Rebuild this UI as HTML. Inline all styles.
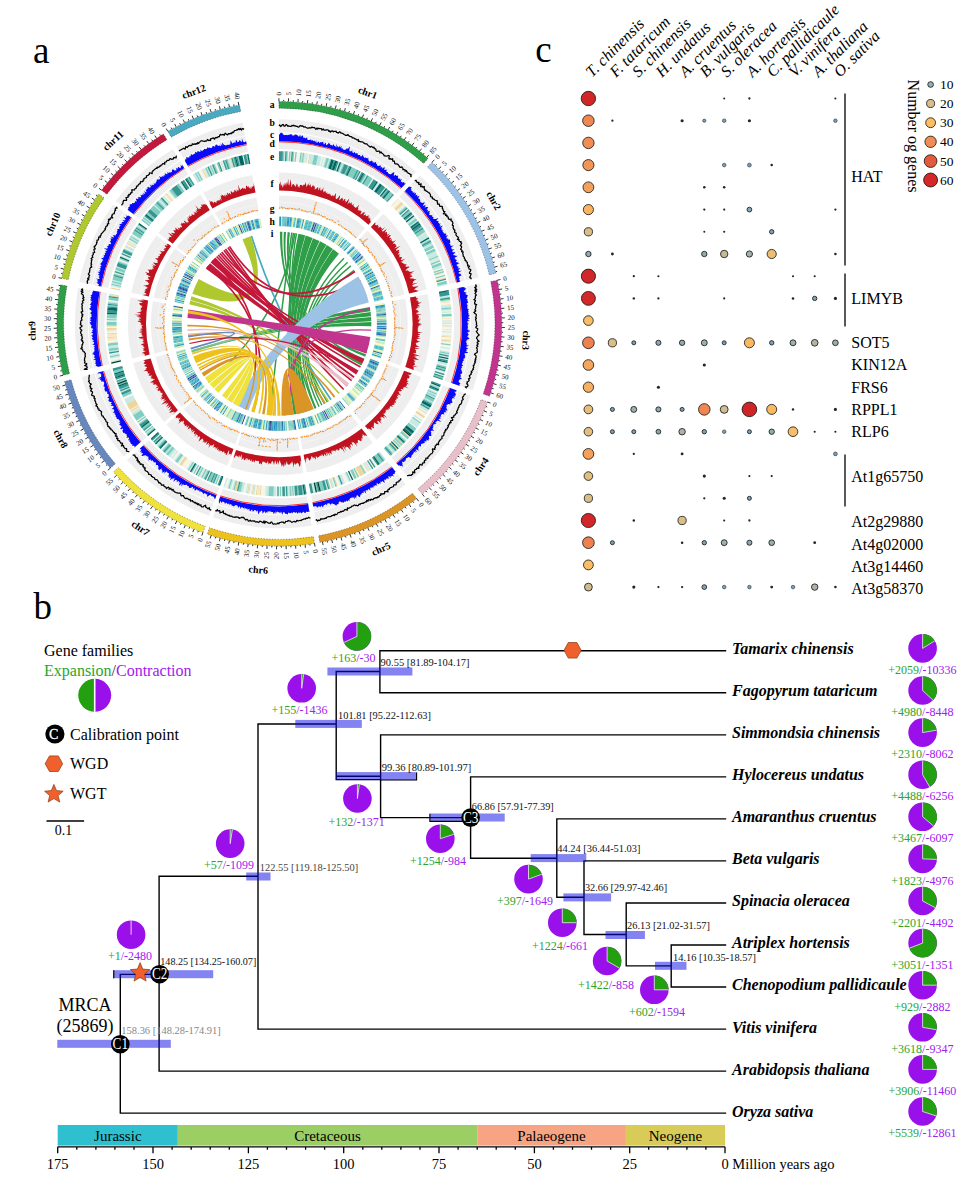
<!DOCTYPE html><html><head><meta charset="utf-8"><title>Figure</title><style>html,body{margin:0;padding:0;background:#fff}svg{display:block}text{font-family:'Liberation Serif',serif}</style></head><body>
<svg width="978" height="1192" viewBox="0 0 978 1192">
<rect width="978" height="1192" fill="#fff"/>
<text x="33" y="62.6" font-size="37">a</text>
<text x="33.5" y="619.2" font-size="37">b</text>
<text x="535.2" y="61.5" font-size="37">c</text>
<g id="circos">
<path d="M278.9,119.3A204.5,204.5 0 0 1 416.1,171.8L407.4,181.4A191.5,191.5 0 0 0 279.0,132.3ZM279.0,133.2A190.6,190.6 0 0 1 406.8,182.1L396.3,193.8A174.8,174.8 0 0 0 279.0,149.0ZM279.0,172.5A151.3,151.3 0 0 1 380.5,211.3L368.5,224.7A133.3,133.3 0 0 0 279.1,190.5ZM279.1,195.4A128.4,128.4 0 0 1 365.2,228.3L355.9,238.7A114.5,114.5 0 0 0 279.1,209.3ZM419.8,175.2A204.5,204.5 0 0 1 478.5,277.4L465.8,280.3A191.5,191.5 0 0 0 410.9,184.6ZM410.3,185.3A190.6,190.6 0 0 1 464.9,280.6L449.6,284.1A174.8,174.8 0 0 0 399.4,196.7ZM383.3,213.8A151.3,151.3 0 0 1 426.7,289.5L409.1,293.5A133.3,133.3 0 0 0 370.9,226.9ZM367.5,230.5A128.4,128.4 0 0 1 404.4,294.6L390.8,297.8A114.5,114.5 0 0 0 358.0,240.6ZM479.8,283.7A204.5,204.5 0 0 1 472.7,390.3L460.4,386.1A191.5,191.5 0 0 0 467.1,286.2ZM466.2,286.4A190.6,190.6 0 0 1 459.5,385.8L444.6,380.7A174.8,174.8 0 0 0 450.7,289.5ZM427.7,294.1A151.3,151.3 0 0 1 422.4,373.0L405.3,367.1A133.3,133.3 0 0 0 410.0,297.6ZM405.2,298.6A128.4,128.4 0 0 1 400.7,365.6L387.6,361.0A114.5,114.5 0 0 0 391.6,301.3ZM470.7,395.7A204.5,204.5 0 0 1 410.8,480.4L402.4,470.4A191.5,191.5 0 0 0 458.6,391.1ZM457.7,390.8A190.6,190.6 0 0 1 401.8,469.8L391.7,457.7A174.8,174.8 0 0 0 442.9,385.3ZM420.9,377.0A151.3,151.3 0 0 1 376.6,439.7L365.0,425.9A133.3,133.3 0 0 0 404.1,370.7ZM399.5,368.9A128.4,128.4 0 0 1 361.8,422.1L352.9,411.5A114.5,114.5 0 0 0 386.5,364.0ZM405.6,484.6A204.5,204.5 0 0 1 316.6,524.8L314.2,512.0A191.5,191.5 0 0 0 397.6,474.3ZM397.0,473.6A190.6,190.6 0 0 1 314.0,511.2L311.2,495.6A174.8,174.8 0 0 0 387.3,461.2ZM372.8,442.7A151.3,151.3 0 0 1 306.9,472.5L303.6,454.8A133.3,133.3 0 0 0 361.6,428.6ZM358.6,424.7A128.4,128.4 0 0 1 302.7,450.0L300.2,436.3A114.5,114.5 0 0 0 350.0,413.8ZM311.6,525.7A204.5,204.5 0 0 1 213.1,517.2L217.3,504.9A191.5,191.5 0 0 0 309.6,512.8ZM309.4,512.0A190.6,190.6 0 0 1 217.6,504.1L222.7,489.1A174.8,174.8 0 0 0 306.9,496.3ZM303.2,473.1A151.3,151.3 0 0 1 230.3,466.9L236.1,449.9A133.3,133.3 0 0 0 300.4,455.4ZM299.6,450.5A128.4,128.4 0 0 1 237.7,445.2L242.2,432.1A114.5,114.5 0 0 0 297.4,436.8ZM209.0,515.8A204.5,204.5 0 0 1 126.9,460.1L136.5,451.4A191.5,191.5 0 0 0 213.5,503.6ZM213.8,502.7A190.6,190.6 0 0 1 137.2,450.8L149.0,440.3A174.8,174.8 0 0 0 219.2,487.9ZM227.3,465.8A151.3,151.3 0 0 1 166.5,424.6L179.9,412.6A133.3,133.3 0 0 0 233.5,448.9ZM235.2,444.3A128.4,128.4 0 0 1 183.6,409.3L193.9,400.1A114.5,114.5 0 0 0 240.0,431.3ZM123.8,456.6A204.5,204.5 0 0 1 81.8,376.9L94.4,373.5A191.5,191.5 0 0 0 133.7,448.1ZM134.4,447.5A190.6,190.6 0 0 1 95.2,373.2L110.5,369.1A174.8,174.8 0 0 0 146.4,437.3ZM164.3,422.0A151.3,151.3 0 0 1 133.2,363.0L150.6,358.4A133.3,133.3 0 0 0 177.9,410.3ZM181.7,407.1A128.4,128.4 0 0 1 155.3,357.1L168.7,353.5A114.5,114.5 0 0 0 192.2,398.1ZM80.4,371.1A204.5,204.5 0 0 1 78.0,287.9L90.8,290.2A191.5,191.5 0 0 0 93.0,368.1ZM93.9,367.9A190.6,190.6 0 0 1 91.7,290.3L107.2,293.1A174.8,174.8 0 0 0 109.3,364.3ZM132.1,358.8A151.3,151.3 0 0 1 130.3,297.2L148.1,300.4A133.3,133.3 0 0 0 149.6,354.6ZM154.4,353.5A128.4,128.4 0 0 1 152.9,301.2L166.6,303.7A114.5,114.5 0 0 0 167.9,350.3ZM79.1,281.9A204.5,204.5 0 0 1 113.2,204.4L123.8,212.0A191.5,191.5 0 0 0 91.8,284.6ZM92.7,284.8A190.6,190.6 0 0 1 124.5,212.5L137.3,221.7A174.8,174.8 0 0 0 108.2,288.0ZM131.2,292.8A151.3,151.3 0 0 1 156.4,235.5L171.0,246.0A133.3,133.3 0 0 0 148.8,296.5ZM153.6,297.5A128.4,128.4 0 0 1 175.0,248.8L186.3,256.9A114.5,114.5 0 0 0 167.2,300.3ZM115.8,201.0A204.5,204.5 0 0 1 172.8,149.2L179.5,160.3A191.5,191.5 0 0 0 126.2,208.8ZM126.9,209.3A190.6,190.6 0 0 1 180.0,161.1L188.2,174.5A174.8,174.8 0 0 0 139.5,218.8ZM158.3,232.9A151.3,151.3 0 0 1 200.5,194.6L209.8,210.0A133.3,133.3 0 0 0 172.7,243.7ZM176.6,246.7A128.4,128.4 0 0 1 212.4,214.2L219.6,226.0A114.5,114.5 0 0 0 187.7,255.0ZM176.7,146.8A204.5,204.5 0 0 1 242.7,122.5L245.1,135.3A191.5,191.5 0 0 0 183.3,158.1ZM183.7,158.9A190.6,190.6 0 0 1 245.2,136.2L248.0,151.8A174.8,174.8 0 0 0 191.6,172.5ZM203.4,192.9A151.3,151.3 0 0 1 252.2,174.9L255.5,192.6A133.3,133.3 0 0 0 212.4,208.4ZM214.9,212.7A128.4,128.4 0 0 1 256.3,197.4L258.8,211.1A114.5,114.5 0 0 0 221.9,224.7Z" fill="#eeeeee"/>
<path d="M279.0,125.8A198,198 0 0 1 411.8,176.6M279.0,137.2A186.6,186.6 0 0 1 404.2,185.1M279.1,181.5A142.3,142.3 0 0 1 374.5,218.0M279.1,202.4A121.4,121.4 0 0 1 360.5,233.5M415.3,179.9A198,198 0 0 1 472.1,278.9M407.5,188.2A186.6,186.6 0 0 1 461.0,281.5M377.1,220.4A142.3,142.3 0 0 1 417.9,291.5M362.7,235.5A121.4,121.4 0 0 1 397.5,296.2M473.5,285.0A198,198 0 0 1 466.5,388.2M462.3,287.2A186.6,186.6 0 0 1 455.7,384.5M418.8,295.9A142.3,142.3 0 0 1 413.8,370.1M398.3,300.0A121.4,121.4 0 0 1 394.1,363.3M464.6,393.4A198,198 0 0 1 406.6,475.4M454.0,389.4A186.6,186.6 0 0 1 399.2,466.7M412.5,373.8A142.3,142.3 0 0 1 370.8,432.8M392.9,366.5A121.4,121.4 0 0 1 357.3,416.7M401.6,479.5A198,198 0 0 1 315.4,518.4M394.6,470.5A186.6,186.6 0 0 1 313.3,507.2M367.2,435.7A142.3,142.3 0 0 1 305.2,463.7M354.3,419.2A121.4,121.4 0 0 1 301.4,443.1M310.6,519.3A198,198 0 0 1 215.2,511.1M308.8,508.0A186.6,186.6 0 0 1 218.9,500.3M301.8,464.3A142.3,142.3 0 0 1 233.2,458.4M298.5,443.6A121.4,121.4 0 0 1 240.0,438.6M211.3,509.7A198,198 0 0 1 131.7,455.7M215.2,499.0A186.6,186.6 0 0 1 140.2,448.1M230.4,457.4A142.3,142.3 0 0 1 173.2,418.6M237.6,437.8A121.4,121.4 0 0 1 188.8,404.7M128.7,452.3A198,198 0 0 1 88.1,375.2M137.4,444.9A186.6,186.6 0 0 1 99.1,372.2M171.1,416.2A142.3,142.3 0 0 1 141.9,360.7M187.0,402.6A121.4,121.4 0 0 1 162.1,355.3M86.7,369.6A198,198 0 0 1 84.4,289.0M97.8,367.0A186.6,186.6 0 0 1 95.6,291.0M140.9,356.7A142.3,142.3 0 0 1 139.2,298.8M161.2,351.9A121.4,121.4 0 0 1 159.8,302.5M85.5,283.3A198,198 0 0 1 118.5,208.2M96.6,285.6A186.6,186.6 0 0 1 127.8,214.9M140.0,294.7A142.3,142.3 0 0 1 163.7,240.7M160.5,298.9A121.4,121.4 0 0 1 180.7,252.9M121.0,204.9A198,198 0 0 1 176.1,154.7M130.1,211.7A186.6,186.6 0 0 1 182.1,164.5M165.5,238.3A142.3,142.3 0 0 1 205.2,202.3M182.2,250.9A121.4,121.4 0 0 1 216.0,220.1M180.0,152.5A198,198 0 0 1 243.9,128.9M185.7,162.3A186.6,186.6 0 0 1 245.9,140.2M207.9,200.6A142.3,142.3 0 0 1 253.9,183.7M218.4,218.7A121.4,121.4 0 0 1 257.6,204.3" fill="none" stroke="#f8f8f8" stroke-width="0.6"/>
<path d="M278.9,101.4A222.4,222.4 0 0 1 428.1,158.5L423.6,163.5A215.6,215.6 0 0 0 278.9,108.2Z" fill="#2f9e48" stroke="#222" stroke-width="0.45" stroke-dasharray="1.2 1.6"/>
<path d="M432.1,162.2A222.4,222.4 0 0 1 495.9,273.3L489.3,274.9A215.6,215.6 0 0 0 427.4,167.1Z" fill="#9cc2e6" stroke="#222" stroke-width="0.45" stroke-dasharray="1.2 1.6"/>
<path d="M497.4,280.2A222.4,222.4 0 0 1 489.6,396.2L483.2,393.9A215.6,215.6 0 0 0 490.7,281.5Z" fill="#c1358f" stroke="#222" stroke-width="0.45" stroke-dasharray="1.2 1.6"/>
<path d="M487.5,402.0A222.4,222.4 0 0 1 422.3,494.1L417.9,488.9A215.6,215.6 0 0 0 481.1,399.6Z" fill="#e9bfca" stroke="#222" stroke-width="0.45" stroke-dasharray="1.2 1.6"/>
<path d="M416.7,498.6A222.4,222.4 0 0 1 319.8,542.4L318.6,535.7A215.6,215.6 0 0 0 412.5,493.3Z" fill="#db9527" stroke="#222" stroke-width="0.45" stroke-dasharray="1.2 1.6"/>
<path d="M314.5,543.4A222.4,222.4 0 0 1 207.3,534.2L209.5,527.7A215.6,215.6 0 0 0 313.4,536.6Z" fill="#edc21c" stroke="#222" stroke-width="0.45" stroke-dasharray="1.2 1.6"/>
<path d="M202.9,532.6A222.4,222.4 0 0 1 113.5,472.0L118.6,467.5A215.6,215.6 0 0 0 205.2,526.2Z" fill="#efe23c" stroke="#222" stroke-width="0.45" stroke-dasharray="1.2 1.6"/>
<path d="M110.2,468.2A222.4,222.4 0 0 1 64.5,381.5L71.1,379.7A215.6,215.6 0 0 0 115.4,463.8Z" fill="#6788bf" stroke="#222" stroke-width="0.45" stroke-dasharray="1.2 1.6"/>
<path d="M63.0,375.3A222.4,222.4 0 0 1 60.3,284.7L67.0,285.9A215.6,215.6 0 0 0 69.6,373.7Z" fill="#2f9e48" stroke="#222" stroke-width="0.45" stroke-dasharray="1.2 1.6"/>
<path d="M61.6,278.3A222.4,222.4 0 0 1 98.7,194.0L104.2,197.9A215.6,215.6 0 0 0 68.3,279.7Z" fill="#afc82f" stroke="#222" stroke-width="0.45" stroke-dasharray="1.2 1.6"/>
<path d="M101.5,190.2A222.4,222.4 0 0 1 163.4,133.9L167.0,139.7A215.6,215.6 0 0 0 106.9,194.3Z" fill="#c3183b" stroke="#222" stroke-width="0.45" stroke-dasharray="1.2 1.6"/>
<path d="M167.8,131.3A222.4,222.4 0 0 1 239.5,104.9L240.8,111.6A215.6,215.6 0 0 0 171.2,137.2Z" fill="#49a9c1" stroke="#222" stroke-width="0.45" stroke-dasharray="1.2 1.6"/>
<text transform="translate(278.9,95.4) rotate(-90.1)" font-size="7" dy="2.3" text-anchor="start" fill="#111">0</text>
<text transform="translate(288.7,95.5) rotate(-87.7)" font-size="7" dy="2.3" text-anchor="start" fill="#111">5</text>
<text transform="translate(298.4,96.2) rotate(-85.2)" font-size="7" dy="2.3" text-anchor="start" fill="#111">10</text>
<text transform="translate(308.1,97.2) rotate(-82.8)" font-size="7" dy="2.3" text-anchor="start" fill="#111">15</text>
<text transform="translate(317.8,98.6) rotate(-80.3)" font-size="7" dy="2.3" text-anchor="start" fill="#111">20</text>
<text transform="translate(327.4,100.5) rotate(-77.8)" font-size="7" dy="2.3" text-anchor="start" fill="#111">25</text>
<text transform="translate(336.9,102.7) rotate(-75.4)" font-size="7" dy="2.3" text-anchor="start" fill="#111">30</text>
<text transform="translate(346.3,105.4) rotate(-73.0)" font-size="7" dy="2.3" text-anchor="start" fill="#111">35</text>
<text transform="translate(355.5,108.5) rotate(-70.5)" font-size="7" dy="2.3" text-anchor="start" fill="#111">40</text>
<text transform="translate(364.7,111.9) rotate(-68.0)" font-size="7" dy="2.3" text-anchor="start" fill="#111">45</text>
<text transform="translate(373.7,115.7) rotate(-65.6)" font-size="7" dy="2.3" text-anchor="start" fill="#111">50</text>
<text transform="translate(382.5,120.0) rotate(-63.2)" font-size="7" dy="2.3" text-anchor="start" fill="#111">55</text>
<text transform="translate(391.1,124.6) rotate(-60.7)" font-size="7" dy="2.3" text-anchor="start" fill="#111">60</text>
<text transform="translate(399.5,129.5) rotate(-58.2)" font-size="7" dy="2.3" text-anchor="start" fill="#111">65</text>
<text transform="translate(407.7,134.8) rotate(-55.8)" font-size="7" dy="2.3" text-anchor="start" fill="#111">70</text>
<text transform="translate(415.6,140.5) rotate(-53.4)" font-size="7" dy="2.3" text-anchor="start" fill="#111">75</text>
<text transform="translate(423.3,146.5) rotate(-50.9)" font-size="7" dy="2.3" text-anchor="start" fill="#111">80</text>
<text transform="translate(430.8,152.8) rotate(-48.4)" font-size="7" dy="2.3" text-anchor="start" fill="#111">85</text>
<text transform="translate(436.2,157.8) rotate(-46.6)" font-size="7" dy="2.3" text-anchor="start" fill="#111">0</text>
<text transform="translate(443.2,164.7) rotate(-44.1)" font-size="7" dy="2.3" text-anchor="start" fill="#111">5</text>
<text transform="translate(449.8,171.8) rotate(-41.7)" font-size="7" dy="2.3" text-anchor="start" fill="#111">10</text>
<text transform="translate(456.2,179.2) rotate(-39.2)" font-size="7" dy="2.3" text-anchor="start" fill="#111">15</text>
<text transform="translate(462.2,186.9) rotate(-36.8)" font-size="7" dy="2.3" text-anchor="start" fill="#111">20</text>
<text transform="translate(467.9,194.9) rotate(-34.3)" font-size="7" dy="2.3" text-anchor="start" fill="#111">25</text>
<text transform="translate(473.2,203.1) rotate(-31.9)" font-size="7" dy="2.3" text-anchor="start" fill="#111">30</text>
<text transform="translate(478.2,211.5) rotate(-29.4)" font-size="7" dy="2.3" text-anchor="start" fill="#111">35</text>
<text transform="translate(482.8,220.1) rotate(-27.0)" font-size="7" dy="2.3" text-anchor="start" fill="#111">40</text>
<text transform="translate(487.1,228.9) rotate(-24.5)" font-size="7" dy="2.3" text-anchor="start" fill="#111">45</text>
<text transform="translate(490.9,237.8) rotate(-22.1)" font-size="7" dy="2.3" text-anchor="start" fill="#111">50</text>
<text transform="translate(494.4,246.9) rotate(-19.6)" font-size="7" dy="2.3" text-anchor="start" fill="#111">55</text>
<text transform="translate(497.5,256.2) rotate(-17.2)" font-size="7" dy="2.3" text-anchor="start" fill="#111">60</text>
<text transform="translate(500.2,265.6) rotate(-14.7)" font-size="7" dy="2.3" text-anchor="start" fill="#111">65</text>
<text transform="translate(503.3,279.0) rotate(-11.3)" font-size="7" dy="2.3" text-anchor="start" fill="#111">0</text>
<text transform="translate(505.0,288.6) rotate(-8.8)" font-size="7" dy="2.3" text-anchor="start" fill="#111">5</text>
<text transform="translate(506.3,298.3) rotate(-6.4)" font-size="7" dy="2.3" text-anchor="start" fill="#111">10</text>
<text transform="translate(507.2,308.0) rotate(-3.9)" font-size="7" dy="2.3" text-anchor="start" fill="#111">15</text>
<text transform="translate(507.6,317.8) rotate(-1.5)" font-size="7" dy="2.3" text-anchor="start" fill="#111">20</text>
<text transform="translate(507.7,327.5) rotate(1.0)" font-size="7" dy="2.3" text-anchor="start" fill="#111">25</text>
<text transform="translate(507.3,337.3) rotate(3.4)" font-size="7" dy="2.3" text-anchor="start" fill="#111">30</text>
<text transform="translate(506.5,347.0) rotate(5.9)" font-size="7" dy="2.3" text-anchor="start" fill="#111">35</text>
<text transform="translate(505.3,356.7) rotate(8.3)" font-size="7" dy="2.3" text-anchor="start" fill="#111">40</text>
<text transform="translate(503.7,366.4) rotate(10.8)" font-size="7" dy="2.3" text-anchor="start" fill="#111">45</text>
<text transform="translate(501.7,375.9) rotate(13.2)" font-size="7" dy="2.3" text-anchor="start" fill="#111">50</text>
<text transform="translate(499.2,385.4) rotate(15.7)" font-size="7" dy="2.3" text-anchor="start" fill="#111">55</text>
<text transform="translate(496.4,394.7) rotate(18.1)" font-size="7" dy="2.3" text-anchor="start" fill="#111">60</text>
<text transform="translate(493.1,404.1) rotate(20.6)" font-size="7" dy="2.3" text-anchor="start" fill="#111">0</text>
<text transform="translate(489.5,413.2) rotate(23.0)" font-size="7" dy="2.3" text-anchor="start" fill="#111">5</text>
<text transform="translate(485.5,422.1) rotate(25.5)" font-size="7" dy="2.3" text-anchor="start" fill="#111">10</text>
<text transform="translate(481.1,430.8) rotate(28.0)" font-size="7" dy="2.3" text-anchor="start" fill="#111">15</text>
<text transform="translate(476.3,439.3) rotate(30.4)" font-size="7" dy="2.3" text-anchor="start" fill="#111">20</text>
<text transform="translate(471.2,447.6) rotate(32.9)" font-size="7" dy="2.3" text-anchor="start" fill="#111">25</text>
<text transform="translate(465.7,455.7) rotate(35.3)" font-size="7" dy="2.3" text-anchor="start" fill="#111">30</text>
<text transform="translate(459.9,463.6) rotate(37.8)" font-size="7" dy="2.3" text-anchor="start" fill="#111">35</text>
<text transform="translate(453.8,471.2) rotate(40.2)" font-size="7" dy="2.3" text-anchor="start" fill="#111">40</text>
<text transform="translate(447.3,478.5) rotate(42.7)" font-size="7" dy="2.3" text-anchor="start" fill="#111">45</text>
<text transform="translate(440.5,485.5) rotate(45.1)" font-size="7" dy="2.3" text-anchor="start" fill="#111">50</text>
<text transform="translate(433.5,492.3) rotate(47.5)" font-size="7" dy="2.3" text-anchor="start" fill="#111">55</text>
<text transform="translate(426.1,498.7) rotate(50.0)" font-size="7" dy="2.3" text-anchor="start" fill="#111">60</text>
<text transform="translate(420.4,503.4) rotate(51.8)" font-size="7" dy="2.3" text-anchor="start" fill="#111">0</text>
<text transform="translate(412.6,509.2) rotate(54.3)" font-size="7" dy="2.3" text-anchor="start" fill="#111">5</text>
<text transform="translate(404.5,514.8) rotate(56.7)" font-size="7" dy="2.3" text-anchor="start" fill="#111">10</text>
<text transform="translate(396.3,519.9) rotate(59.2)" font-size="7" dy="2.3" text-anchor="start" fill="#111">15</text>
<text transform="translate(387.8,524.8) rotate(61.6)" font-size="7" dy="2.3" text-anchor="start" fill="#111">20</text>
<text transform="translate(379.1,529.2) rotate(64.1)" font-size="7" dy="2.3" text-anchor="start" fill="#111">25</text>
<text transform="translate(370.2,533.3) rotate(66.5)" font-size="7" dy="2.3" text-anchor="start" fill="#111">30</text>
<text transform="translate(361.2,537.0) rotate(69.0)" font-size="7" dy="2.3" text-anchor="start" fill="#111">35</text>
<text transform="translate(352.0,540.3) rotate(71.4)" font-size="7" dy="2.3" text-anchor="start" fill="#111">40</text>
<text transform="translate(342.6,543.2) rotate(73.9)" font-size="7" dy="2.3" text-anchor="start" fill="#111">45</text>
<text transform="translate(333.2,545.7) rotate(76.3)" font-size="7" dy="2.3" text-anchor="start" fill="#111">50</text>
<text transform="translate(323.7,547.8) rotate(78.8)" font-size="7" dy="2.3" text-anchor="start" fill="#111">55</text>
<text transform="translate(315.4,549.3) rotate(80.9)" font-size="7" dy="2.3" text-anchor="start" fill="#111">0</text>
<text transform="translate(305.7,550.6) rotate(83.3)" font-size="7" dy="2.3" text-anchor="start" fill="#111">5</text>
<text transform="translate(296.0,551.5) rotate(85.8)" font-size="7" dy="2.3" text-anchor="start" fill="#111">10</text>
<text transform="translate(286.3,552.0) rotate(88.2)" font-size="7" dy="2.3" text-anchor="start" fill="#111">15</text>
<text transform="translate(276.5,552.1) rotate(270.7)" font-size="7" dy="2.3" text-anchor="end" fill="#111">20</text>
<text transform="translate(266.7,551.8) rotate(273.1)" font-size="7" dy="2.3" text-anchor="end" fill="#111">25</text>
<text transform="translate(257.0,551.1) rotate(275.6)" font-size="7" dy="2.3" text-anchor="end" fill="#111">30</text>
<text transform="translate(247.3,549.9) rotate(278.0)" font-size="7" dy="2.3" text-anchor="end" fill="#111">35</text>
<text transform="translate(237.7,548.3) rotate(280.5)" font-size="7" dy="2.3" text-anchor="end" fill="#111">40</text>
<text transform="translate(228.1,546.3) rotate(282.9)" font-size="7" dy="2.3" text-anchor="end" fill="#111">45</text>
<text transform="translate(218.6,543.9) rotate(285.4)" font-size="7" dy="2.3" text-anchor="end" fill="#111">50</text>
<text transform="translate(209.3,541.2) rotate(287.8)" font-size="7" dy="2.3" text-anchor="end" fill="#111">55</text>
<text transform="translate(200.8,538.2) rotate(290.1)" font-size="7" dy="2.3" text-anchor="end" fill="#111">0</text>
<text transform="translate(191.7,534.7) rotate(292.5)" font-size="7" dy="2.3" text-anchor="end" fill="#111">5</text>
<text transform="translate(182.8,530.8) rotate(295.0)" font-size="7" dy="2.3" text-anchor="end" fill="#111">10</text>
<text transform="translate(174.0,526.4) rotate(297.4)" font-size="7" dy="2.3" text-anchor="end" fill="#111">15</text>
<text transform="translate(165.4,521.7) rotate(299.9)" font-size="7" dy="2.3" text-anchor="end" fill="#111">20</text>
<text transform="translate(157.1,516.7) rotate(302.3)" font-size="7" dy="2.3" text-anchor="end" fill="#111">25</text>
<text transform="translate(148.9,511.3) rotate(304.8)" font-size="7" dy="2.3" text-anchor="end" fill="#111">30</text>
<text transform="translate(141.1,505.6) rotate(307.2)" font-size="7" dy="2.3" text-anchor="end" fill="#111">35</text>
<text transform="translate(133.4,499.5) rotate(309.7)" font-size="7" dy="2.3" text-anchor="end" fill="#111">40</text>
<text transform="translate(126.0,493.1) rotate(312.1)" font-size="7" dy="2.3" text-anchor="end" fill="#111">45</text>
<text transform="translate(118.9,486.4) rotate(314.6)" font-size="7" dy="2.3" text-anchor="end" fill="#111">50</text>
<text transform="translate(112.1,479.4) rotate(317.0)" font-size="7" dy="2.3" text-anchor="end" fill="#111">55</text>
<text transform="translate(105.6,472.1) rotate(319.5)" font-size="7" dy="2.3" text-anchor="end" fill="#111">0</text>
<text transform="translate(99.4,464.5) rotate(321.9)" font-size="7" dy="2.3" text-anchor="end" fill="#111">5</text>
<text transform="translate(93.6,456.7) rotate(324.4)" font-size="7" dy="2.3" text-anchor="end" fill="#111">10</text>
<text transform="translate(88.1,448.6) rotate(326.8)" font-size="7" dy="2.3" text-anchor="end" fill="#111">15</text>
<text transform="translate(82.9,440.4) rotate(329.3)" font-size="7" dy="2.3" text-anchor="end" fill="#111">20</text>
<text transform="translate(78.1,431.9) rotate(331.7)" font-size="7" dy="2.3" text-anchor="end" fill="#111">25</text>
<text transform="translate(73.7,423.2) rotate(334.2)" font-size="7" dy="2.3" text-anchor="end" fill="#111">30</text>
<text transform="translate(69.6,414.3) rotate(336.6)" font-size="7" dy="2.3" text-anchor="end" fill="#111">35</text>
<text transform="translate(65.9,405.2) rotate(339.1)" font-size="7" dy="2.3" text-anchor="end" fill="#111">40</text>
<text transform="translate(62.6,396.0) rotate(341.5)" font-size="7" dy="2.3" text-anchor="end" fill="#111">45</text>
<text transform="translate(59.7,386.7) rotate(344.0)" font-size="7" dy="2.3" text-anchor="end" fill="#111">50</text>
<text transform="translate(57.1,376.7) rotate(346.6)" font-size="7" dy="2.3" text-anchor="end" fill="#111">0</text>
<text transform="translate(55.1,367.1) rotate(349.1)" font-size="7" dy="2.3" text-anchor="end" fill="#111">5</text>
<text transform="translate(53.4,357.5) rotate(351.5)" font-size="7" dy="2.3" text-anchor="end" fill="#111">10</text>
<text transform="translate(52.2,347.8) rotate(353.9)" font-size="7" dy="2.3" text-anchor="end" fill="#111">15</text>
<text transform="translate(51.4,338.1) rotate(356.4)" font-size="7" dy="2.3" text-anchor="end" fill="#111">20</text>
<text transform="translate(50.9,328.3) rotate(358.8)" font-size="7" dy="2.3" text-anchor="end" fill="#111">25</text>
<text transform="translate(51.0,318.6) rotate(361.3)" font-size="7" dy="2.3" text-anchor="end" fill="#111">30</text>
<text transform="translate(51.4,308.8) rotate(363.7)" font-size="7" dy="2.3" text-anchor="end" fill="#111">35</text>
<text transform="translate(52.2,299.1) rotate(366.2)" font-size="7" dy="2.3" text-anchor="end" fill="#111">40</text>
<text transform="translate(53.5,289.4) rotate(368.6)" font-size="7" dy="2.3" text-anchor="end" fill="#111">45</text>
<text transform="translate(55.7,277.0) rotate(371.8)" font-size="7" dy="2.3" text-anchor="end" fill="#111">0</text>
<text transform="translate(57.9,267.5) rotate(374.2)" font-size="7" dy="2.3" text-anchor="end" fill="#111">5</text>
<text transform="translate(60.5,258.1) rotate(376.7)" font-size="7" dy="2.3" text-anchor="end" fill="#111">10</text>
<text transform="translate(63.5,248.8) rotate(379.1)" font-size="7" dy="2.3" text-anchor="end" fill="#111">15</text>
<text transform="translate(66.9,239.7) rotate(381.6)" font-size="7" dy="2.3" text-anchor="end" fill="#111">20</text>
<text transform="translate(70.7,230.7) rotate(384.0)" font-size="7" dy="2.3" text-anchor="end" fill="#111">25</text>
<text transform="translate(74.9,221.8) rotate(386.5)" font-size="7" dy="2.3" text-anchor="end" fill="#111">30</text>
<text transform="translate(79.4,213.2) rotate(388.9)" font-size="7" dy="2.3" text-anchor="end" fill="#111">35</text>
<text transform="translate(84.3,204.8) rotate(391.4)" font-size="7" dy="2.3" text-anchor="end" fill="#111">40</text>
<text transform="translate(89.6,196.5) rotate(393.8)" font-size="7" dy="2.3" text-anchor="end" fill="#111">45</text>
<text transform="translate(96.7,186.6) rotate(396.9)" font-size="7" dy="2.3" text-anchor="end" fill="#111">0</text>
<text transform="translate(102.7,178.9) rotate(399.3)" font-size="7" dy="2.3" text-anchor="end" fill="#111">5</text>
<text transform="translate(109.0,171.5) rotate(401.8)" font-size="7" dy="2.3" text-anchor="end" fill="#111">10</text>
<text transform="translate(115.7,164.4) rotate(404.2)" font-size="7" dy="2.3" text-anchor="end" fill="#111">15</text>
<text transform="translate(122.7,157.5) rotate(406.7)" font-size="7" dy="2.3" text-anchor="end" fill="#111">20</text>
<text transform="translate(129.9,151.0) rotate(409.1)" font-size="7" dy="2.3" text-anchor="end" fill="#111">25</text>
<text transform="translate(137.4,144.8) rotate(411.6)" font-size="7" dy="2.3" text-anchor="end" fill="#111">30</text>
<text transform="translate(145.2,138.9) rotate(414.0)" font-size="7" dy="2.3" text-anchor="end" fill="#111">35</text>
<text transform="translate(153.2,133.3) rotate(416.5)" font-size="7" dy="2.3" text-anchor="end" fill="#111">40</text>
<text transform="translate(164.8,126.1) rotate(419.9)" font-size="7" dy="2.3" text-anchor="end" fill="#111">0</text>
<text transform="translate(173.3,121.4) rotate(422.3)" font-size="7" dy="2.3" text-anchor="end" fill="#111">5</text>
<text transform="translate(182.1,117.1) rotate(424.8)" font-size="7" dy="2.3" text-anchor="end" fill="#111">10</text>
<text transform="translate(191.0,113.1) rotate(427.2)" font-size="7" dy="2.3" text-anchor="end" fill="#111">15</text>
<text transform="translate(200.1,109.5) rotate(429.7)" font-size="7" dy="2.3" text-anchor="end" fill="#111">20</text>
<text transform="translate(209.3,106.3) rotate(432.1)" font-size="7" dy="2.3" text-anchor="end" fill="#111">25</text>
<text transform="translate(218.6,103.6) rotate(434.6)" font-size="7" dy="2.3" text-anchor="end" fill="#111">30</text>
<text transform="translate(228.1,101.2) rotate(437.0)" font-size="7" dy="2.3" text-anchor="end" fill="#111">35</text>
<text transform="translate(237.7,99.2) rotate(439.5)" font-size="7" dy="2.3" text-anchor="end" fill="#111">40</text>
<path d="M278.9,101.4L278.9,98.2M283.7,101.4L283.7,99.8M288.4,101.5L288.6,98.3M293.2,101.8L293.3,100.2M297.9,102.1L298.2,98.9M302.6,102.6L302.8,101.0M307.4,103.1L307.8,100.0M312.1,103.8L312.3,102.2M316.8,104.5L317.3,101.4M321.5,105.4L321.8,103.8M326.1,106.3L326.8,103.2M330.7,107.4L331.1,105.8M335.4,108.5L336.2,105.4M339.9,109.8L340.4,108.2M344.5,111.1L345.4,108.1M349.0,112.6L349.5,111.0M353.5,114.1L354.6,111.1M358.0,115.7L358.6,114.2M362.4,117.5L363.6,114.5M366.8,119.3L367.5,117.8M371.2,121.2L372.5,118.3M375.5,123.2L376.2,121.8M379.7,125.3L381.2,122.5M384.0,127.5L384.7,126.1M388.1,129.8L389.7,127.0M392.3,132.2L393.1,130.8M396.3,134.6L398.0,131.9M400.3,137.2L401.2,135.8M404.3,139.8L406.1,137.2M408.2,142.5L409.1,141.2M412.1,145.3L414.0,142.8M415.8,148.2L416.8,146.9M419.6,151.2L421.6,148.7M423.2,154.2L424.3,153.0M426.8,157.3L428.9,154.9M432.1,162.2L434.3,159.8M435.5,165.5L436.7,164.3M438.9,168.8L441.2,166.6M442.2,172.3L443.3,171.2M445.4,175.8L447.7,173.7M448.5,179.4L449.7,178.3M451.5,183.0L454.0,181.0M454.5,186.8L455.8,185.8M457.4,190.5L459.9,188.6M460.2,194.4L461.5,193.4M462.9,198.3L465.6,196.5M465.6,202.2L466.9,201.3M468.1,206.2L470.8,204.5M470.6,210.3L472.0,209.5M473.0,214.4L475.7,212.8M475.3,218.6L476.7,217.8M477.5,222.8L480.3,221.3M479.6,227.0L481.0,226.3M481.6,231.3L484.5,230.0M483.5,235.7L485.0,235.1M485.4,240.1L488.3,238.9M487.1,244.5L488.6,243.9M488.7,249.0L491.8,247.9M490.3,253.5L491.8,253.0M491.8,258.0L494.8,257.0M493.1,262.5L494.6,262.1M494.4,267.1L497.5,266.3M495.5,271.7L497.1,271.4M497.4,280.2L500.5,279.5M498.3,284.8L499.8,284.6M499.1,289.5L502.2,289.0M499.7,294.2L501.3,294.0M500.3,299.0L503.5,298.6M500.8,303.7L502.4,303.5M501.2,308.4L504.4,308.2M501.4,313.2L503.0,313.1M501.6,317.9L504.8,317.8M501.7,322.7L503.3,322.7M501.7,327.4L504.9,327.5M501.5,332.2L503.1,332.3M501.3,336.9L504.5,337.1M501.0,341.7L502.6,341.8M500.5,346.4L503.7,346.7M500.0,351.1L501.6,351.3M499.4,355.9L502.5,356.3M498.6,360.6L500.2,360.8M497.8,365.2L500.9,365.8M496.9,369.9L498.4,370.2M495.8,374.5L498.9,375.3M494.7,379.2L496.2,379.6M493.5,383.7L496.5,384.6M492.1,388.3L493.7,388.8M490.7,392.8L493.7,393.8M487.5,402.0L490.5,403.1M485.8,406.4L487.2,407.0M483.9,410.8L486.9,412.1M482.0,415.2L483.5,415.8M480.0,419.5L482.9,420.9M477.9,423.8L479.4,424.5M475.8,428.0L478.6,429.5M473.5,432.2L474.9,432.9M471.1,436.3L473.9,437.9M468.7,440.4L470.0,441.2M466.1,444.4L468.8,446.1M463.5,448.4L464.8,449.3M460.8,452.3L463.4,454.1M458.0,456.1L459.3,457.1M455.1,459.9L457.7,461.9M452.2,463.6L453.4,464.6M449.2,467.3L451.6,469.4M446.1,470.9L447.3,472.0M442.9,474.4L445.2,476.6M439.6,477.9L440.8,479.0M436.3,481.3L438.5,483.6M432.9,484.6L434.0,485.8M429.4,487.9L431.6,490.2M425.9,491.0L426.9,492.2M422.3,494.1L424.3,496.6M416.7,498.6L418.7,501.2M412.9,501.5L413.9,502.8M409.1,504.4L410.9,507.0M405.2,507.1L406.1,508.4M401.2,509.7L403.0,512.4M397.2,512.3L398.1,513.7M393.2,514.8L394.8,517.5M389.1,517.2L389.9,518.6M384.9,519.5L386.4,522.3M380.7,521.7L381.4,523.1M376.4,523.8L377.8,526.7M372.1,525.8L372.8,527.3M367.8,527.8L369.1,530.7M363.4,529.6L364.0,531.1M359.0,531.4L360.1,534.4M354.5,533.0L355.1,534.5M350.1,534.6L351.1,537.6M345.5,536.1L346.0,537.6M341.0,537.4L341.9,540.5M336.4,538.7L336.8,540.2M331.8,539.9L332.5,543.0M327.2,540.9L327.5,542.5M322.5,541.9L323.1,545.1M314.5,543.4L315.0,546.5M309.8,544.1L310.0,545.6M305.1,544.7L305.4,547.8M300.3,545.2L300.5,546.7M295.6,545.6L295.8,548.7M290.8,545.9L290.9,547.4M286.1,546.0L286.2,549.2M281.3,546.1L281.4,547.7M276.6,546.1L276.5,549.3M271.8,546.0L271.8,547.6M267.1,545.8L266.9,549.0M262.3,545.5L262.2,547.1M257.6,545.1L257.3,548.3M252.9,544.6L252.7,546.2M248.2,544.0L247.7,547.1M243.5,543.2L243.2,544.8M238.8,542.4L238.2,545.6M234.1,541.5L233.8,543.1M229.5,540.5L228.7,543.6M224.8,539.4L224.4,540.9M220.2,538.2L219.4,541.2M215.7,536.9L215.2,538.4M211.1,535.4L210.1,538.5M202.9,532.6L201.8,535.6M198.4,530.9L197.8,532.4M194.0,529.1L192.8,532.1M189.6,527.3L189.0,528.7M185.3,525.3L184.0,528.2M181.0,523.3L180.3,524.7M176.8,521.1L175.3,524.0M172.6,518.9L171.8,520.3M168.4,516.5L166.8,519.3M164.3,514.1L163.5,515.5M160.3,511.6L158.6,514.3M156.3,509.0L155.4,510.4M152.4,506.4L150.5,509.0M148.5,503.6L147.6,504.9M144.7,500.8L142.7,503.3M140.9,497.9L139.9,499.1M137.2,494.9L135.2,497.3M133.6,491.8L132.6,493.0M130.1,488.6L127.9,491.0M126.6,485.4L125.5,486.6M123.1,482.1L120.9,484.4M119.8,478.7L118.6,479.8M116.5,475.3L114.2,477.5M110.2,468.2L107.8,470.3M107.1,464.5L105.9,465.6M104.2,460.8L101.6,462.8M101.3,457.1L100.0,458.0M98.5,453.2L95.9,455.1M95.7,449.3L94.4,450.2M93.1,445.4L90.4,447.1M90.5,441.4L89.2,442.2M88.1,437.3L85.3,438.9M85.7,433.2L84.3,434.0M83.4,429.0L80.6,430.5M81.2,424.8L79.8,425.5M79.1,420.5L76.2,421.9M77.0,416.2L75.6,416.9M75.1,411.9L72.2,413.2M73.3,407.5L71.8,408.1M71.5,403.1L68.5,404.2M69.9,398.6L68.4,399.2M68.3,394.1L65.3,395.1M66.9,389.6L65.3,390.1M65.5,385.1L62.4,385.9M63.0,375.3L59.8,376.0M61.9,370.7L60.3,371.0M60.9,366.0L57.8,366.6M60.1,361.3L58.5,361.6M59.3,356.6L56.2,357.1M58.7,351.9L57.1,352.1M58.1,347.2L55.0,347.5M57.7,342.5L56.1,342.6M57.3,337.7L54.1,337.9M57.1,333.0L55.5,333.0M56.9,328.2L53.7,328.3M56.9,323.5L55.3,323.5M57.0,318.7L53.8,318.6M57.1,314.0L55.5,313.9M57.4,309.2L54.2,309.0M57.7,304.5L56.1,304.3M58.2,299.7L55.0,299.4M58.8,295.0L57.2,294.8M59.4,290.3L56.3,289.8M60.2,285.6L58.6,285.3M61.6,278.3L58.5,277.6M62.6,273.6L61.1,273.3M63.7,269.0L60.6,268.2M65.0,264.4L63.4,264.0M66.3,259.8L63.2,258.9M67.7,255.3L66.2,254.8M69.2,250.8L66.2,249.7M70.8,246.3L69.3,245.8M72.5,241.9L69.5,240.7M74.3,237.5L72.8,236.9M76.2,233.1L73.3,231.8M78.2,228.8L76.7,228.1M80.3,224.5L77.4,223.1M82.4,220.3L81.0,219.5M84.7,216.1L81.9,214.5M87.0,212.0L85.7,211.2M89.5,207.9L86.7,206.2M92.0,203.8L90.6,203.0M94.6,199.9L91.9,198.1M97.3,195.9L96.0,195.0M101.5,190.2L98.9,188.3M104.3,186.4L103.1,185.5M107.3,182.7L104.8,180.7M110.4,179.1L109.2,178.1M113.5,175.5L111.1,173.4M116.7,172.0L115.5,170.9M120.0,168.6L117.7,166.3M123.3,165.2L122.2,164.1M126.8,161.9L124.6,159.6M130.3,158.7L129.2,157.5M133.8,155.5L131.7,153.1M137.5,152.4L136.4,151.2M141.2,149.5L139.2,146.9M144.9,146.5L143.9,145.3M148.7,143.7L146.9,141.1M152.6,141.0L151.7,139.6M156.5,138.3L154.8,135.6M160.5,135.7L159.7,134.4M167.8,131.3L166.2,128.6M171.9,129.0L171.1,127.6M176.1,126.7L174.6,123.9M180.3,124.6L179.6,123.2M184.6,122.5L183.2,119.6M188.9,120.5L188.3,119.1M193.3,118.7L192.1,115.7M197.7,116.9L197.1,115.4M202.1,115.2L201.0,112.2M206.6,113.6L206.1,112.0M211.1,112.1L210.1,109.0M215.7,110.6L215.2,109.1M220.2,109.3L219.4,106.3M224.8,108.1L224.4,106.6M229.5,107.0L228.7,103.9M234.1,106.0L233.8,104.4M238.8,105.1L238.2,101.9" stroke="#000" stroke-width="0.8" fill="none"/>
<text transform="translate(367.7,92.9) rotate(20.9)" font-size="10" font-weight="bold" text-anchor="middle" dy="3.2">chr1</text>
<text transform="translate(493.7,200.7) rotate(60.2)" font-size="10" font-weight="bold" text-anchor="middle" dy="3.2">chr2</text>
<text transform="translate(525.9,340.3) rotate(93.8)" font-size="10" font-weight="bold" text-anchor="middle" dy="3.2">chr3</text>
<text transform="translate(481.0,466.6) rotate(-54.7)" font-size="10" font-weight="bold" text-anchor="middle" dy="3.2">chr4</text>
<text transform="translate(381.1,549.0) rotate(-24.3)" font-size="10" font-weight="bold" text-anchor="middle" dy="3.2">chr5</text>
<text transform="translate(258.2,570.0) rotate(4.9)" font-size="10" font-weight="bold" text-anchor="middle" dy="3.2">chr6</text>
<text transform="translate(140.5,528.3) rotate(34.1)" font-size="10" font-weight="bold" text-anchor="middle" dy="3.2">chr7</text>
<text transform="translate(60.6,438.9) rotate(62.2)" font-size="10" font-weight="bold" text-anchor="middle" dy="3.2">chr8</text>
<text transform="translate(32.2,330.9) rotate(268.4)" font-size="10" font-weight="bold" text-anchor="middle" dy="3.2">chr9</text>
<text transform="translate(53.0,224.2) rotate(293.8)" font-size="10" font-weight="bold" text-anchor="middle" dy="3.2">chr10</text>
<text transform="translate(113.1,140.8) rotate(317.8)" font-size="10" font-weight="bold" text-anchor="middle" dy="3.2">chr11</text>
<text transform="translate(193.9,91.8) rotate(339.8)" font-size="10" font-weight="bold" text-anchor="middle" dy="3.2">chr12</text>
<path d="M279.0,125.9L279.8,125.0L280.7,126.5L281.6,125.8L282.4,124.7L283.3,124.5L284.1,126.1L285.0,126.2L285.9,124.7L286.8,124.7L287.6,126.1L288.5,125.8L289.3,126.1L290.2,126.4L291.1,126.4L292.0,125.4L292.8,125.9L293.7,125.2L294.6,126.0L295.4,125.9L296.3,126.4L297.1,126.3L297.9,127.0L298.8,127.1L299.8,125.8L300.7,125.6L301.5,126.1L302.4,125.9L303.2,126.4L304.0,127.2L305.0,126.7L305.8,127.3L306.6,127.8L307.4,128.2L308.3,128.1L309.2,127.8L310.1,127.7L310.9,128.1L312.0,127.0L312.7,127.7L313.6,127.6L314.5,127.5L315.2,128.6L315.9,129.4L317.1,128.0L317.8,129.1L318.8,128.2L319.6,128.6L320.6,128.5L321.4,128.6L322.0,130.2L323.2,128.8L323.8,129.9L324.7,130.1L325.6,130.1L326.5,129.8L327.4,129.9L328.3,130.0L328.8,131.4L329.8,130.9L330.4,132.1L331.6,131.1L332.6,130.8L333.2,131.8L334.2,131.4L335.1,131.5L336.1,131.2L336.6,132.5L337.5,132.6L338.3,133.1L339.6,131.8L340.4,132.3L341.0,133.1L341.9,133.2L342.8,133.5L343.5,134.0L344.2,134.5L345.1,134.9L345.8,135.4L346.7,135.4L348.0,134.6L348.6,135.5L349.3,136.1L350.1,136.5L351.0,136.6L351.8,136.8L352.3,137.9L353.3,137.9L354.1,138.1L354.8,138.8L355.7,138.9L356.4,139.5L357.1,140.0L358.3,139.5L358.4,141.5L359.5,141.2L360.2,141.7L361.1,141.8L362.0,141.8L362.9,142.0L363.5,142.9L364.3,143.2L365.0,143.8L365.9,143.9L366.9,143.9L367.4,144.8L368.1,145.4L368.8,145.9L369.5,146.5L370.1,147.1L371.5,146.3L372.2,147.0L372.9,147.5L374.1,147.1L374.2,148.7L375.2,148.6L375.9,149.2L376.0,150.8L376.8,151.3L377.7,151.4L378.9,151.0L379.7,151.3L379.8,152.9L381.3,152.1L381.7,153.1L382.5,153.5L383.2,154.1L383.8,154.7L384.1,155.8L385.2,155.8L385.9,156.2L387.2,155.9L388.5,155.5L389.3,155.9L388.9,158.0L389.2,159.1L390.5,158.7L391.1,159.4L392.7,158.7L392.6,160.3L393.0,161.3L394.2,161.0L394.6,162.0L394.6,163.5L395.4,163.8L396.5,163.8L397.4,164.1L398.1,164.5L398.6,165.4L399.2,166.0L399.6,166.9L400.3,167.4L401.9,166.8L402.2,167.8L403.0,168.2L402.9,169.7L404.1,169.6L405.1,169.8L405.0,171.2L406.5,170.7L406.7,171.9L407.6,172.2L408.0,173.1L408.8,173.4L409.8,173.6L410.1,174.6L411.2,174.6L410.8,176.4L411.5,177.0M414.7,180.6L416.1,180.3L416.4,181.3L416.8,182.1L417.5,182.6L419.0,182.4L418.6,184.0L419.2,184.6L421.2,183.8L420.8,185.4L420.7,186.7L422.4,186.3L422.7,187.2L424.4,186.7L424.1,188.3L424.5,189.1L424.5,190.2L425.8,190.2L426.0,191.2L427.1,191.4L427.8,191.9L428.3,192.6L429.4,192.8L429.7,193.7L430.3,194.4L430.5,195.3L430.5,196.4L431.2,196.9L432.5,197.0L432.2,198.3L433.0,198.9L434.0,199.2L434.6,199.8L435.4,200.3L436.3,200.7L437.4,200.9L437.1,202.2L437.7,202.9L437.4,204.2L439.1,204.0L439.5,204.8L439.5,205.9L440.2,206.4L441.7,206.4L442.5,206.9L442.2,208.2L442.8,208.8L442.9,209.8L443.5,210.5L443.6,211.5L444.9,211.7L443.3,213.8L444.7,213.9L446.0,214.0L445.5,215.4L447.1,215.4L446.8,216.6L448.0,216.9L448.4,217.7L448.3,218.8L449.0,219.3L451.2,219.0L450.8,220.3L451.4,220.9L452.3,221.4L452.6,222.3L453.0,223.1L452.4,224.4L452.4,225.4L453.4,225.9L453.2,227.0L453.1,228.0L453.7,228.7L453.8,229.6L454.9,230.0L454.8,231.0L454.5,232.2L455.4,232.7L456.3,233.2L455.9,234.4L456.1,235.2L456.6,235.9L457.4,236.5L458.0,237.2L458.6,237.9L457.3,239.4L459.1,239.5L458.8,240.6L459.5,241.3L461.1,241.5L460.7,242.6L461.7,243.1L461.2,244.3L460.3,245.6L461.1,246.2L461.7,246.9L461.3,248.0L460.6,249.2L461.4,249.8L462.1,250.5L461.6,251.6L463.2,251.9L462.7,253.0L462.8,253.8L463.2,254.6L463.1,255.6L463.3,256.4L464.1,257.0L464.5,257.8L464.3,258.8L465.3,259.3L465.0,260.4L466.2,260.8L466.2,261.7L467.4,262.3L467.2,263.3L467.5,264.1L468.1,264.8L467.5,265.9L469.6,266.1L468.4,267.4L469.0,268.1L469.0,269.0L470.6,269.4L470.8,270.3L470.3,271.3L469.5,272.4L469.5,273.3L471.2,273.8L470.7,274.8L470.6,275.7L469.9,276.8L469.8,277.7L471.1,278.2L470.7,279.2M476.0,284.4L475.7,285.4L476.4,286.2L474.7,287.4L476.2,288.0L475.1,289.1L476.7,289.7L474.8,290.9L476.6,291.4L475.6,292.5L474.9,293.5L475.8,294.2L476.3,295.0L475.4,296.0L475.4,296.9L475.3,297.8L475.0,298.7L473.9,299.7L475.4,300.4L475.4,301.3L474.6,302.2L474.8,303.1L474.6,303.9L476.6,304.6L475.8,305.6L475.7,306.4L475.7,307.3L475.7,308.2L475.3,309.1L474.8,309.9L475.8,310.7L475.2,311.6L473.9,312.6L475.0,313.4L476.1,314.2L476.3,315.0L476.2,315.9L476.0,316.8L475.5,317.6L476.4,318.5L475.5,319.4L475.8,320.2L476.1,321.1L476.3,321.9L476.5,322.8L476.6,323.6L476.2,324.5L477.0,325.4L476.7,326.2L475.7,327.1L476.4,328.0L477.8,328.8L477.6,329.7L477.2,330.6L476.3,331.4L477.0,332.3L477.5,333.2L478.3,334.1L479.2,335.0L478.1,335.8L477.4,336.6L476.7,337.5L476.6,338.3L477.5,339.3L477.5,340.1L479.1,341.2L477.5,341.9L477.1,342.7L478.2,343.7L477.8,344.5L476.8,345.3L477.8,346.3L477.0,347.1L476.4,347.9L477.3,348.9L477.2,349.7L476.9,350.6L477.5,351.5L477.1,352.4L476.1,353.1L474.9,353.8L474.5,354.6L476.0,355.7L476.1,356.6L476.1,357.5L475.4,358.3L475.9,359.3L474.9,360.0L475.7,361.0L474.6,361.7L475.3,362.7L474.3,363.4L474.2,364.2L474.2,365.1L473.1,365.8L473.6,366.8L473.7,367.7L473.0,368.4L473.4,369.4L472.4,370.1L472.1,370.9L471.2,371.6L471.9,372.6L470.9,373.3L471.2,374.3L470.3,374.9L469.4,375.6L469.5,376.5L470.1,377.5L469.8,378.4L468.5,378.9L469.1,380.0L469.0,380.8L468.1,381.5L466.9,382.0L467.5,383.1L466.7,383.7L468.1,385.1L467.8,385.9L467.3,386.6L465.3,386.9L466.7,388.3M465.8,393.9L464.5,394.3L464.0,395.0L463.7,395.8L463.3,396.6L462.5,397.2L462.6,398.2L463.2,399.4L462.4,400.0L461.8,400.7L461.7,401.6L461.7,402.5L461.2,403.3L460.9,404.1L459.8,404.6L459.4,405.3L458.9,406.0L459.0,407.0L458.3,407.7L458.0,408.5L457.9,409.4L457.4,410.2L457.1,410.9L456.6,411.7L457.2,412.9L456.1,413.4L455.6,414.1L455.3,414.9L454.1,415.3L453.7,416.0L453.9,417.1L452.5,417.4L451.4,417.7L452.8,419.5L452.6,420.4L451.0,420.5L450.6,421.3L451.1,422.6L449.6,422.7L449.7,423.7L448.9,424.3L448.8,425.2L447.8,425.6L448.5,427.0L447.5,427.5L447.4,428.4L446.9,429.1L445.6,429.4L445.9,430.6L444.9,430.9L445.0,432.1L444.1,432.5L444.1,433.5L443.8,434.4L443.8,435.4L443.1,436.0L441.9,436.2L441.9,437.3L442.1,438.5L441.3,439.0L440.3,439.3L440.1,440.3L439.4,440.8L439.1,441.7L438.4,442.2L438.4,443.4L438.6,444.6L436.5,444.1L436.4,445.1L435.7,445.6L435.0,446.2L435.4,447.7L434.5,448.1L434.9,449.5L432.6,448.8L432.4,449.7L433.1,451.4L432.6,452.2L432.3,453.0L431.8,453.7L430.7,454.0L430.2,454.7L429.4,455.2L429.1,456.0L428.3,456.5L427.9,457.4L427.8,458.5L426.0,458.0L425.8,459.0L425.8,460.2L424.7,460.3L424.2,461.1L424.6,462.7L423.5,462.9L422.5,463.1L422.3,464.2L422.1,465.2L420.0,464.3L419.6,465.1L419.3,466.1L418.6,466.7L419.0,468.3L417.5,468.1L416.6,468.4L416.4,469.4L415.3,469.5L414.7,470.1L414.5,471.2L414.8,472.9L412.7,471.8L412.8,473.3L412.6,474.4L411.7,474.7L411.2,475.5L409.8,475.2L408.8,475.4L407.8,475.6L407.2,476.1M400.7,478.2L400.7,479.7L399.9,480.1L399.1,480.4L398.9,481.6L398.0,481.9L397.2,482.3L396.2,482.3L396.3,484.0L395.9,484.9L394.9,484.9L393.7,484.8L393.6,486.2L393.0,486.8L392.0,487.0L391.3,487.5L390.4,487.7L389.7,488.2L389.4,489.3L388.3,489.2L387.8,490.1L388.0,491.9L386.5,491.2L385.7,491.7L384.7,491.6L384.6,493.1L384.1,493.9L382.9,493.7L382.1,494.1L380.8,493.7L380.8,495.3L379.8,495.3L379.3,496.2L378.8,497.1L377.6,496.8L377.2,497.9L376.1,497.7L375.3,497.9L374.5,498.4L373.6,498.4L373.2,499.6L372.2,499.6L371.0,499.2L370.6,500.3L369.4,499.9L368.3,499.6L368.1,501.2L366.7,500.4L366.5,501.9L365.5,501.8L364.8,502.3L364.0,502.6L363.4,503.4L362.3,503.2L361.5,503.5L360.7,503.7L360.0,504.5L359.0,504.2L358.5,505.3L357.8,505.9L356.6,505.2L355.8,505.6L354.6,505.0L353.8,505.3L353.1,506.0L352.3,506.2L351.5,506.4L350.9,507.3L350.0,507.5L349.3,508.0L348.6,508.4L347.4,507.9L347.3,510.1L346.3,509.8L345.3,509.5L344.5,509.9L343.9,510.8L343.2,511.4L342.1,511.1L341.5,511.8L340.4,511.4L339.9,512.5L339.0,512.6L338.1,512.5L337.5,513.5L336.8,514.5L335.9,514.6L334.9,514.2L334.4,515.6L333.3,514.9L332.6,515.6L331.7,515.7L331.0,516.5L330.2,516.7L329.3,516.6L328.4,516.7L327.5,517.0L326.7,517.3L326.1,518.4L325.1,518.1L324.4,518.7L323.5,518.9L322.6,518.8L321.8,519.1L320.8,518.7L320.2,520.1L319.3,520.4L318.4,520.2L317.7,521.1L316.5,519.7L315.7,520.4M310.4,518.2L309.5,517.9L308.6,517.3L307.8,518.1L307.0,518.3L306.1,518.1L305.4,519.1L304.5,518.8L303.6,519.0L302.8,519.7L302.0,519.7L301.2,520.6L300.3,520.3L299.5,520.5L298.6,520.8L297.8,520.9L296.8,520.3L296.1,521.7L295.2,522.0L294.3,521.3L293.5,521.5L292.6,522.0L291.8,522.4L290.9,521.6L290.0,520.9L289.1,521.0L288.2,520.5L287.4,521.4L286.5,521.5L285.7,521.4L284.9,523.0L284.0,523.1L283.1,522.0L282.2,522.1L281.4,522.0L280.5,522.5L279.6,522.7L278.8,523.8L277.9,522.9L277.0,523.9L276.2,524.0L275.3,524.0L274.4,523.8L273.5,524.2L272.7,523.7L271.9,522.2L271.0,522.1L270.1,523.3L269.2,523.2L268.3,523.1L267.5,522.3L266.7,522.0L265.8,521.4L264.8,523.3L264.1,520.9L263.1,522.9L262.3,522.2L261.5,521.7L260.6,521.4L259.8,521.1L258.8,522.5L257.9,522.1L257.1,521.7L256.2,521.9L255.3,522.0L254.6,520.9L253.7,521.2L252.8,520.8L251.9,521.2L251.0,521.1L250.3,520.1L249.3,521.0L248.4,521.2L247.7,519.7L246.9,519.3L245.9,520.0L245.2,519.2L244.4,518.8L243.8,517.4L242.8,517.7L242.1,517.1L241.1,517.8L240.2,517.8L239.2,518.4L238.5,517.3L237.7,517.0L236.8,517.1L236.0,516.8L234.9,517.4L234.2,517.0L233.3,517.0L232.4,516.9L231.7,516.0L230.8,516.0L229.9,516.3L229.3,515.2L228.3,515.6L227.5,515.0L226.8,514.4L225.8,514.6L225.3,513.4L224.3,513.6L223.5,513.2L223.3,510.9L222.0,512.4L221.1,512.3L220.0,512.9L219.8,510.6L218.9,510.9L217.9,510.9L217.4,509.7L216.1,511.1L215.4,510.4M211.3,509.7L210.2,510.0L209.5,509.4L209.3,507.6L207.9,508.8L207.2,508.1L206.5,507.4L205.7,507.2L205.6,505.2L204.4,505.8L203.0,507.0L202.1,506.9L201.2,506.7L201.0,504.9L200.0,505.1L199.1,505.1L198.7,503.7L197.3,504.7L197.1,503.2L196.0,503.5L195.5,502.4L194.4,502.8L193.9,501.9L192.9,501.8L192.6,500.6L191.5,500.8L190.4,501.1L190.3,499.4L189.2,499.7L188.4,499.4L187.8,498.6L187.0,498.2L185.8,498.7L185.0,498.3L184.5,497.5L183.8,496.9L183.5,495.7L182.5,495.6L181.4,495.9L180.8,495.1L180.7,493.6L180.0,493.0L178.9,493.2L177.9,493.2L177.2,492.8L176.3,492.6L175.5,492.2L174.6,492.0L174.1,491.1L173.2,491.0L173.2,489.4L171.8,489.9L171.1,489.4L170.9,488.2L169.1,489.3L169.1,487.7L168.5,487.1L166.4,488.6L166.1,487.6L165.5,486.8L164.6,486.7L163.9,486.1L163.8,484.8L162.4,485.2L161.4,485.1L161.2,483.9L160.4,483.5L159.9,482.7L158.7,482.8L158.5,481.7L157.9,481.0L157.5,480.1L156.7,479.7L155.7,479.6L154.9,479.2L154.6,478.2L154.1,477.5L153.0,477.4L152.5,476.6L151.5,476.5L151.4,475.3L150.7,474.8L149.7,474.5L148.7,474.4L148.7,473.0L148.0,472.6L147.6,471.7L146.8,471.3L145.9,471.0L145.3,470.3L144.7,469.7L145.3,467.8L144.0,467.9L143.9,466.8L142.9,466.6L143.4,464.8L142.1,464.9L141.8,464.0L140.3,464.3L140.1,463.2L139.2,462.9L139.4,461.5L137.9,461.8L138.3,460.1L137.0,460.3L137.5,458.6L137.1,457.7L135.8,457.8L135.7,456.8L134.9,456.3L134.9,455.2L133.7,455.1L132.7,454.8M129.3,451.9L128.3,451.5L127.2,451.4L126.4,450.9L126.7,449.5L126.5,448.5L125.1,448.6L124.5,447.9L123.9,447.3L123.7,446.3L123.4,445.5L121.4,445.9L122.6,443.9L122.2,443.1L120.7,443.2L120.4,442.3L119.8,441.6L119.6,440.7L118.1,440.7L117.7,439.9L118.0,438.6L116.6,438.6L117.1,437.2L116.9,436.2L115.4,436.2L116.0,434.7L116.1,433.6L114.5,433.6L114.5,432.6L113.5,432.2L113.1,431.4L112.5,430.8L112.1,430.0L110.9,429.7L110.9,428.7L109.8,428.4L109.8,427.4L108.9,426.9L107.9,426.4L107.9,425.4L107.4,424.7L107.3,423.7L107.7,422.5L106.7,422.1L106.0,421.5L105.8,420.5L105.6,419.7L104.7,419.2L104.7,418.2L103.8,417.7L103.2,417.0L103.3,416.0L101.8,415.8L101.7,414.8L101.3,414.0L101.3,413.0L101.7,411.9L101.0,411.3L100.4,410.6L99.0,410.3L99.1,409.2L97.9,408.8L97.9,407.9L97.5,407.1L97.2,406.3L95.9,405.9L97.0,404.4L96.1,403.9L95.8,403.0L95.6,402.1L95.5,401.3L94.7,400.6L94.8,399.6L95.2,398.5L93.9,398.1L94.5,396.9L94.0,396.2L92.7,395.7L91.6,395.2L91.8,394.2L92.4,393.0L92.6,392.0L91.8,391.4L90.7,390.9L91.1,389.8L92.0,388.5L90.2,388.2L90.7,387.1L89.9,386.5L90.2,385.4L91.3,384.2L90.1,383.7L89.4,382.9L89.4,382.0L88.5,381.4L89.3,380.3L89.0,379.4L88.9,378.6L88.9,377.7L89.2,376.7L89.2,375.8L89.5,374.8M87.7,369.4L84.3,369.3L87.2,367.8L87.0,366.9L86.9,366.1L84.8,365.6L86.7,364.3L86.7,363.5L84.5,363.0L84.7,362.1L85.0,361.2L84.4,360.4L84.5,359.5L84.7,358.6L84.7,357.7L85.4,356.7L85.3,355.9L85.0,355.0L85.3,354.1L85.4,353.2L84.2,352.6L84.3,351.7L82.8,351.0L82.7,350.2L82.6,349.3L80.9,348.6L82.2,347.6L81.7,346.8L82.2,345.9L81.9,345.0L82.7,344.1L82.8,343.2L83.3,342.3L82.2,341.5L82.6,340.6L81.3,339.9L81.8,338.9L82.5,338.0L82.0,337.2L82.1,336.3L81.2,335.5L81.9,334.6L81.2,333.8L80.6,332.9L80.6,332.1L81.1,331.2L81.8,330.3L80.9,329.5L80.2,328.6L79.9,327.8L81.2,326.9L82.1,326.0L81.0,325.1L80.3,324.3L80.9,323.4L80.5,322.5L80.8,321.7L80.9,320.8L82.1,320.0L81.5,319.1L81.6,318.2L81.6,317.4L82.5,316.5L82.0,315.7L83.0,314.8L81.8,313.9L81.9,313.1L81.1,312.1L82.7,311.4L82.6,310.5L82.1,309.6L82.4,308.8L81.8,307.9L82.2,307.0L82.0,306.1L82.4,305.3L81.8,304.4L82.0,303.5L83.1,302.8L82.6,301.9L82.3,301.0L83.9,300.3L83.6,299.4L82.6,298.4L84.0,297.7L83.1,296.7L83.5,295.9L83.1,295.0L81.5,293.8L81.5,293.0L83.1,292.3L81.1,291.1L82.7,290.5L81.6,289.4L83.1,288.8M87.0,283.6L87.6,282.8L87.0,281.8L87.5,281.0L87.5,280.1L88.8,279.6L87.6,278.4L89.0,277.9L89.0,277.0L89.0,276.1L89.6,275.3L88.2,274.1L88.9,273.4L89.2,272.6L89.7,271.8L89.4,270.8L90.0,270.1L89.8,269.1L90.0,268.3L90.5,267.6L91.9,267.0L91.1,265.9L91.0,265.0L91.7,264.3L91.0,263.2L91.4,262.4L91.5,261.5L91.4,260.5L92.1,259.9L91.1,258.6L91.7,257.9L92.9,257.4L92.4,256.3L92.3,255.3L93.3,254.8L93.4,253.9L93.0,252.8L94.7,252.5L94.4,251.4L94.1,250.4L93.9,249.4L95.3,249.0L94.5,247.7L94.1,246.6L95.1,246.1L95.5,245.3L96.1,244.6L96.7,243.9L96.5,242.8L97.1,242.2L96.9,241.1L97.1,240.2L98.4,239.9L98.5,238.9L98.8,238.1L98.6,237.0L100.6,237.0L100.0,235.8L101.1,235.3L101.1,234.3L101.4,233.5L102.3,233.0L102.8,232.3L103.5,231.6L104.0,230.9L104.4,230.2L105.4,229.7L105.0,228.5L105.8,228.0L105.7,226.9L106.3,226.2L107.3,225.8L107.6,225.0L107.3,223.8L108.8,223.6L108.4,222.4L108.3,221.3L109.1,220.8L108.4,219.3L110.2,219.4L110.2,218.4L111.0,217.9L112.7,217.9L111.5,216.1L112.2,215.5L112.2,214.5L113.1,214.0L114.3,213.7L114.3,212.7L114.6,211.9L114.7,210.8L115.7,210.5L115.1,209.0L115.5,208.2L117.0,208.2L116.5,206.8M121.7,205.4L121.9,204.5L122.6,203.9L123.0,203.1L123.0,202.1L123.3,201.2L123.7,200.3L125.2,200.4L126.5,200.4L126.7,199.4L126.0,197.7L127.1,197.5L128.2,197.2L127.8,195.8L129.1,195.8L128.8,194.4L130.2,194.4L130.7,193.7L130.8,192.6L132.0,192.6L132.0,191.4L131.7,189.9L133.0,189.9L134.4,190.0L134.7,189.1L135.3,188.5L136.3,188.2L136.4,187.1L136.6,186.1L137.8,186.1L138.1,185.2L138.7,184.5L139.3,183.9L140.3,183.6L140.3,182.4L140.7,181.5L142.1,181.8L143.0,181.4L143.0,180.1L143.9,179.8L143.9,178.6L144.7,178.2L145.6,177.8L146.5,177.5L146.4,176.1L147.1,175.6L148.1,175.4L148.7,174.7L149.4,174.3L149.4,172.9L150.6,173.0L152.2,173.6L152.1,172.0L152.7,171.4L153.1,170.6L153.9,170.1L154.6,169.6L155.2,168.9L155.9,168.4L157.0,168.4L157.0,167.0L158.3,167.3L159.2,167.0L159.5,166.0L160.7,166.0L161.0,165.0L161.9,164.8L162.4,164.0L163.1,163.5L164.8,164.3L164.6,162.6L165.3,162.1L166.3,161.9L166.6,160.9L167.3,160.4L168.4,160.4L169.2,160.1L169.6,159.0L170.3,158.6L171.9,159.5L172.6,158.9L173.6,158.8L173.7,157.4L174.9,157.7L176.1,157.9L176.1,156.3L176.8,155.9M179.1,151.0L179.8,150.3L180.6,150.0L181.3,149.5L182.1,149.1L182.9,148.7L183.6,148.2L185.1,149.1L185.4,147.9L185.7,146.6L187.2,147.6L187.8,146.7L188.4,146.1L189.2,145.6L190.0,145.4L191.1,145.7L191.9,145.3L192.2,143.8L193.4,144.4L194.1,143.9L195.3,144.4L195.9,143.6L197.1,144.1L197.4,142.7L198.7,143.5L199.1,142.3L199.9,142.0L200.5,141.0L201.4,140.9L202.3,140.9L203.4,141.2L204.4,141.4L205.1,140.9L206.2,141.2L206.9,140.6L207.4,139.5L208.7,140.6L209.5,140.2L210.5,140.5L210.7,138.6L211.6,138.6L212.4,138.2L213.2,137.8L214.6,139.2L215.1,138.0L215.8,137.4L216.9,137.9L217.5,137.1L218.3,136.7L219.2,136.9L219.7,135.5L220.2,134.4L221.3,134.9L222.2,134.8L223.0,134.3L224.2,135.4L224.7,134.0L225.3,133.2L226.5,134.2L227.6,134.9L228.2,133.9L229.0,133.6L230.0,133.8L230.7,133.1L231.7,133.7L232.2,132.2L233.2,132.5L233.9,131.8L234.5,130.6L235.4,130.5L236.2,130.3L237.0,129.6L237.9,129.8L238.5,128.6L239.6,129.6L240.2,128.4L241.5,130.0L242.1,128.9L242.9,128.5L244.0,129.5" fill="none" stroke="#000" stroke-width="1.25" stroke-linejoin="round"/>
<path d="M279.0,141.2L279.0,134.1L279.7,134.8L280.4,132.8L281.2,133.0L281.9,132.6L282.6,133.5L283.3,134.4L284.0,135.2L284.8,135.1L285.5,135.0L286.2,135.1L287.0,135.0L287.7,135.2L288.4,134.7L289.1,135.0L289.9,134.5L290.6,134.3L291.4,134.0L292.0,135.2L292.8,135.4L293.5,135.5L294.2,135.4L295.1,134.2L295.7,134.8L296.5,134.7L297.2,134.9L297.8,135.7L298.5,136.4L299.2,136.6L300.2,134.5L300.6,136.8L301.4,136.4L302.3,135.3L302.9,136.1L303.4,137.8L304.1,138.0L304.9,137.4L305.5,138.5L306.3,137.8L307.1,137.5L307.5,139.8L308.2,139.9L308.9,140.1L309.7,139.7L310.4,139.8L311.2,139.4L311.7,140.9L312.6,140.0L313.2,140.7L313.8,141.0L314.7,140.5L315.0,142.4L316.2,140.3L316.5,142.5L317.1,143.0L318.1,141.5L318.8,141.7L319.3,142.9L320.1,142.6L321.0,141.7L321.5,142.6L322.4,142.1L323.2,141.6L323.5,143.6L324.0,144.5L325.1,143.2L326.0,142.6L326.0,145.3L326.9,144.7L327.9,143.9L328.9,142.7L329.5,143.5L330.0,144.3L330.5,145.0L331.2,145.2L332.1,144.8L332.5,146.0L333.9,143.8L334.0,145.9L334.9,145.5L335.1,147.2L336.9,143.9L336.5,147.5L337.7,146.0L338.3,146.7L338.7,147.5L340.1,145.6L340.1,147.8L341.5,146.1L341.3,148.7L342.5,147.7L342.7,149.3L343.4,149.2L343.9,150.1L344.7,149.8L345.5,149.7L346.9,148.3L347.4,148.8L348.3,148.6L350.1,146.1L349.3,149.9L349.6,151.3L350.3,151.3L351.0,151.5L352.3,150.3L352.3,152.1L352.9,152.7L353.5,153.0L354.8,151.7L355.0,153.1L355.6,153.5L356.5,153.3L357.4,153.1L357.6,154.3L358.1,154.9L358.8,155.1L359.7,155.1L360.3,155.4L360.6,156.5L361.3,156.6L363.2,154.4L362.9,156.6L363.7,156.5L364.2,157.2L364.5,158.2L365.8,157.3L366.0,158.3L367.2,157.7L367.6,158.5L368.5,158.3L368.3,160.2L369.0,160.5L369.3,161.4L370.0,161.5L371.5,160.4L372.0,160.9L372.7,161.2L372.7,162.6L373.8,162.2L374.3,162.7L375.5,162.0L376.1,162.4L376.1,163.9L377.0,163.7L376.9,165.4L377.6,165.5L378.1,166.1L379.1,165.8L380.3,165.4L381.0,165.5L380.5,167.7L381.7,167.1L382.4,167.5L382.3,168.8L384.4,167.0L384.7,167.9L384.2,169.9L385.0,170.0L386.2,169.5L386.7,170.1L386.3,171.9L387.1,171.9L388.0,172.0L387.9,173.3L388.7,173.4L389.2,174.0L390.1,173.9L390.6,174.4L392.8,172.8L394.3,172.0L394.1,173.4L393.7,175.2L394.2,175.7L395.8,174.8L396.1,175.6L396.7,176.0L398.2,175.4L398.0,176.7L397.9,177.9L398.3,178.6L399.2,178.7L400.2,178.6L400.1,179.9L401.9,178.8L400.8,181.3L401.2,182.0L402.2,181.8L402.4,182.7L403.9,182.1L404.2,182.8L404.5,183.6L405.9,183.2L401.5,188.1A182.6,182.6 0 0 0 279.0,141.2ZM404.8,191.1L408.8,186.8L409.8,186.8L410.6,187.0L411.7,186.9L410.6,189.2L411.4,189.3L411.3,190.5L411.7,191.1L412.7,191.1L412.5,192.3L413.2,192.6L414.6,192.3L414.1,193.8L415.9,193.0L416.1,193.8L415.4,195.5L417.2,194.8L417.2,195.8L417.3,196.7L419.4,195.7L418.6,197.5L418.3,198.7L419.2,198.8L419.8,199.3L420.1,200.0L420.3,200.8L420.2,201.8L420.9,202.2L421.5,202.6L422.0,203.1L424.0,202.4L425.0,202.5L423.2,205.0L423.0,206.1L425.5,204.9L425.6,205.7L424.6,207.5L426.3,207.0L427.6,207.0L428.1,207.5L426.6,209.6L427.5,209.8L428.3,210.1L427.3,211.8L429.7,210.8L429.7,211.7L429.0,213.2L430.0,213.3L429.0,214.9L429.9,215.1L431.1,215.2L432.2,215.3L432.4,216.0L432.2,217.0L433.7,216.9L433.0,218.2L433.4,218.8L434.3,219.1L435.6,219.0L438.6,218.0L436.7,220.0L436.5,221.1L438.0,220.9L438.6,221.5L438.0,222.7L439.0,222.9L439.0,223.7L440.7,223.5L439.3,225.2L440.8,225.2L439.7,226.7L443.2,225.5L440.8,227.7L442.2,227.8L440.8,229.4L442.5,229.3L441.8,230.5L443.2,230.5L442.5,231.7L443.4,232.1L443.6,232.8L443.8,233.5L445.1,233.6L446.3,233.8L445.9,234.9L445.6,235.8L448.1,235.3L446.4,237.0L446.6,237.8L446.5,238.6L448.2,238.6L447.7,239.6L449.7,239.4L450.2,240.0L449.9,241.0L450.2,241.6L450.4,242.4L449.2,243.7L450.4,244.0L450.2,244.9L450.7,245.4L450.9,246.1L453.8,245.6L451.1,247.6L451.5,248.2L451.7,248.9L451.9,249.6L454.6,249.3L452.1,251.1L452.5,251.8L452.9,252.3L455.3,252.2L454.7,253.2L453.2,254.5L453.6,255.2L455.5,255.2L455.3,256.1L458.0,255.8L454.4,258.0L454.8,258.6L455.4,259.1L455.9,259.7L457.1,260.0L456.2,261.1L455.9,262.0L457.4,262.3L457.9,262.8L459.5,263.1L456.3,264.9L457.0,265.4L457.0,266.2L458.5,266.5L458.5,267.2L457.4,268.3L460.4,268.2L458.9,269.4L458.5,270.2L458.9,270.9L461.8,270.8L458.6,272.5L458.7,273.2L459.6,273.7L461.1,274.0L460.6,274.9L461.7,275.3L458.9,276.8L458.7,277.6L459.9,278.1L459.2,279.0L459.3,279.7L459.5,280.4L460.5,280.9L459.3,281.9L457.1,282.4A182.6,182.6 0 0 0 404.8,191.1ZM458.4,288.0L463.0,287.0L464.9,287.4L464.6,288.2L466.5,288.6L465.3,289.6L464.5,290.5L463.7,291.3L464.3,292.0L466.3,292.4L466.2,293.1L465.2,294.0L466.3,294.6L467.2,295.2L468.4,295.7L467.0,296.7L467.2,297.4L466.8,298.2L466.2,299.0L467.9,299.5L467.2,300.4L467.4,301.1L467.9,301.7L468.3,302.4L467.0,303.3L466.6,304.1L467.3,304.8L467.7,305.4L467.2,306.2L467.5,306.9L467.2,307.7L467.3,308.4L468.4,309.1L468.7,309.8L468.0,310.6L468.5,311.3L468.2,312.0L468.1,312.7L469.0,313.4L467.9,314.2L469.4,314.9L469.6,315.6L468.2,316.4L469.4,317.1L467.8,317.9L470.4,318.5L468.1,319.3L467.6,320.0L469.6,320.7L466.9,321.5L468.1,322.2L466.9,323.0L468.9,323.7L467.5,324.4L468.3,325.1L467.1,325.9L468.1,326.6L467.8,327.3L468.2,328.1L467.5,328.8L467.3,329.5L470.4,330.3L467.5,330.9L470.3,331.8L467.2,332.4L468.0,333.2L467.8,333.9L469.3,334.7L467.7,335.3L468.4,336.1L466.9,336.7L468.4,337.6L469.6,338.4L468.9,339.1L466.9,339.7L467.0,340.4L465.5,341.0L466.7,341.8L466.0,342.5L466.7,343.3L467.0,344.1L466.3,344.7L469.2,345.8L465.9,346.1L467.7,347.1L465.8,347.6L468.5,348.7L467.0,349.2L465.9,349.8L467.0,350.7L465.4,351.2L468.3,352.4L467.4,353.0L464.6,353.3L464.6,354.0L464.6,354.7L465.3,355.6L464.7,356.2L465.5,357.1L464.7,357.7L464.5,358.4L463.0,358.9L463.9,359.8L463.9,360.5L463.0,361.1L462.6,361.7L463.0,362.5L461.9,363.0L462.3,363.9L461.7,364.5L463.2,365.6L462.5,366.1L461.3,366.6L462.3,367.6L461.2,368.1L461.2,368.8L461.2,369.5L461.4,370.3L461.9,371.2L461.9,372.0L462.2,372.8L462.0,373.5L460.8,373.9L460.2,374.5L460.9,375.5L460.8,376.2L460.5,376.9L460.2,377.6L462.2,378.9L460.5,379.2L459.4,379.6L459.1,380.3L458.6,380.9L458.7,381.7L459.4,382.7L460.8,383.9L459.6,384.3L459.2,384.9L460.1,386.0L452.0,383.2A182.6,182.6 0 0 0 458.4,288.0ZM450.2,388.0L456.4,390.3L456.5,391.1L455.9,391.7L454.1,391.8L456.1,393.4L454.8,393.6L456.3,395.0L455.4,395.4L454.3,395.7L455.4,397.0L452.5,396.6L455.3,398.6L452.4,398.1L452.3,398.9L451.7,399.4L451.8,400.2L452.5,401.4L451.6,401.8L452.8,403.1L450.8,403.0L450.1,403.5L450.7,404.6L448.1,404.1L447.5,404.7L446.3,404.9L446.6,405.8L446.8,406.7L446.2,407.2L446.6,408.2L446.7,409.1L447.6,410.4L446.0,410.4L445.1,410.7L446.6,412.3L444.9,412.2L443.8,412.4L443.9,413.3L444.5,414.5L442.1,414.0L441.7,414.6L440.9,415.0L441.0,415.9L441.3,416.8L439.5,416.6L441.0,418.4L440.0,418.6L439.4,419.1L438.4,419.3L441.4,422.0L437.6,420.5L437.2,421.1L436.5,421.5L435.9,422.0L435.3,422.4L436.6,424.1L434.7,423.7L434.4,424.4L433.4,424.6L433.2,425.3L433.5,426.4L432.7,426.7L433.5,428.1L432.5,428.3L432.5,429.1L434.1,431.1L431.8,430.4L431.4,431.0L430.6,431.3L431.5,432.9L431.0,433.4L431.1,434.3L431.5,435.5L431.0,436.1L429.6,435.9L428.8,436.2L428.8,437.1L429.2,438.4L429.2,439.3L428.3,439.5L428.7,440.7L426.0,439.6L426.7,441.0L426.1,441.5L424.3,441.0L425.1,442.5L424.2,442.7L423.7,443.2L423.0,443.6L422.1,443.8L421.1,443.9L421.1,444.9L421.0,445.7L420.7,446.4L419.2,446.1L418.8,446.6L418.4,447.2L418.4,448.2L418.0,448.8L419.0,450.7L416.5,449.4L415.5,449.5L417.1,451.9L414.8,450.7L415.8,452.7L413.6,451.6L413.9,452.8L413.3,453.3L413.2,454.2L412.5,454.5L411.8,454.9L411.6,455.7L411.4,456.4L411.1,457.2L410.7,457.9L409.2,457.3L407.7,456.8L407.8,457.9L406.8,457.9L406.1,458.3L405.8,459.0L406.0,460.2L405.2,460.4L404.5,460.7L404.5,461.8L404.0,462.3L402.4,461.6L402.1,462.4L402.6,464.0L402.3,464.8L403.1,466.7L401.4,465.8L400.5,466.0L398.6,464.9L398.7,466.0L396.7,463.6A182.6,182.6 0 0 0 450.2,388.0ZM392.1,467.3L395.6,471.8L394.9,472.2L394.7,473.1L394.6,474.0L393.6,474.0L392.8,474.1L393.9,476.8L392.0,475.5L391.7,476.4L390.4,475.7L391.0,477.9L388.8,476.0L388.3,476.6L388.9,478.7L387.7,478.3L387.2,478.8L386.0,478.4L386.1,479.8L385.2,479.8L384.2,479.6L384.3,481.1L384.8,483.2L382.5,480.9L381.9,481.4L381.5,482.0L380.3,481.6L380.8,483.7L379.6,483.1L379.1,483.7L378.5,484.2L376.8,482.8L376.7,484.0L376.8,485.5L375.9,485.5L374.8,485.1L374.7,486.4L373.5,485.6L373.6,487.4L372.7,487.3L372.0,487.4L371.3,487.7L370.4,487.6L370.1,488.5L370.5,490.8L368.7,489.0L368.0,489.2L367.8,490.5L366.9,490.3L366.1,490.2L365.5,490.7L366.4,494.0L364.0,490.9L363.5,491.5L363.6,493.3L362.5,492.8L361.8,493.0L361.6,494.3L360.9,494.5L360.3,494.8L360.2,496.4L359.7,497.2L358.6,496.5L357.0,494.8L356.7,495.9L356.2,496.5L356.4,498.7L354.6,496.6L355.0,499.3L353.3,497.2L352.6,497.5L351.8,497.3L351.3,498.1L350.5,498.1L350.0,498.7L349.4,499.3L349.6,501.6L348.1,499.8L348.0,501.7L346.8,500.6L346.2,501.1L345.7,501.8L344.8,501.4L344.1,501.7L343.8,502.9L342.6,501.7L342.2,502.8L341.1,502.0L340.1,501.4L339.4,501.5L338.8,502.0L338.6,503.7L338.1,504.5L337.2,504.1L336.7,504.8L336.2,505.9L335.0,504.4L334.2,504.2L333.3,504.0L332.4,503.3L331.7,503.7L331.0,503.7L330.6,504.9L329.4,503.2L328.6,503.3L328.0,503.6L327.2,503.4L327.0,505.4L325.9,504.1L325.3,504.6L324.6,504.9L323.9,504.9L323.4,505.9L323.0,507.6L322.0,506.3L321.0,505.5L320.7,507.2L319.9,506.8L319.0,506.2L318.3,506.6L317.9,507.9L316.9,506.6L316.2,506.8L315.3,506.0L314.5,505.9L314.1,507.4L313.0,505.4L312.6,503.3A182.6,182.6 0 0 0 392.1,467.3ZM308.2,504.1L309.5,512.3L308.6,511.5L308.0,511.9L307.2,512.1L306.4,511.4L305.8,512.5L305.2,513.2L304.4,512.7L303.5,511.4L302.9,512.7L302.1,512.2L301.5,513.7L300.6,511.9L300.0,513.2L299.2,512.5L298.4,512.3L297.9,514.0L297.0,512.8L296.2,512.1L295.5,512.9L294.8,512.4L294.0,512.1L293.3,511.9L292.7,513.6L291.8,512.1L291.2,513.3L290.4,513.0L289.7,513.3L288.9,512.4L288.2,512.8L287.6,514.8L286.8,514.0L286.1,513.8L285.4,513.9L284.6,512.2L283.9,512.7L283.1,511.7L282.4,514.9L281.7,512.7L280.9,511.5L280.2,513.2L279.5,512.6L278.8,512.3L278.1,511.9L277.3,511.5L276.6,512.0L275.8,513.7L275.2,511.3L274.4,513.3L273.6,514.0L273.0,512.0L272.3,511.9L271.5,511.9L270.8,511.6L270.1,511.5L269.4,511.2L268.6,511.7L268.0,510.7L267.1,512.9L266.5,511.7L265.6,513.5L265.0,511.8L264.3,511.2L263.5,512.5L262.6,513.8L262.2,510.9L261.5,510.5L260.6,511.9L260.0,510.7L258.9,513.9L258.2,513.8L257.8,511.2L257.1,510.3L256.2,511.7L255.7,510.3L255.0,510.0L254.2,510.2L253.3,511.5L252.6,511.4L252.2,509.4L251.3,510.1L250.4,511.2L249.7,510.8L249.3,508.8L248.5,509.2L247.7,509.7L247.2,508.5L246.4,508.9L245.9,507.7L244.8,509.6L244.5,507.3L243.5,508.6L242.9,507.8L242.3,507.2L241.6,506.9L240.5,508.9L240.1,507.3L239.6,506.1L238.5,507.9L238.0,506.4L237.4,505.9L236.9,505.1L236.1,505.4L235.4,505.0L234.4,506.1L233.5,506.6L233.0,505.7L232.3,505.8L231.6,505.4L231.2,504.1L230.4,504.2L229.5,504.9L229.1,503.6L228.3,503.7L227.4,504.3L227.0,503.1L226.3,502.8L225.4,503.4L224.6,503.6L224.3,502.0L223.6,501.9L223.0,501.6L222.1,502.0L221.0,502.9L221.0,500.6L219.3,503.6L219.0,502.3L218.9,500.3L220.2,496.5A182.6,182.6 0 0 0 308.2,504.1ZM216.5,495.2L215.2,499.0L214.5,498.7L214.2,497.6L213.6,497.1L213.1,496.2L212.4,496.3L211.6,496.3L211.1,495.5L210.7,494.7L209.8,495.1L208.7,495.7L207.6,496.6L206.9,496.4L207.4,493.4L206.1,494.7L205.8,493.4L204.9,493.6L204.4,493.1L203.1,494.3L202.9,492.9L202.3,492.5L201.8,491.8L201.1,491.8L200.5,491.3L199.4,491.9L199.5,490.2L198.5,490.4L197.8,490.4L197.3,489.7L196.9,488.9L195.1,490.8L194.6,490.2L194.5,488.9L194.3,487.8L192.6,489.5L193.1,487.0L192.3,486.9L190.8,488.1L190.2,487.8L189.3,487.9L188.8,487.3L188.7,486.0L187.8,486.2L187.2,485.8L187.0,484.7L186.1,484.8L185.2,484.9L184.4,484.9L183.5,484.9L183.4,483.7L180.9,486.5L182.2,483.0L180.0,485.1L178.7,485.8L180.5,481.6L178.7,483.0L179.0,481.2L178.2,481.1L176.6,482.2L177.2,480.0L176.2,480.3L175.6,479.8L173.3,482.0L174.4,479.1L174.3,477.8L172.4,479.4L172.6,477.9L169.8,480.5L171.0,477.6L170.2,477.4L168.9,478.0L169.5,476.0L168.0,476.7L169.1,474.0L168.7,473.3L168.1,472.9L167.3,472.8L167.2,471.7L166.5,471.6L164.1,473.5L164.9,471.2L162.9,472.6L162.1,472.5L162.5,470.7L162.0,470.3L161.5,469.7L161.7,468.3L159.3,470.1L158.8,469.6L158.2,469.1L158.4,467.7L158.5,466.6L158.0,465.9L157.8,465.1L156.9,465.0L156.1,464.9L155.8,464.2L156.0,462.8L155.5,462.3L154.5,462.4L153.7,462.1L153.4,461.4L152.9,460.8L152.5,460.3L150.8,461.0L151.1,459.6L150.2,459.5L148.0,460.8L149.2,458.5L147.9,458.8L148.5,457.2L148.2,456.4L147.1,456.5L146.7,455.9L146.0,455.6L145.3,455.3L144.0,455.5L142.3,456.1L141.3,456.1L143.0,453.4L142.3,453.1L141.0,453.3L142.0,451.3L140.0,452.2L140.8,450.5L141.4,448.9L140.0,449.3L139.9,448.4L143.2,445.5A182.6,182.6 0 0 0 216.5,495.2ZM140.4,442.3L134.2,447.7L134.6,446.3L134.3,445.7L133.1,445.7L132.0,445.7L132.5,444.3L131.5,444.2L130.7,443.9L130.8,442.8L130.1,442.4L130.1,441.5L128.8,441.6L130.3,439.5L127.9,440.5L129.1,438.6L128.9,437.8L128.3,437.4L126.3,438.0L127.4,436.2L126.4,436.0L127.1,434.7L126.3,434.3L125.7,433.9L124.8,433.6L124.8,432.7L122.9,433.1L123.1,432.1L122.7,431.5L122.2,430.9L123.1,429.4L123.0,428.6L120.9,429.2L120.0,428.9L121.9,426.7L121.4,426.2L120.5,425.9L120.7,424.9L119.3,424.9L120.0,423.6L120.5,422.5L118.7,422.7L120.3,420.9L119.4,420.6L118.8,420.1L118.8,419.3L117.7,419.1L116.6,418.9L116.9,417.9L116.4,417.3L115.9,416.8L115.5,416.2L115.9,415.1L114.7,414.9L115.5,413.7L114.2,413.6L114.6,412.6L112.7,412.8L114.1,411.2L114.3,410.2L113.6,409.8L113.6,409.0L111.5,409.3L113.5,407.4L113.7,406.5L113.0,406.1L112.0,405.8L110.5,405.7L112.1,404.1L110.5,404.1L111.6,402.8L111.6,402.0L109.8,402.0L109.4,401.4L108.9,400.8L108.1,400.4L109.2,399.1L108.9,398.5L108.5,397.9L107.2,397.7L109.2,396.0L108.5,395.5L108.6,394.7L108.6,394.0L106.9,393.9L107.8,392.7L106.7,392.4L107.4,391.4L104.9,391.6L105.1,390.7L104.6,390.1L104.5,389.4L104.4,388.7L104.8,387.8L104.7,387.0L104.0,386.5L103.1,386.1L104.2,384.9L103.8,384.3L104.2,383.4L104.1,382.7L103.9,382.0L103.4,381.4L100.9,381.5L101.6,380.5L100.3,380.1L100.0,379.5L100.8,378.5L97.9,378.6L101.3,376.8L101.0,376.1L101.4,375.3L101.2,374.6L100.6,374.0L100.5,373.3L97.2,373.5L98.7,372.3L103.0,371.2A182.6,182.6 0 0 0 140.4,442.3ZM101.7,366.1L97.4,367.1L97.6,366.3L96.2,365.9L95.5,365.3L96.4,364.3L95.9,363.7L94.8,363.2L95.8,362.3L95.7,361.5L95.2,360.9L95.9,360.0L93.1,359.8L95.4,358.6L95.3,357.9L93.8,357.4L94.5,356.6L94.7,355.8L94.3,355.1L93.7,354.5L91.9,354.1L93.8,353.0L93.1,352.4L94.3,351.5L94.5,350.7L94.4,350.0L94.5,349.2L94.2,348.6L94.0,347.9L95.1,347.0L93.3,346.5L94.9,345.6L94.7,344.9L92.1,344.4L94.0,343.5L94.0,342.8L94.1,342.0L92.3,341.5L93.8,340.6L93.4,339.9L92.0,339.3L91.9,338.6L93.2,337.8L92.0,337.1L92.5,336.4L91.0,335.7L92.9,334.9L92.4,334.2L93.3,333.4L91.2,332.8L91.9,332.1L93.0,331.3L91.9,330.6L92.7,329.8L93.4,329.1L92.3,328.4L91.1,327.7L91.3,327.0L91.2,326.3L91.7,325.5L91.0,324.8L90.2,324.1L90.4,323.3L89.3,322.6L90.9,321.9L91.3,321.2L89.6,320.4L91.7,319.7L89.3,318.9L91.0,318.2L90.3,317.5L91.5,316.8L91.7,316.1L91.2,315.3L91.8,314.6L90.9,313.9L90.4,313.1L90.7,312.4L91.7,311.7L91.5,311.0L91.1,310.2L89.9,309.4L89.3,308.6L90.1,307.9L91.2,307.3L90.1,306.5L91.3,305.8L91.0,305.1L89.5,304.2L91.1,303.6L90.7,302.8L91.8,302.2L91.7,301.5L91.3,300.7L89.8,299.8L91.7,299.2L90.9,298.4L90.6,297.6L90.5,296.9L91.7,296.3L90.2,295.3L92.0,294.9L91.7,294.1L92.6,293.5L92.1,292.6L93.0,292.0L92.7,291.3L93.5,290.7L99.5,291.7A182.6,182.6 0 0 0 101.7,366.1ZM100.6,286.4L97.5,285.8L98.9,285.3L99.1,284.6L97.6,283.6L96.4,282.6L97.9,282.2L97.7,281.4L97.1,280.5L98.3,280.1L95.9,278.7L99.5,278.9L99.4,278.1L98.8,277.2L98.9,276.5L100.0,276.0L98.4,274.9L98.3,274.1L99.7,273.7L98.3,272.6L98.1,271.8L100.3,271.7L99.0,270.5L100.8,270.3L100.0,269.3L99.4,268.4L101.0,268.1L100.5,267.2L100.3,266.4L101.0,265.8L101.7,265.3L100.0,264.0L100.9,263.5L101.1,262.8L101.8,262.3L102.4,261.7L101.9,260.8L103.2,260.5L103.2,259.7L101.0,258.1L102.7,258.0L103.4,257.5L104.3,257.0L103.5,255.9L103.9,255.3L105.1,255.0L104.8,254.1L104.8,253.3L105.1,252.7L106.5,252.4L105.0,251.0L106.1,250.7L107.5,250.5L103.7,248.1L107.3,248.8L107.4,248.1L107.9,247.5L107.0,246.3L108.1,246.1L108.6,245.5L108.6,244.7L109.1,244.1L111.0,244.2L111.0,243.4L110.6,242.4L109.9,241.3L111.2,241.1L110.4,239.9L111.2,239.5L110.3,238.2L112.9,238.7L110.3,236.6L113.7,237.5L114.0,236.8L112.7,235.3L114.2,235.3L115.9,235.4L115.8,234.5L116.4,234.0L117.1,233.6L116.6,232.5L117.5,232.2L116.7,230.9L117.8,230.7L117.0,229.4L118.0,229.1L119.0,228.9L119.6,228.4L119.0,227.2L119.7,226.8L119.4,225.8L120.9,225.9L119.2,223.9L120.8,224.1L121.3,223.5L122.6,223.5L121.5,222.0L122.9,222.0L124.2,222.0L122.5,220.0L124.1,220.2L125.4,220.3L125.2,219.2L123.4,217.1L126.3,218.2L125.7,216.9L126.8,216.8L126.0,215.4L128.0,215.9L128.5,215.4L131.0,217.2A182.6,182.6 0 0 0 100.6,286.4ZM133.3,214.1L128.2,210.3L127.6,209.0L128.6,208.8L128.1,207.5L128.9,207.1L129.5,206.7L129.8,206.0L129.6,204.9L130.0,204.3L131.2,204.3L131.9,203.9L132.0,203.0L133.4,203.2L134.3,203.0L134.9,202.6L134.9,201.6L135.5,201.2L137.0,201.5L136.1,199.8L135.8,198.5L137.6,199.1L138.5,199.0L137.8,197.3L138.7,197.2L139.9,197.3L141.0,197.3L141.1,196.5L140.4,194.7L142.2,195.4L142.1,194.3L143.7,194.9L143.1,193.3L144.6,193.8L145.3,193.4L143.9,191.0L146.3,192.4L146.4,191.4L145.5,189.5L146.8,189.8L146.7,188.6L147.8,188.7L147.4,187.3L147.9,186.7L149.9,187.7L150.4,187.2L150.9,186.7L149.8,184.5L152.2,185.9L151.8,184.4L153.4,185.2L153.9,184.6L153.7,183.3L155.1,183.7L155.6,183.3L155.8,182.4L156.0,181.5L157.0,181.6L156.7,180.2L157.0,179.3L158.6,180.1L158.5,178.8L159.9,179.4L160.0,178.3L159.1,176.1L160.9,177.2L161.7,177.0L161.9,176.0L163.4,176.8L163.7,176.0L163.8,175.0L165.3,175.7L164.7,173.7L165.5,173.6L167.1,174.4L167.4,173.8L167.2,172.2L168.6,172.9L169.1,172.3L170.4,172.9L170.4,171.7L171.8,172.3L172.0,171.4L171.9,170.0L172.4,169.4L173.4,169.6L175.3,171.1L175.4,170.0L176.6,170.6L175.8,168.0L176.9,168.4L177.9,168.6L177.8,167.1L178.5,166.9L180.2,168.2L180.7,167.6L180.9,166.6L180.6,164.9L182.4,166.4L181.8,164.1L184.2,167.9A182.6,182.6 0 0 0 133.3,214.1ZM187.7,165.8L184.8,160.7L185.3,160.2L185.4,158.9L186.5,159.3L186.0,156.9L187.2,157.6L188.0,157.6L188.9,157.6L189.5,157.2L189.4,155.6L190.7,156.5L190.7,154.9L191.1,154.1L192.4,155.0L193.0,154.6L193.7,154.3L194.2,153.6L195.2,154.0L195.1,152.2L195.7,151.8L197.0,152.7L197.4,151.8L197.7,150.8L198.8,151.4L199.9,152.0L200.5,151.7L200.4,149.6L202.0,151.3L202.5,150.9L203.0,150.1L203.8,150.1L204.0,148.8L205.1,149.3L205.7,149.0L206.4,148.9L207.1,148.5L207.3,147.1L208.6,148.3L208.9,147.2L210.0,148.1L210.8,148.1L211.5,147.9L212.1,147.4L212.5,146.3L213.1,146.1L214.0,146.2L215.1,147.1L215.2,145.4L215.8,144.8L216.5,144.6L217.6,145.6L218.5,146.0L219.1,145.5L219.9,145.7L220.9,146.2L220.7,143.5L222.4,146.2L221.9,142.5L223.2,144.0L224.2,145.0L225.0,145.0L226.0,145.8L226.5,145.0L227.2,144.8L228.0,145.0L228.7,144.8L229.3,144.4L230.1,144.8L230.4,143.0L230.4,140.3L231.8,142.5L232.8,143.8L233.3,142.6L234.1,142.9L234.6,142.0L235.6,142.9L235.7,140.6L236.3,140.0L237.6,142.2L238.3,142.0L238.9,141.4L239.4,140.3L240.2,140.6L241.2,141.9L241.9,141.6L241.9,138.4L243.4,142.1L244.1,141.9L244.9,142.2L245.5,141.7L246.0,140.7L246.7,144.1A182.6,182.6 0 0 0 187.7,165.8Z" fill="#0a0af8"/>
<path d="M279.0,141.8A182,182 0 0 1 401.1,188.5M404.3,191.5A182,182 0 0 1 456.6,282.5M457.8,288.1A182,182 0 0 1 451.4,383.0M449.7,387.8A182,182 0 0 1 396.3,463.2M391.7,466.9A182,182 0 0 1 312.5,502.7M308.1,503.5A182,182 0 0 1 220.3,495.9M216.8,494.7A182,182 0 0 1 143.6,445.1M140.9,441.9A182,182 0 0 1 103.5,371.0M102.3,365.9A182,182 0 0 1 100.1,291.8M101.1,286.5A182,182 0 0 1 131.5,217.5M133.8,214.5A182,182 0 0 1 184.5,168.4M188.0,166.3A182,182 0 0 1 246.8,144.7" fill="none" stroke="#ff1a1a" stroke-width="0.9"/>
<path d="M301.1,162.5L302.4,152.7M308.2,163.6L309.9,153.9M395.0,209.3L402.0,202.4M395.8,210.2L402.9,203.3M436.1,280.5L445.7,277.8M441.5,336.5L451.4,337.2M441.2,340.0L451.0,341.0M418.3,408.3L426.8,413.4M416.4,411.3L424.8,416.7M415.8,412.3L424.1,417.7M395.7,437.4L402.8,444.4M390.6,442.5L397.3,449.7M359.2,465.5L364.1,474.1M358.2,466.0L363.0,474.7M357.1,466.6L361.9,475.3M356.1,467.2L360.7,475.9M334.0,477.0L337.3,486.3M329.4,478.5L332.5,488.0M291.3,486.0L292.0,495.9M261.2,485.4L260.1,495.3M257.6,485.0L256.3,494.8M254.0,484.5L252.5,494.3M249.3,483.7L247.5,493.4M238.7,481.3L236.2,490.9M237.5,481.0L235.0,490.6M186.5,457.4L180.8,465.5M185.5,456.7L179.8,464.8M139.2,406.4L130.6,411.4M138.0,404.3L129.3,409.2M137.4,403.3L128.7,408.1M136.8,402.2L128.1,407.0M136.2,401.2L127.5,405.9M135.6,400.1L126.9,404.7M117.1,336.9L107.3,337.7M116.9,333.3L107.0,333.9M116.7,329.6L106.8,330.0M116.7,328.4L106.8,328.7M116.6,326.0L106.7,326.1M118.8,297.0L109.0,295.4M120.2,289.9L110.5,287.8M135.4,247.9L126.6,243.2M172.6,200.9L166.1,193.4M206.7,178.2L202.2,169.3M233.3,167.7L230.5,158.2" stroke="#ecd6a0" stroke-width="1.35" fill="none"/>
<path d="M304.6,163.0L306.2,153.3M391.5,206.0L398.4,198.8M394.1,208.5L401.1,201.5M396.6,211.0L403.8,204.2M417.3,237.6L425.7,232.4M429.9,262.2L439.1,258.5M434.1,273.5L443.5,270.5M434.8,275.8L444.2,272.9M440.7,303.1L450.5,301.8M441.0,305.4L450.8,304.3M441.5,311.4L451.4,310.6M441.9,318.6L451.8,318.2M442.0,322.1L451.9,322.0M442.0,326.9L451.9,327.1M441.9,329.3L451.8,329.6M441.6,335.3L451.5,336.0M441.3,338.8L451.2,339.8M441.1,341.2L450.9,342.3M402.1,430.4L409.6,436.9M364.4,462.4L369.6,470.8M361.3,464.3L366.3,472.8M355.0,467.8L359.6,476.5M352.9,468.9L357.3,477.7M266.0,485.9L265.2,495.8M260.0,485.3L258.8,495.1M258.8,485.2L257.6,495.0M252.9,484.3L251.2,494.1M205.1,468.6L200.6,477.4M187.5,458.1L181.9,466.2M139.8,407.4L131.3,412.5M138.6,405.4L130.0,410.3M117.6,341.7L107.8,342.8M117.3,339.3L107.5,340.3M117.2,338.1L107.4,339.0M117.0,335.7L107.2,336.4M117.0,334.5L107.1,335.1M116.8,330.9L106.9,331.3M123.8,275.8L114.4,272.9M136.0,246.8L127.2,242.1M169.0,204.1L162.3,196.9M171.7,201.7L165.2,194.3M207.7,177.6L203.4,168.7M218.7,172.8L215.0,163.6" stroke="#f6e8c3" stroke-width="1.35" fill="none"/>
<path d="M288.0,161.3L288.5,151.4M293.9,161.7L294.8,151.9M296.3,161.9L297.4,152.1M297.5,162.1L298.6,152.2M298.7,162.2L299.9,152.4M307.0,163.4L308.7,153.7M319.8,166.2L322.3,156.6M322.1,166.8L324.7,157.2M356.5,180.5L361.2,171.8M367.8,187.2L373.2,178.9M387.7,202.4L394.3,195.1M392.4,206.8L399.3,199.7M393.3,207.6L400.2,200.6M397.5,211.9L404.7,205.1M400.7,215.5L408.1,208.9M425.5,252.3L434.4,248.0M431.2,265.6L440.5,262.1M433.3,271.3L442.7,268.1M435.1,277.0L444.6,274.1M435.8,279.3L445.3,276.6M436.8,282.8L446.3,280.3M440.8,304.3L450.7,303.1M441.7,313.8L451.6,313.2M441.9,317.4L451.8,317.0M442.0,319.7L451.8,319.5M442.0,324.5L451.9,324.6M441.9,328.1L451.8,328.4M441.9,330.5L451.8,330.9M441.7,332.9L451.6,333.4M441.7,334.1L451.6,334.7M441.4,337.7L451.3,338.5M440.9,342.4L450.8,343.5M440.6,344.8L450.5,346.1M440.5,346.0L450.3,347.3M440.1,348.3L449.9,349.8M439.9,349.5L449.7,351.1M437.1,363.6L446.7,366.0M435.1,370.5L444.6,373.3M434.4,372.7L443.9,375.7M428.7,388.2L437.8,392.1M418.9,407.3L427.4,412.4M417.7,409.3L426.1,414.5M417.1,410.3L425.4,415.6M415.1,413.3L423.4,418.8M414.5,414.3L422.7,419.8M413.1,416.3L421.3,421.9M408.9,422.1L416.8,428.1M399.8,433.1L407.1,439.8M392.3,440.8L399.2,447.9M371.5,457.8L377.1,465.9M370.5,458.5L376.1,466.7M368.5,459.8L374.0,468.1M366.5,461.1L371.8,469.5M362.4,463.6L367.4,472.2M349.6,470.5L353.9,479.4M347.4,471.5L351.6,480.5M344.1,473.0L348.1,482.1M343.0,473.5L346.9,482.6M341.9,473.9L345.7,483.1M336.3,476.2L339.7,485.4M335.1,476.6L338.5,485.9M331.7,477.8L334.9,487.1M328.3,478.9L331.3,488.3M281.6,486.4L281.8,496.3M279.2,486.4L279.2,496.3M276.8,486.4L276.7,496.3M264.8,485.8L263.9,495.7M263.6,485.7L262.6,495.5M262.4,485.6L261.4,495.4M256.4,484.8L255.0,494.6M251.7,484.1L250.0,493.8M246.9,483.2L245.0,492.9M245.8,483.0L243.7,492.6M234.1,480.0L231.3,489.5M229.5,478.6L226.4,488.1M228.3,478.3L225.2,487.7M220.6,475.5L217.0,484.7M210.5,471.2L206.4,480.2M199.8,465.7L195.0,474.3M197.7,464.5L192.7,473.1M191.5,460.7L186.2,469.1M190.5,460.1L185.1,468.4M189.5,459.4L184.0,467.7M188.5,458.7L182.9,466.9M184.5,456.0L178.7,464.0M179.6,452.4L173.6,460.2M178.7,451.6L172.6,459.4M176.8,450.1L170.6,457.8M167.7,442.2L160.9,449.4M160.0,434.4L152.8,441.2M152.1,425.2L144.4,431.4M146.3,417.5L138.3,423.2M145.0,415.6L136.8,421.1M132.9,394.7L124.0,399.1M132.4,393.6L123.4,397.9M125.5,376.9L116.2,380.2M120.4,358.5L110.7,360.6M120.1,357.3L110.4,359.4M119.2,352.5L109.4,354.3M117.5,340.5L107.6,341.6M116.8,332.1L106.9,332.6M116.6,327.2L106.7,327.4M116.6,321.2L106.7,321.0M118.1,301.8L108.3,300.5M120.4,288.7L110.8,286.6M128.3,263.3L119.1,259.6M130.1,258.8L121.1,254.8M133.2,252.2L124.3,247.8M134.8,248.9L126.0,244.4M137.1,244.7L128.5,239.8M140.2,239.4L131.7,234.3M170.8,202.5L164.2,195.1M173.5,200.1L167.1,192.6M174.5,199.3L168.1,191.8M185.0,191.2L179.2,183.1M189.9,187.8L184.5,179.5M203.5,179.8L198.8,171.0M204.5,179.3L200.0,170.5M205.6,178.7L201.1,169.9M219.8,172.3L216.1,163.1M223.1,171.1L219.7,161.8M225.4,170.2L222.1,160.9M244.9,164.7L242.8,155.0" stroke="#f5f5eb" stroke-width="1.35" fill="none"/>
<path d="M284.4,161.1L284.7,151.2M290.4,161.4L291.0,151.5M303.4,162.8L304.9,153.1M305.8,163.2L307.4,153.5M309.3,163.8L311.2,154.1M310.5,164.1L312.4,154.4M311.7,164.3L313.6,154.6M316.3,165.3L318.6,155.7M317.5,165.6L319.8,156.0M318.7,165.9L321.1,156.3M321.0,166.5L323.5,156.9M323.3,167.1L326.0,157.6M326.7,168.1L329.6,158.6M335.8,171.2L339.2,161.9M339.1,172.5L342.8,163.3M361.7,183.5L366.7,174.9M372.7,190.6L378.4,182.5M373.7,191.3L379.5,183.2M379.5,195.5L385.6,187.7M398.3,212.8L405.5,206.0M405.4,221.0L413.1,214.7M406.9,222.8L414.7,216.7M407.7,223.8L415.5,217.7M409.9,226.7L417.8,220.8M418.0,238.6L426.4,233.4M418.6,239.7L427.1,234.5M419.2,240.7L427.7,235.6M419.8,241.7L428.4,236.7M421.0,243.8L429.6,239.0M423.3,248.0L432.1,243.4M423.9,249.1L432.7,244.6M427.0,255.6L436.0,251.5M427.5,256.7L436.6,252.6M428.0,257.8L437.1,253.8M428.5,258.9L437.6,255.0M429.5,261.1L438.6,257.3M430.4,263.3L439.6,259.7M432.5,269.0L441.8,265.6M432.9,270.1L442.3,266.8M437.6,286.3L447.3,284.0M439.8,297.2L449.6,295.5M440.0,298.3L449.8,296.8M440.5,301.9L450.3,300.6M441.1,306.6L450.9,305.6M441.2,307.8L451.1,306.9M441.4,310.2L451.3,309.4M441.6,312.6L451.5,311.9M442.0,320.9L451.9,320.8M442.0,323.3L451.9,323.3M442.0,325.7L451.9,325.8M441.8,331.7L451.7,332.2M440.3,347.1L450.1,348.6M439.8,350.7L449.5,352.3M439.3,353.0L449.1,354.8M438.9,355.4L448.6,357.3M438.4,357.7L448.1,359.8M437.6,361.2L447.3,363.5M437.3,362.4L447.0,364.7M435.5,369.3L445.0,372.1M430.5,383.8L439.7,387.4M428.2,389.3L437.3,393.3M427.2,391.5L436.2,395.6M426.2,393.6L435.2,397.9M424.1,397.9L432.9,402.4M420.1,405.2L428.7,410.2M419.5,406.3L428.1,411.3M413.8,415.3L422.0,420.9M411.7,418.3L419.8,424.0M411.0,419.2L419.1,425.0M410.3,420.2L418.3,426.1M409.6,421.1L417.6,427.1M399.0,434.0L406.2,440.7M394.0,439.1L401.0,446.2M387.9,444.9L394.5,452.2M387.0,445.7L393.6,453.1M379.3,452.1L385.4,459.9M365.5,461.8L370.7,470.2M363.4,463.0L368.5,471.5M345.2,472.5L349.2,481.6M340.8,474.4L344.5,483.6M339.6,474.8L343.3,484.0M337.4,475.7L340.9,485.0M330.6,478.2L333.7,487.6M324.8,480.0L327.6,489.5M313.1,482.9L315.2,492.6M311.9,483.1L313.9,492.8M293.7,485.8L294.6,495.7M288.9,486.2L289.5,496.1M287.7,486.2L288.2,496.1M285.3,486.3L285.6,496.2M275.6,486.4L275.4,496.3M274.4,486.4L274.1,496.3M268.4,486.1L267.7,496.0M267.2,486.0L266.5,495.9M255.2,484.7L253.8,494.5M250.5,483.9L248.7,493.6M248.1,483.4L246.2,493.1M244.6,482.7L242.5,492.4M243.4,482.4L241.2,492.1M235.2,480.4L232.5,489.9M232.9,479.7L230.1,489.2M230.6,479.0L227.6,488.4M227.2,477.9L224.0,487.3M218.3,474.6L214.6,483.8M207.3,469.6L202.9,478.5M204.0,468.0L199.5,476.8M201.9,466.9L197.2,475.6M194.6,462.6L189.4,471.1M192.5,461.4L187.2,469.7M183.5,455.3L177.7,463.3M180.6,453.1L174.6,461.0M177.7,450.9L171.6,458.6M175.9,449.3L169.6,457.0M174.9,448.6L168.6,456.2M172.2,446.2L165.7,453.7M168.6,443.0L161.9,450.2M164.2,438.8L157.2,445.8M163.4,437.9L156.3,444.9M153.6,427.1L146.0,433.4M141.0,409.5L132.6,414.7M140.4,408.5L131.9,413.6M135.1,399.0L126.3,403.6M134.5,398.0L125.7,402.5M134.0,396.9L125.1,401.3M133.4,395.8L124.6,400.2M129.9,388.2L120.8,392.1M120.6,359.7L111.0,361.9M119.9,356.1L110.2,358.1M119.4,353.7L109.7,355.6M118.8,350.2L109.0,351.8M118.2,346.6L108.4,347.9M118.0,345.4L108.2,346.7M116.7,318.7L106.8,318.4M117.9,303.0L108.1,301.8M119.0,295.8L109.3,294.1M120.7,287.5L111.0,285.3M121.2,285.2L111.6,282.8M121.8,282.8L112.3,280.3M124.6,273.5L115.1,270.4M125.7,270.1L116.4,266.8M127.8,264.4L118.6,260.8M129.7,259.9L120.6,256.0M131.1,256.6L122.1,252.5M133.7,251.1L124.9,246.7M134.3,250.0L125.4,245.5M136.5,245.7L127.8,241.0M138.3,242.6L129.7,237.6M139.5,240.5L131.0,235.4M145.4,231.3L137.3,225.7M150.3,224.6L142.4,218.6M151.8,222.7L144.0,216.6M161.3,211.8L154.1,205.0M165.5,207.5L158.6,200.4M166.4,206.6L159.5,199.5M169.9,203.3L163.2,196.0M175.4,198.6L169.1,190.9M185.9,190.5L180.3,182.4M198.2,182.7L193.3,174.1M199.3,182.1L194.4,173.5M201.4,180.9L196.6,172.2M208.8,177.1L204.5,168.2M211.0,176.1L206.8,167.1M213.1,175.1L209.1,166.1M215.3,174.1L211.4,165.0M224.2,170.6L220.9,161.3M231.0,168.4L228.1,158.9M232.2,168.0L229.3,158.5" stroke="#c7eae5" stroke-width="1.35" fill="none"/>
<path d="M283.2,161.1L283.4,151.2M286.8,161.2L287.2,151.3M289.2,161.3L289.8,151.5M292.7,161.6L293.6,151.7M295.1,161.8L296.1,152.0M299.9,162.4L301.1,152.5M302.3,162.7L303.6,152.9M312.8,164.5L314.9,154.9M314.0,164.8L316.1,155.1M315.2,165.1L317.4,155.4M324.4,167.4L327.2,157.9M325.6,167.8L328.4,158.3M327.9,168.5L330.8,159.0M338.0,172.0L341.6,162.8M340.3,172.9L344.0,163.7M344.7,174.8L348.6,165.7M347.9,176.2L352.1,167.3M349.0,176.7L353.3,167.8M350.1,177.3L354.4,168.3M351.2,177.8L355.5,168.9M352.2,178.3L356.7,169.5M354.4,179.4L358.9,170.6M360.7,182.8L365.6,174.3M363.7,184.7L368.9,176.2M364.8,185.3L370.0,176.9M365.8,185.9L371.0,177.5M366.8,186.6L372.1,178.2M381.3,197.0L387.6,189.3M384.1,199.3L390.5,191.7M385.0,200.1L391.5,192.6M385.9,200.9L392.4,193.4M399.1,213.7L406.4,207.0M402.3,217.3L409.8,210.8M403.1,218.2L410.6,211.8M408.4,224.7L416.3,218.7M409.1,225.7L417.0,219.7M414.0,232.6L422.2,227.0M415.4,234.6L423.7,229.1M416.0,235.6L424.4,230.2M416.7,236.6L425.0,231.3M421.6,244.9L430.3,240.1M422.8,247.0L431.5,242.3M424.4,250.2L433.2,245.7M425.0,251.3L433.8,246.9M426.0,253.4L434.9,249.1M426.5,254.5L435.5,250.3M429.0,260.0L438.1,256.1M430.8,264.5L440.0,260.9M431.7,266.7L440.9,263.2M432.1,267.8L441.4,264.4M433.7,272.4L443.1,269.3M434.4,274.7L443.9,271.7M435.5,278.1L445.0,275.4M437.1,283.9L446.7,281.5M437.3,285.1L447.0,282.8M440.4,300.7L450.2,299.3M441.3,309.0L451.2,308.1M441.8,315.0L451.6,314.4M441.8,316.2L451.7,315.7M440.8,343.6L450.6,344.8M439.6,351.9L449.3,353.6M436.8,364.7L446.3,367.2M436.1,367.0L445.7,369.7M433.7,375.0L443.1,378.1M430.1,384.9L439.3,388.6M427.7,390.4L436.8,394.4M426.7,392.5L435.7,396.7M425.2,395.8L434.1,400.1M424.7,396.8L433.5,401.3M423.6,399.0L432.4,403.5M421.3,403.1L430.0,408.0M412.4,417.3L420.5,423.0M408.2,423.0L416.0,429.1M407.5,424.0L415.3,430.1M406.7,424.9L414.5,431.1M401.4,431.3L408.8,437.9M400.6,432.2L407.9,438.8M398.2,434.9L405.4,441.6M396.5,436.6L403.6,443.5M394.8,438.3L401.9,445.3M393.2,440.0L400.1,447.0M388.8,444.1L395.5,451.4M386.1,446.4L392.6,453.9M384.3,448.0L390.7,455.6M378.4,452.8L384.4,460.7M376.4,454.3L382.4,462.2M375.5,455.0L381.3,463.0M374.5,455.7L380.3,463.7M360.3,464.9L365.2,473.4M353.9,468.3L358.5,477.1M351.8,469.4L356.2,478.3M350.7,470.0L355.0,478.8M346.3,472.0L350.4,481.0M332.9,477.4L336.1,486.7M327.1,479.3L330.0,488.7M321.3,480.9L323.9,490.5M320.1,481.2L322.6,490.8M319.0,481.5L321.4,491.1M315.5,482.4L317.7,492.0M302.1,484.9L303.4,494.7M297.3,485.5L298.4,495.3M292.5,485.9L293.3,495.8M290.1,486.1L290.7,496.0M280.4,486.4L280.5,496.3M273.2,486.3L272.8,496.2M272.0,486.3L271.6,496.2M270.8,486.2L270.3,496.1M269.6,486.2L269.0,496.0M242.2,482.2L240.0,491.8M241.1,481.9L238.7,491.5M236.4,480.7L233.8,490.2M231.8,479.3L228.9,488.8M219.4,475.0L215.8,484.2M216.1,473.7L212.2,482.8M213.9,472.7L209.9,481.8M212.7,472.2L208.7,481.3M208.4,470.2L204.0,479.1M206.2,469.1L201.7,477.9M203.0,467.4L198.3,476.2M198.7,465.1L193.8,473.7M196.6,463.9L191.6,472.4M193.5,462.0L188.3,470.4M182.5,454.6L176.7,462.5M181.6,453.8L175.6,461.7M174.0,447.8L167.6,455.3M173.1,447.0L166.6,454.5M171.3,445.4L164.7,452.8M169.5,443.8L162.8,451.1M165.1,439.6L158.1,446.7M161.7,436.2L154.5,443.0M154.4,428.0L146.8,434.4M152.9,426.2L145.2,432.4M150.6,423.3L142.8,429.4M149.9,422.4L142.0,428.4M147.0,418.5L139.0,424.3M145.7,416.5L137.5,422.2M144.3,414.6L136.1,420.1M143.6,413.6L135.4,419.0M143.0,412.5L134.7,417.9M142.3,411.5L134.0,416.9M141.7,410.5L133.3,415.8M131.9,392.6L122.9,396.7M131.4,391.5L122.4,395.6M129.0,385.9L119.8,389.7M127.2,381.5L117.9,385.0M126.3,379.2L117.0,382.6M123.3,370.1L113.8,372.9M123.0,368.9L113.5,371.6M119.6,354.9L109.9,356.8M118.6,349.0L108.8,350.5M118.4,347.8L108.6,349.2M117.9,344.2L108.1,345.4M117.7,343.0L107.9,344.1M116.6,324.8L106.7,324.9M116.6,323.6L106.7,323.6M116.6,322.4L106.7,322.3M116.6,319.9L106.7,319.7M116.7,317.5L106.8,317.1M116.8,316.3L106.9,315.9M116.8,315.1L106.9,314.6M117.5,306.6L107.7,305.6M117.8,304.2L107.9,303.0M118.3,300.6L108.5,299.2M118.4,299.4L108.6,297.9M121.0,286.3L111.3,284.1M121.5,284.0L111.9,281.6M122.1,281.6L112.6,279.1M122.5,280.5L112.9,277.8M122.8,279.3L113.3,276.6M123.5,277.0L114.0,274.1M124.9,272.4L115.5,269.2M125.3,271.2L115.9,268.0M127.4,265.5L118.1,262.0M128.7,262.1L119.6,258.4M132.7,253.3L123.7,249.0M137.7,243.6L129.1,238.7M138.9,241.5L130.4,236.5M140.8,238.4L132.4,233.2M141.4,237.4L133.0,232.1M142.1,236.3L133.7,231.0M143.4,234.3L135.1,228.9M144.7,232.3L136.6,226.7M146.1,230.3L138.0,224.6M149.6,225.6L141.7,219.6M151.0,223.7L143.2,217.6M154.1,219.9L146.4,213.6M154.8,219.0L147.3,212.6M158.0,215.3L150.6,208.7M158.8,214.4L151.5,207.8M159.6,213.5L152.3,206.8M160.4,212.6L153.2,205.9M162.1,210.9L155.0,204.0M162.9,210.0L155.9,203.1M164.7,208.3L157.7,201.3M167.3,205.8L160.4,198.6M176.3,197.8L170.0,190.1M177.2,197.0L171.0,189.3M183.0,192.6L177.1,184.6M184.0,191.9L178.2,183.9M193.0,185.8L187.7,177.4M200.3,181.5L195.5,172.9M202.4,180.4L197.7,171.6M209.9,176.6L205.7,167.6M214.2,174.6L210.3,165.5M217.5,173.2L213.8,164.1M220.9,171.9L217.3,162.7M227.6,169.5L224.5,160.1M229.9,168.7L226.9,159.3M235.6,167.0L233.0,157.5M240.3,165.8L237.9,156.2M248.4,164.0L246.6,154.3" stroke="#80cdc1" stroke-width="1.35" fill="none"/>
<path d="M279.6,161.1L279.6,151.2M280.8,161.1L280.9,151.2M282.0,161.1L282.2,151.2M285.6,161.2L286.0,151.3M291.6,161.5L292.3,151.6M331.3,169.6L334.5,160.2M334.7,170.8L338.0,161.5M341.4,173.4L345.1,164.2M342.5,173.8L346.3,164.7M343.6,174.3L347.5,165.2M345.8,175.2L349.8,166.2M353.3,178.9L357.8,170.0M355.4,180.0L360.1,171.2M357.5,181.1L362.3,172.4M359.6,182.3L364.5,173.6M362.7,184.1L367.8,175.6M368.8,187.9L374.2,179.6M369.8,188.5L375.3,180.3M370.8,189.2L376.3,181.0M376.6,193.4L382.5,185.4M377.6,194.1L383.6,186.2M378.5,194.8L384.6,187.0M382.3,197.8L388.5,190.1M386.8,201.6L393.4,194.2M399.9,214.6L407.3,207.9M401.5,216.4L409.0,209.8M404.7,220.0L412.3,213.7M411.3,228.6L419.3,222.8M412.7,230.6L420.8,224.9M413.4,231.6L421.5,226.0M414.7,233.6L423.0,228.1M422.2,245.9L430.9,241.2M436.5,281.6L446.0,279.1M439.2,293.6L448.9,291.8M439.4,294.8L449.1,293.0M439.6,296.0L449.4,294.3M440.2,299.5L450.0,298.0M439.1,354.2L448.8,356.1M438.2,358.9L447.8,361.0M436.5,365.9L446.0,368.4M435.8,368.2L445.3,370.9M434.8,371.6L444.3,374.5M434.1,373.9L443.5,376.9M433.3,376.2L442.7,379.3M431.4,381.6L440.6,385.1M429.2,387.1L438.3,390.9M425.7,394.7L434.6,399.0M423.0,400.0L431.8,404.6M420.7,404.2L429.3,409.1M404.5,427.7L412.1,434.0M389.7,443.3L396.4,450.5M385.2,447.2L391.7,454.7M377.4,453.5L383.4,461.4M372.5,457.1L378.2,465.2M369.5,459.1L375.0,467.4M367.5,460.5L372.9,468.8M338.5,475.3L342.1,484.5M326.0,479.6L328.8,489.1M323.6,480.3L326.3,489.8M322.5,480.6L325.1,490.2M316.6,482.1L318.9,491.7M310.7,483.4L312.6,493.1M309.5,483.6L311.4,493.3M304.4,484.5L306.0,494.3M300.9,485.0L302.2,494.8M299.7,485.2L300.9,495.0M298.5,485.3L299.6,495.1M296.1,485.6L297.1,495.4M294.9,485.7L295.8,495.6M286.5,486.3L286.9,496.2M284.1,486.4L284.3,496.3M282.9,486.4L283.1,496.3M278.0,486.4L278.0,496.3M239.9,481.6L237.5,491.2M221.7,475.9L218.2,485.2M217.2,474.1L213.4,483.3M215.0,473.2L211.0,482.3M211.6,471.7L207.5,480.7M209.5,470.7L205.2,479.6M200.8,466.3L196.1,475.0M170.4,444.6L163.7,452.0M166.0,440.5L159.1,447.6M160.9,435.3L153.7,442.1M159.2,433.5L151.9,440.2M151.4,424.3L143.6,430.4M148.5,420.5L140.5,426.3M147.8,419.5L139.7,425.3M130.9,390.4L121.8,394.4M130.4,389.3L121.3,393.3M129.4,387.1L120.3,390.9M128.5,384.8L119.3,388.5M128.1,383.7L118.8,387.4M125.9,378.1L116.6,381.4M125.1,375.8L115.8,379.0M124.4,373.5L115.0,376.5M124.0,372.4L114.6,375.3M122.7,367.7L113.1,370.4M122.3,366.6L112.8,369.2M119.0,351.4L109.2,353.0M117.0,312.7L107.1,312.0M117.1,311.5L107.2,310.7M117.4,307.8L107.5,306.9M117.6,305.4L107.8,304.3M118.6,298.2L108.8,296.7M123.1,278.1L113.6,275.4M124.2,274.7L114.7,271.7M126.1,268.9L116.8,265.6M126.5,267.8L117.2,264.4M127.0,266.6L117.7,263.2M130.6,257.7L121.6,253.6M131.6,255.5L122.6,251.3M132.1,254.4L123.2,250.1M142.7,235.3L134.4,229.9M144.1,233.3L135.8,227.8M152.5,221.8L144.8,215.6M155.6,218.0L148.1,211.6M156.4,217.1L148.9,210.6M157.2,216.2L149.8,209.7M163.8,209.2L156.8,202.2M168.1,205.0L161.4,197.7M178.2,196.3L172.0,188.5M179.1,195.5L173.0,187.7M180.1,194.8L174.1,186.9M181.1,194.1L175.1,186.2M182.0,193.3L176.1,185.4M187.9,189.1L182.4,180.9M188.9,188.5L183.4,180.2M192.0,186.5L186.7,178.1M194.0,185.2L188.8,176.8M212.1,175.6L208.0,166.6M216.4,173.7L212.6,164.6M222.0,171.5L218.5,162.2M226.5,169.9L223.3,160.5M228.8,169.1L225.7,159.7M234.5,167.3L231.8,157.8M236.8,166.7L234.2,157.1M239.1,166.1L236.7,156.5M246.1,164.5L244.1,154.8M247.3,164.2L245.3,154.5" stroke="#35978f" stroke-width="1.35" fill="none"/>
<path d="M329.0,168.8L332.0,159.4M330.2,169.2L333.2,159.8M332.4,170.0L335.7,160.6M333.5,170.4L336.8,161.0M336.9,171.6L340.4,162.3M346.8,175.7L351.0,166.7M358.6,181.7L363.4,173.0M371.8,189.9L377.4,181.7M374.7,191.9L380.5,183.9M375.7,192.7L381.5,184.7M380.4,196.3L386.6,188.5M383.2,198.5L389.5,190.9M403.9,219.1L411.5,212.7M406.2,221.9L413.9,215.7M410.6,227.6L418.6,221.8M412.0,229.6L420.1,223.9M420.4,242.8L429.0,237.8M439.0,292.5L448.7,290.6M438.7,356.6L448.4,358.6M437.9,360.1L447.5,362.3M431.0,382.7L440.2,386.3M429.6,386.0L438.8,389.8M422.5,401.1L431.2,405.8M421.9,402.1L430.6,406.9M406.0,425.9L413.7,432.1M405.2,426.8L412.9,433.0M403.7,428.6L411.3,435.0M397.3,435.7L404.5,442.5M391.4,441.6L398.3,448.8M373.5,456.4L379.2,464.5M348.5,471.0L352.7,480.0M303.2,484.7L304.7,494.5M222.8,476.3L219.4,485.6M195.6,463.3L190.5,471.8M166.8,441.3L160.0,448.5M162.5,437.1L155.4,444.0M158.4,432.6L151.1,439.3M155.2,429.0L147.6,435.4M149.2,421.4L141.3,427.4M127.6,382.6L118.4,386.2M124.8,374.7L115.4,377.7M123.7,371.2L114.2,374.1M116.9,313.9L107.0,313.3M117.2,310.3L107.3,309.4M117.3,309.0L107.4,308.1M129.2,261.0L120.1,257.2M146.8,229.3L138.8,223.6M153.3,220.8L145.6,214.6M186.9,189.8L181.3,181.7M191.0,187.1L185.6,178.8M237.9,166.4L235.4,156.8M241.4,165.5L239.1,155.9M242.6,165.2L240.4,155.6M243.8,165.0L241.6,155.3M249.6,163.8L247.8,154.0" stroke="#01665e" stroke-width="1.35" fill="none"/>
<path d="M402.9,429.5L410.4,436.0M317.8,481.8L320.2,491.4M314.3,482.6L316.4,492.3M126.8,380.3L117.5,383.8M120.9,360.9L111.3,363.1" stroke="#003c30" stroke-width="1.35" fill="none"/>
<path d="M279.1,190.5L279.1,184.4L279.7,183.7L280.4,181.2L280.9,186.6L281.6,184.3L282.2,185.5L282.8,187.9L283.5,185.4L284.2,182.8L284.7,185.7L285.5,182.8L286.0,186.6L286.8,181.7L287.3,184.5L288.3,178.7L288.6,184.6L289.1,185.8L290.0,182.8L290.9,179.2L291.2,184.1L291.5,187.3L292.5,184.3L293.1,184.6L293.8,183.8L294.3,185.3L294.9,185.7L295.3,187.3L296.5,183.2L296.8,185.7L297.7,183.6L297.8,187.5L298.7,186.1L299.0,188.3L300.1,184.8L300.8,184.9L301.4,184.9L302.1,185.0L302.4,186.6L303.3,185.1L304.1,184.6L304.7,185.0L305.9,182.0L306.1,184.3L306.1,187.6L307.5,184.1L307.7,186.3L309.2,182.4L309.1,185.8L310.0,184.9L310.8,184.0L310.8,187.2L311.4,187.2L312.4,185.8L313.3,184.7L313.6,186.4L314.2,186.8L315.0,186.1L314.7,189.7L315.6,189.0L316.3,188.8L317.3,187.5L318.1,187.0L318.3,188.9L318.4,190.7L320.2,186.8L320.3,188.8L320.2,191.1L321.5,189.2L321.5,191.3L323.5,187.1L323.1,190.7L323.5,191.4L323.8,192.6L325.2,190.4L325.5,191.5L325.8,192.6L326.2,193.2L327.3,192.0L327.3,193.9L328.0,193.9L328.7,193.8L329.6,193.4L329.7,194.8L330.6,194.2L330.8,195.5L331.1,196.4L332.4,194.8L332.6,196.0L333.6,195.4L333.7,196.7L336.1,192.8L335.9,194.7L335.7,196.8L335.7,198.4L336.1,198.9L336.7,199.1L337.9,198.1L340.1,194.9L340.0,196.7L339.0,200.2L339.9,199.8L341.2,198.6L342.4,197.5L342.4,199.0L343.3,198.7L342.5,201.6L344.6,198.9L345.5,198.7L344.7,201.5L346.1,200.3L345.4,202.8L347.1,201.0L349.3,198.4L348.7,200.8L347.3,204.5L349.7,201.7L349.5,203.2L350.2,203.4L351.7,202.1L351.5,203.7L351.9,204.3L351.9,205.4L353.9,203.5L353.2,205.8L353.9,205.9L354.0,206.9L354.8,206.7L355.1,207.5L355.4,208.1L357.0,207.0L359.4,204.5L357.8,208.0L358.4,208.4L357.5,210.7L359.2,209.4L358.7,211.1L360.3,210.1L360.4,210.9L361.1,211.2L361.7,211.4L360.3,214.3L361.2,214.2L363.2,212.5L364.0,212.5L365.2,212.0L363.3,215.5L364.5,215.0L365.7,214.5L365.8,215.4L366.0,216.1L366.7,216.3L368.2,215.5L369.0,215.5L367.7,218.0L369.7,216.6L368.4,219.1L370.4,217.8L369.9,219.4L370.5,219.6L370.3,220.8L370.4,221.6L371.3,221.6L368.5,224.7A133.3,133.3 0 0 0 279.1,190.5ZM370.9,226.9L374.8,222.7L375.7,222.7L375.1,224.2L375.2,225.0L376.3,224.9L376.5,225.5L378.5,224.4L377.7,226.1L378.7,226.1L377.9,227.7L379.0,227.6L380.9,226.6L380.7,227.7L381.2,228.0L382.1,228.1L381.1,229.9L385.2,227.0L382.0,230.8L382.3,231.4L383.0,231.6L386.8,229.1L385.6,231.0L384.6,232.7L386.4,232.0L387.1,232.3L386.8,233.3L387.0,234.1L387.1,234.8L389.6,233.5L386.4,237.0L389.8,235.1L390.8,235.1L390.0,236.5L389.0,238.2L390.7,237.7L391.4,237.9L389.5,240.2L392.2,239.0L391.6,240.1L391.7,240.9L392.8,240.9L392.4,242.0L396.1,240.1L393.5,242.8L392.7,244.1L394.7,243.5L395.2,243.9L395.7,244.4L395.5,245.2L396.2,245.6L396.8,245.9L394.2,248.4L396.9,247.4L400.7,245.8L396.3,249.3L395.9,250.3L396.3,250.8L399.2,249.7L399.2,250.5L398.5,251.7L399.1,252.1L399.4,252.6L397.7,254.3L398.8,254.4L400.5,254.2L399.0,255.8L399.6,256.2L399.1,257.2L400.8,256.9L401.8,257.1L401.9,257.8L401.1,258.9L400.7,259.9L401.7,260.0L405.6,258.8L400.5,262.1L403.0,261.5L401.3,263.1L403.1,262.9L403.1,263.5L404.4,263.7L404.4,264.3L405.9,264.3L406.7,264.7L404.8,266.2L406.3,266.3L406.2,267.0L408.7,266.6L409.7,266.9L406.5,268.9L406.1,269.8L405.4,270.8L408.5,270.2L407.7,271.2L409.6,271.1L408.9,272.1L411.3,271.8L414.6,271.2L409.2,274.0L412.9,273.3L409.6,275.2L411.2,275.3L411.9,275.7L412.6,276.2L409.3,278.0L410.5,278.3L411.4,278.6L413.7,278.5L413.9,279.2L416.5,279.0L414.8,280.2L413.0,281.5L413.3,282.0L412.8,282.9L412.2,283.7L417.9,282.7L412.5,284.9L411.9,285.8L413.5,286.0L412.5,286.9L417.7,286.2L418.1,286.7L415.6,288.1L414.9,288.9L413.8,289.8L416.4,289.9L416.5,290.5L418.8,290.6L416.8,291.8L409.1,293.5A133.3,133.3 0 0 0 370.9,226.9ZM410.0,297.6L415.9,296.5L415.9,297.1L416.2,297.7L416.8,298.2L418.5,298.6L417.0,299.5L415.9,300.3L418.0,300.6L417.6,301.3L419.0,301.8L417.6,302.6L421.8,302.6L418.9,303.7L417.8,304.5L418.9,305.0L419.8,305.5L416.6,306.6L420.5,306.8L417.2,307.8L416.8,308.5L415.3,309.3L416.4,309.8L417.4,310.3L418.1,310.9L419.3,311.4L416.3,312.3L418.9,312.7L416.1,313.6L416.8,314.2L422.1,314.5L417.5,315.4L418.7,315.9L418.9,316.6L418.8,317.2L418.3,317.9L417.5,318.5L421.6,319.0L417.4,319.8L420.2,320.4L419.0,321.0L418.7,321.7L419.1,322.3L417.3,323.0L420.3,323.6L422.0,324.2L418.6,324.9L420.9,325.5L417.5,326.1L419.0,326.8L418.2,327.4L417.4,328.0L417.9,328.6L418.3,329.3L417.2,329.9L418.1,330.5L417.8,331.2L417.9,331.8L422.7,332.7L417.6,333.1L418.5,333.8L420.2,334.5L419.6,335.1L417.2,335.6L420.1,336.5L418.5,337.0L417.3,337.5L420.8,338.5L418.1,338.8L416.3,339.3L417.4,340.0L417.3,340.7L420.5,341.7L418.4,342.1L417.7,342.6L415.6,343.0L416.0,343.7L416.3,344.4L416.0,344.9L417.1,345.8L419.6,346.8L416.8,347.0L414.5,347.2L420.1,348.9L415.5,348.7L414.6,349.2L416.4,350.2L415.7,350.7L416.0,351.4L415.5,351.9L416.3,352.7L415.5,353.2L412.7,353.2L416.5,354.7L420.3,356.3L414.0,355.5L417.0,356.9L413.4,356.6L416.3,358.0L416.8,358.8L419.2,360.1L414.3,359.5L413.2,359.8L415.8,361.2L414.0,361.4L415.1,362.3L413.4,362.5L415.1,363.7L414.7,364.3L414.9,365.0L412.6,365.0L417.7,367.2L412.4,366.2L413.8,367.3L413.6,367.9L413.6,368.6L413.6,369.3L413.9,370.1L405.3,367.1A133.3,133.3 0 0 0 410.0,297.6ZM404.1,370.7L412.0,373.6L411.0,373.9L410.6,374.5L409.9,374.9L407.3,374.5L410.3,376.4L408.9,376.5L409.3,377.4L409.2,378.0L408.3,378.4L407.0,378.5L407.0,379.2L407.9,380.3L406.6,380.4L408.9,382.1L406.6,381.8L407.2,382.7L409.3,384.4L406.1,383.6L407.5,385.0L406.7,385.3L406.3,385.9L405.1,386.0L408.3,388.3L403.9,386.8L404.4,387.8L402.7,387.6L403.2,388.6L403.3,389.4L401.5,389.1L400.5,389.3L402.1,390.9L400.8,390.9L400.5,391.4L399.0,391.3L398.3,391.6L399.4,393.0L399.3,393.7L401.4,395.6L398.0,394.4L397.3,394.7L399.0,396.4L396.7,395.8L397.3,396.9L398.2,398.2L397.3,398.4L396.4,398.6L396.0,399.1L396.8,400.3L395.0,399.9L395.6,401.0L395.5,401.7L396.3,403.1L394.0,402.2L395.1,403.8L393.4,403.4L394.7,405.1L393.0,404.7L392.6,405.1L391.7,405.2L393.1,407.1L391.0,406.3L389.9,406.3L389.9,407.0L389.6,407.6L390.2,408.8L388.3,408.2L388.5,409.2L388.5,410.0L386.6,409.3L386.5,410.0L386.3,410.6L385.2,410.5L386.2,412.2L385.0,412.0L385.5,413.2L384.3,413.1L384.5,414.1L382.8,413.4L387.3,418.1L384.0,416.1L383.4,416.5L385.1,418.8L381.5,416.4L381.8,417.5L381.0,417.6L380.1,417.7L381.7,420.1L380.9,420.2L380.4,420.6L380.3,421.3L381.9,423.8L377.7,420.6L377.7,421.4L377.0,421.6L379.0,424.6L377.7,424.1L376.7,424.0L374.4,422.5L373.8,422.8L374.1,424.1L373.8,424.7L373.8,425.6L373.5,426.2L374.1,427.7L373.8,428.4L371.7,427.0L371.2,427.5L371.7,428.9L371.7,429.9L370.6,429.6L369.1,428.8L368.1,428.6L368.1,429.6L365.0,425.9A133.3,133.3 0 0 0 404.1,370.7ZM361.6,428.6L367.3,435.7L366.4,435.7L365.2,435.2L365.0,436.0L363.2,434.6L362.2,434.4L363.0,436.5L361.8,436.0L362.9,438.6L362.1,438.5L361.1,438.3L361.9,440.5L361.2,440.6L360.9,441.3L359.6,440.6L358.3,439.8L357.8,440.3L357.8,441.4L358.3,443.4L356.8,442.3L357.0,443.7L355.7,442.8L357.2,446.4L354.1,442.8L352.7,441.8L352.6,442.7L351.4,442.0L353.2,446.3L351.3,444.3L350.7,444.6L350.1,444.8L351.4,448.3L349.2,445.9L350.9,450.2L349.5,448.9L347.6,446.8L347.1,447.3L345.9,446.4L346.1,448.2L343.8,445.2L346.3,451.3L343.5,447.3L342.3,446.3L344.9,452.9L342.1,448.7L341.8,449.6L340.3,448.0L339.6,448.1L339.6,449.4L339.1,449.9L338.8,450.8L337.3,449.0L337.4,450.7L336.1,449.3L335.7,450.2L335.7,451.7L334.6,450.6L334.0,450.8L333.3,450.8L332.3,450.2L332.4,452.0L331.1,450.6L331.7,453.5L331.4,454.6L330.0,452.8L329.2,452.5L329.9,456.1L327.8,452.3L327.4,453.1L327.8,456.0L325.5,451.4L326.5,456.1L325.6,455.5L324.2,453.4L324.1,455.0L323.9,456.4L322.9,455.5L321.7,453.7L321.7,455.9L320.8,455.2L320.4,455.9L319.7,455.7L319.3,456.5L318.8,457.0L318.1,457.0L317.8,458.1L316.8,457.1L315.8,455.7L315.8,458.0L315.6,459.8L314.3,457.3L314.0,458.7L312.8,456.6L312.4,457.7L311.3,455.7L311.2,457.8L310.8,458.9L310.3,459.5L309.8,460.3L309.2,460.5L307.8,457.2L307.4,458.2L306.6,457.6L306.4,459.8L305.7,459.1L305.9,463.5L304.3,458.8L303.6,454.8A133.3,133.3 0 0 0 361.6,428.6ZM300.4,455.4L301.3,461.2L300.6,460.8L300.5,464.0L300.1,466.2L299.5,466.7L298.5,463.8L297.7,462.8L297.1,463.0L296.5,463.7L295.8,463.4L295.4,465.3L294.4,462.7L294.0,464.4L293.7,467.6L292.5,462.1L291.8,461.5L291.3,463.5L290.6,463.1L290.1,464.2L289.5,464.4L288.8,464.7L288.2,464.4L287.5,464.0L286.7,461.0L286.2,463.4L285.7,466.0L284.9,462.4L284.3,465.6L283.7,467.3L283.0,464.0L282.4,465.6L281.8,466.7L281.1,463.8L280.4,462.4L279.8,460.3L279.2,461.2L278.5,464.9L277.9,460.8L277.3,462.8L276.6,464.6L276.0,462.9L275.4,460.5L274.8,461.5L274.0,465.1L273.4,463.0L272.9,461.6L272.3,461.0L271.6,461.8L270.8,464.2L270.2,463.3L269.6,463.1L268.8,464.8L268.3,462.9L267.9,460.9L267.1,462.8L266.4,463.2L265.8,462.5L265.1,462.7L264.6,462.3L264.0,461.6L263.3,462.0L262.8,461.1L261.8,464.1L261.0,464.8L260.6,462.7L259.8,463.9L259.2,464.0L258.9,461.0L258.3,461.0L257.7,461.0L257.1,460.8L256.4,461.0L255.8,460.4L255.2,460.5L254.1,462.9L254.0,460.0L253.0,461.9L252.4,461.6L251.7,461.7L251.6,458.9L250.6,460.9L250.0,460.6L249.7,458.9L248.7,460.3L248.2,459.8L248.0,457.8L246.7,460.7L246.7,458.0L245.9,458.4L244.8,460.2L244.2,460.1L243.6,459.6L243.5,457.6L242.4,459.1L241.5,460.1L241.8,456.8L241.8,454.3L240.3,457.3L239.7,457.2L239.6,455.1L238.2,457.8L238.2,455.4L237.0,457.1L236.8,455.6L236.2,455.4L235.5,455.7L233.8,458.5L233.9,456.4L236.1,449.9A133.3,133.3 0 0 0 300.4,455.4ZM233.5,448.9L230.7,456.5L231.3,453.2L230.0,454.8L229.8,453.5L228.6,454.8L229.1,451.7L229.1,450.0L226.6,454.7L225.7,455.2L225.9,453.1L225.1,453.3L224.3,453.5L224.4,451.8L223.7,451.6L223.0,451.7L221.8,452.8L222.0,450.9L221.2,451.1L220.8,450.6L219.3,452.1L219.7,449.9L218.4,451.2L218.8,448.8L217.4,450.2L217.1,449.5L217.5,447.0L215.6,449.5L215.8,447.8L215.3,447.3L214.8,446.8L213.6,447.9L213.6,446.4L214.2,444.1L213.0,444.8L211.4,446.6L211.5,444.9L210.8,444.9L208.3,448.0L209.9,444.1L208.4,445.3L209.2,442.7L208.2,443.2L206.4,445.0L206.5,443.6L207.4,440.9L205.7,442.5L204.9,442.5L204.1,442.5L204.3,441.1L202.5,442.7L203.7,439.7L202.8,439.8L202.9,438.5L201.8,439.1L200.7,439.7L198.5,441.8L199.4,439.2L200.1,437.2L199.7,436.6L199.2,436.3L197.3,437.8L198.0,435.7L197.6,435.3L196.9,435.1L197.0,433.9L194.2,436.7L196.3,432.9L194.5,434.2L194.0,433.8L193.9,432.8L195.0,430.4L193.3,431.6L191.6,432.7L193.7,429.1L191.0,431.4L191.8,429.5L190.7,429.8L191.0,428.5L190.6,428.0L189.2,428.6L187.6,429.6L188.3,427.8L189.3,425.8L187.3,427.0L186.3,427.2L187.5,424.9L185.9,425.7L184.7,426.2L184.9,425.0L184.4,424.6L184.1,424.0L183.6,423.7L183.7,422.7L183.9,421.5L184.0,420.5L181.8,421.9L182.1,420.7L178.2,423.7L180.0,421.0L179.1,421.0L178.8,420.4L180.1,418.3L179.4,418.1L177.7,418.8L178.4,417.3L176.4,418.3L176.3,417.5L175.5,417.4L176.1,416.1L179.9,412.6A133.3,133.3 0 0 0 233.5,448.9ZM177.9,410.3L171.9,415.4L175.4,411.7L173.3,412.6L173.9,411.3L171.9,412.2L170.3,412.6L168.9,412.9L172.0,409.6L171.4,409.2L168.6,410.7L170.2,408.6L170.1,407.9L171.3,406.1L167.3,408.4L168.8,406.5L169.6,405.1L166.2,406.9L167.0,405.4L168.1,403.9L168.3,403.0L165.1,404.5L167.1,402.3L164.6,403.2L161.2,404.8L164.1,402.1L166.6,399.6L162.9,401.3L164.2,399.7L165.0,398.4L163.2,398.9L160.8,399.6L162.9,397.5L160.2,398.5L163.3,395.8L161.5,396.2L161.7,395.3L163.0,393.8L162.1,393.6L162.3,392.7L160.7,393.0L160.7,392.2L160.5,391.6L160.1,391.2L160.0,390.5L157.5,391.1L158.0,390.1L157.4,389.7L158.0,388.7L159.3,387.3L155.5,388.6L156.6,387.3L158.4,385.7L156.3,386.0L157.0,385.0L155.9,384.8L155.8,384.2L152.7,385.0L154.4,383.4L152.4,383.7L153.7,382.4L151.9,382.5L149.9,382.7L153.1,380.6L155.2,378.9L152.8,379.3L153.1,378.5L150.9,378.7L151.9,377.6L150.4,377.5L151.2,376.6L152.4,375.4L150.0,375.7L148.4,375.6L149.1,374.6L149.9,373.6L148.7,373.4L147.5,373.2L147.9,372.4L147.7,371.7L147.3,371.2L145.8,371.0L143.3,371.2L146.9,369.3L145.1,369.2L146.7,368.0L147.0,367.3L146.4,366.8L145.1,366.5L144.5,366.0L144.7,365.3L146.7,364.0L144.9,363.9L143.4,363.6L144.2,362.8L144.4,362.0L145.2,361.1L144.3,360.7L143.2,360.3L150.6,358.4A133.3,133.3 0 0 0 177.9,410.3ZM149.6,354.6L144.3,355.9L145.4,355.0L144.9,354.5L143.3,354.2L144.6,353.3L141.5,353.3L143.8,352.1L145.8,351.1L144.2,350.8L143.1,350.4L143.2,349.7L144.7,348.8L142.5,348.5L144.6,347.5L144.1,347.0L143.1,346.5L143.7,345.8L142.4,345.3L141.1,344.9L141.8,344.1L144.8,343.1L143.4,342.7L143.5,342.0L142.6,341.5L142.5,340.9L144.5,340.0L142.1,339.7L144.1,338.8L140.5,338.6L139.0,338.1L138.4,337.5L143.7,336.3L142.2,335.9L142.6,335.2L141.3,334.7L142.2,334.0L141.0,333.4L142.6,332.7L138.7,332.3L142.2,331.5L138.9,331.0L142.7,330.2L140.8,329.6L140.1,329.0L142.9,328.3L141.7,327.7L142.1,327.1L141.6,326.5L141.4,325.8L143.4,325.2L140.1,324.6L141.5,324.0L140.8,323.3L140.6,322.7L139.8,322.0L137.3,321.4L138.6,320.7L141.0,320.2L138.9,319.5L138.9,318.8L141.4,318.3L140.0,317.6L136.2,316.8L139.6,316.3L139.3,315.7L134.4,314.7L140.6,314.5L140.1,313.8L140.7,313.2L136.1,312.2L141.7,312.0L140.0,311.2L142.4,310.8L140.0,309.9L141.4,309.4L140.6,308.7L140.9,308.1L142.2,307.6L141.2,306.9L142.5,306.4L141.7,305.7L139.5,304.7L139.9,304.1L138.6,303.3L141.5,303.1L142.7,302.6L140.9,301.7L137.1,300.4L141.2,300.4L144.2,300.3L140.6,299.1L148.1,300.4A133.3,133.3 0 0 0 149.6,354.6ZM148.8,296.5L142.4,295.1L144.0,294.8L145.2,294.5L146.8,294.2L145.2,293.1L144.0,292.2L145.5,291.9L144.3,291.0L145.2,290.6L146.2,290.2L145.0,289.2L146.1,288.8L147.4,288.5L146.6,287.7L148.1,287.4L143.0,285.3L145.8,285.5L146.3,284.9L149.1,285.1L147.5,284.0L149.5,283.9L148.2,282.9L148.0,282.1L144.9,280.5L145.9,280.2L148.0,280.1L148.8,279.8L149.6,279.4L147.7,278.0L148.4,277.6L148.1,276.8L151.2,277.3L148.8,275.7L145.8,273.9L147.3,273.8L144.7,272.1L148.6,272.9L149.0,272.4L149.0,271.7L149.0,271.0L147.3,269.6L149.4,269.8L150.2,269.4L152.5,269.7L151.8,268.7L153.3,268.7L153.8,268.2L152.6,267.0L152.6,266.3L154.8,266.6L151.5,264.3L156.2,265.9L155.0,264.6L153.5,263.2L153.6,262.5L156.0,263.0L157.5,263.0L157.7,262.4L157.4,261.6L157.7,261.0L157.9,260.4L155.0,258.2L156.4,258.2L157.8,258.2L158.7,258.0L157.6,256.7L158.6,256.5L159.1,256.0L160.0,255.8L160.0,255.1L159.2,253.9L160.8,254.1L161.3,253.6L160.6,252.5L162.2,252.7L159.5,250.4L162.6,251.5L163.4,251.3L164.0,250.9L164.8,250.7L163.4,249.0L165.5,249.6L163.7,247.7L165.5,248.2L166.5,248.1L165.0,246.3L164.7,245.3L166.3,245.6L167.6,245.8L166.5,244.2L167.7,244.3L167.6,243.5L171.0,246.0A133.3,133.3 0 0 0 148.8,296.5ZM172.7,243.7L167.2,239.6L168.3,239.6L168.9,239.2L169.0,238.6L168.7,237.5L169.8,237.5L169.8,236.7L171.5,237.3L171.3,236.3L168.0,232.8L170.1,233.7L173.6,235.8L171.2,232.9L171.9,232.7L173.6,233.3L174.5,233.2L175.0,232.8L173.5,230.7L173.6,229.9L175.4,230.6L175.5,229.9L175.7,229.1L174.6,227.3L178.1,229.7L178.8,229.5L177.5,227.4L179.4,228.3L180.4,228.3L180.1,227.2L180.7,226.9L182.1,227.4L181.7,226.1L180.4,223.9L181.7,224.3L180.9,222.6L182.6,223.4L183.3,223.2L183.7,222.8L185.6,223.8L184.0,221.2L184.2,220.5L187.8,223.4L187.1,221.8L188.6,222.5L188.4,221.3L187.2,219.1L188.6,219.7L187.1,216.9L189.8,219.2L188.3,216.4L189.7,217.0L189.0,215.3L190.8,216.4L191.1,215.8L192.0,215.8L191.4,214.1L192.5,214.5L193.8,215.0L194.3,214.7L194.6,214.0L193.5,211.6L195.5,213.2L195.2,211.7L197.1,213.2L195.5,209.9L197.8,212.0L196.3,208.9L197.7,209.6L195.3,205.2L199.2,209.6L199.2,208.5L200.4,209.1L200.8,208.6L200.4,206.9L201.2,206.9L201.9,206.8L200.8,203.9L202.6,205.6L202.5,204.2L203.7,204.8L203.7,203.7L204.9,204.4L205.7,204.5L206.7,204.9L209.8,210.0A133.3,133.3 0 0 0 172.7,243.7ZM212.4,208.4L209.6,203.5L210.3,203.4L209.2,200.3L211.1,202.3L211.4,201.6L211.8,201.0L213.8,203.4L213.7,201.9L214.4,201.7L215.3,202.2L216.5,203.0L216.3,201.3L217.0,201.3L217.5,201.0L217.7,199.9L218.6,200.4L219.3,200.3L220.2,200.8L219.6,198.1L221.6,200.8L221.1,198.3L220.6,195.6L221.7,196.6L221.5,194.6L222.3,194.9L223.3,195.5L224.4,196.5L224.3,194.6L225.9,196.7L225.7,194.6L226.4,194.7L227.5,195.7L226.9,192.4L227.9,193.3L229.0,194.4L229.2,193.0L230.0,193.3L231.2,194.9L230.6,191.3L231.3,191.3L232.3,192.4L233.1,192.7L233.3,191.4L234.4,192.5L234.1,189.7L235.0,190.4L235.7,190.6L237.0,192.3L236.6,189.0L237.8,190.7L238.5,190.7L238.7,189.4L237.9,184.5L240.2,190.0L240.7,189.5L241.2,188.7L241.9,188.9L242.2,187.7L243.0,188.1L243.8,188.7L244.4,188.6L245.0,188.2L245.9,189.4L245.9,186.6L246.3,185.6L247.1,186.0L248.2,188.0L248.3,185.7L249.4,187.7L250.4,189.3L250.5,186.7L251.6,188.9L251.7,186.4L252.5,186.7L253.0,186.2L253.7,186.2L253.7,182.8L255.5,192.6A133.3,133.3 0 0 0 212.4,208.4Z" fill="#c1121f"/>
<path d="M279.7,208.0h0M281.5,207.2h0M282.5,208.0h0M284.0,207.7h0M285.7,208.5h0M287.3,208.5h0M288.4,208.8h0M289.7,208.2h0M291.6,208.7h0M292.9,208.5h0M294.9,208.9h0M295.9,209.3h0M298.0,209.2h0M299.4,209.0h0M301.3,210.1h0M302.5,210.2h0M304.0,211.1h0M305.3,211.0h0M306.9,211.8h0M308.0,211.8h0M310.0,211.4h0M311.9,212.8h0M313.7,213.0h0M315.2,213.9h0M317.2,213.8h0M318.2,214.2h0M319.5,214.7h0M321.2,215.5h0M322.6,216.7h0M323.9,216.6h0M325.1,217.0h0M326.7,218.6h0M327.7,218.9h0M329.5,219.7h0M331.0,219.8h0M332.7,220.5h0M334.0,222.1h0M335.4,222.3h0M338.3,221.2h0M338.6,224.6h0M339.9,224.9h0M341.4,226.1h0M342.9,227.2h0M344.4,228.3h0M345.5,229.2h0M346.6,229.6h0M348.2,230.9h0M349.6,231.8h0M350.6,232.3h0M351.4,233.7h0M353.0,234.9h0M354.5,236.1h0M355.7,237.2h0M359.9,239.4h0M360.9,240.2h0M361.9,241.4h0M362.1,243.4h0M363.5,244.0h0M363.7,245.2h0M364.8,246.2h0M366.6,246.1h0M367.2,247.5h0M368.4,248.7h0M368.5,250.7h0M369.6,252.0h0M371.1,252.5h0M372.3,254.1h0M372.8,255.5h0M374.8,256.5h0M374.5,258.0h0M376.1,259.1h0M376.2,260.9h0M377.1,262.2h0M378.4,263.9h0M379.2,264.7h0M380.1,266.6h0M380.9,268.6h0M381.3,270.1h0M381.8,271.0h0M382.7,272.0h0M384.2,273.2h0M383.7,274.6h0M384.3,276.1h0M386.5,277.1h0M385.9,279.3h0M386.6,281.4h0M388.0,283.2h0M388.1,285.4h0M388.8,286.5h0M389.4,288.5h0M389.7,290.3h0M391.3,292.0h0M391.0,293.4h0M391.3,295.3h0M392.0,296.6h0M392.6,301.7h0M392.7,303.2h0M395.1,304.7h0M393.6,306.9h0M394.7,308.9h0M393.8,311.0h0M394.2,312.6h0M394.7,314.1h0M395.9,315.1h0M395.0,317.1h0M394.5,318.4h0M394.9,319.4h0M394.7,321.1h0M394.6,322.6h0M394.9,324.5h0M394.7,325.9h0M395.2,327.2h0M394.4,328.6h0M395.0,329.8h0M394.9,331.3h0M394.8,332.9h0M395.3,334.3h0M394.8,335.3h0M394.4,337.1h0M394.5,339.3h0M393.6,341.3h0M393.2,342.3h0M392.8,343.7h0M392.8,345.5h0M392.2,347.2h0M392.2,348.6h0M392.4,350.4h0M391.4,351.8h0M391.7,353.5h0M390.5,355.4h0M391.4,356.9h0M389.6,357.5h0M389.6,359.6h0M388.8,360.5h0M386.9,364.8h0M386.9,366.3h0M386.0,368.3h0M385.1,369.6h0M384.9,370.9h0M384.1,371.8h0M383.9,373.2h0M382.9,374.8h0M382.7,376.6h0M383.2,378.3h0M381.0,379.2h0M379.9,380.3h0M379.2,381.9h0M378.1,383.3h0M377.3,384.6h0M376.4,386.2h0M375.8,388.1h0M375.1,390.3h0M373.1,390.9h0M372.5,392.7h0M371.3,393.4h0M370.4,395.2h0M369.6,396.6h0M368.3,397.5h0M367.4,398.3h0M365.9,399.7h0M364.7,401.6h0M364.1,403.6h0M362.6,403.6h0M361.5,405.5h0M360.6,406.9h0M359.6,407.5h0M357.9,408.2h0M356.8,409.4h0M355.1,410.8h0M355.4,413.4h0M350.9,415.9h0M349.4,416.3h0M347.6,416.6h0M346.6,417.4h0M345.8,418.6h0M344.9,419.4h0M343.2,419.9h0M341.8,421.1h0M340.8,421.9h0M339.5,422.7h0M338.8,423.8h0M336.8,424.7h0M335.2,424.8h0M333.7,425.6h0M332.8,427.0h0M331.0,427.3h0M329.9,428.4h0M328.2,428.6h0M327.2,429.2h0M325.6,430.6h0M323.6,431.6h0M322.4,431.5h0M320.5,431.5h0M319.1,432.3h0M317.8,433.0h0M316.3,433.1h0M314.4,433.5h0M313.1,434.1h0M312.0,435.0h0M310.6,435.8h0M308.6,436.1h0M307.1,436.0h0M306.2,436.6h0M304.4,436.6h0M302.3,437.0h0M301.1,437.1h0M297.1,438.4h0M295.0,438.8h0M293.7,438.5h0M292.2,438.6h0M290.5,439.3h0M289.3,438.6h0M287.5,439.0h0M285.5,439.4h0M283.7,439.9h0M282.0,439.2h0M280.0,442.5h0M278.0,439.3h0M276.9,439.7h0M275.4,439.9h0M273.9,440.4h0M272.9,439.9h0M271.8,439.1h0M270.6,440.3h0M269.2,439.6h0M267.8,438.8h0M265.7,441.1h0M264.6,438.3h0M263.0,438.6h0M261.7,438.0h0M260.6,437.8h0M258.8,438.3h0M257.6,437.4h0M255.2,437.7h0M253.6,436.4h0M251.5,436.1h0M249.4,436.2h0M248.5,435.6h0M247.3,435.3h0M246.4,434.5h0M244.9,434.7h0M243.2,433.2h0M241.8,433.4h0M238.9,432.3h0M237.5,431.2h0M235.9,430.9h0M234.6,430.5h0M233.1,429.3h0M231.6,429.5h0M230.2,429.5h0M229.7,427.9h0M228.1,428.1h0M226.5,426.5h0M224.7,426.4h0M223.9,425.4h0M222.1,425.7h0M221.1,423.2h0M219.3,422.3h0M217.2,422.7h0M216.6,420.6h0M214.9,419.8h0M214.3,418.9h0M212.9,418.0h0M210.2,418.2h0M209.3,417.2h0M208.5,415.9h0M207.3,414.0h0M205.4,413.1h0M204.4,411.8h0M203.3,410.3h0M201.6,410.1h0M200.5,408.2h0M199.0,406.8h0M197.3,405.4h0M195.6,404.7h0M194.8,402.5h0M193.7,401.0h0M191.3,398.2h0M189.0,398.2h0M189.3,396.6h0M188.5,395.0h0M187.0,394.1h0M186.8,392.6h0M185.0,391.3h0M183.9,389.3h0M182.8,387.6h0M181.4,386.1h0M180.7,385.2h0M180.4,382.9h0M178.4,382.1h0M178.4,380.3h0M176.6,378.9h0M176.7,376.7h0M176.3,375.7h0M174.7,375.3h0M174.9,372.9h0M174.2,371.3h0M173.5,370.2h0M172.8,369.2h0M172.2,368.2h0M171.2,367.1h0M171.6,365.8h0M170.6,364.7h0M170.7,363.0h0M169.7,361.1h0M169.2,359.1h0M168.4,357.6h0M168.0,355.5h0M167.3,354.4h0M166.7,350.0h0M166.2,349.0h0M166.1,346.9h0M165.5,345.2h0M165.7,343.5h0M164.7,342.1h0M164.4,340.1h0M164.4,338.0h0M164.7,336.5h0M164.3,334.7h0M163.6,333.4h0M164.1,332.2h0M163.9,330.0h0M163.8,328.0h0M163.7,326.5h0M164.0,325.5h0M162.6,323.4h0M164.0,322.0h0M163.6,320.1h0M163.9,318.9h0M162.6,317.7h0M164.0,316.5h0M160.3,314.9h0M163.7,313.6h0M163.8,311.5h0M164.2,309.7h0M162.1,307.6h0M163.1,306.0h0M165.0,304.1h0M165.8,299.4h0M165.6,297.9h0M167.2,296.3h0M167.2,294.6h0M167.1,292.6h0M167.4,291.2h0M168.7,290.1h0M169.4,289.1h0M168.2,286.8h0M170.0,286.0h0M170.5,285.0h0M171.0,283.2h0M171.0,281.0h0M172.4,279.2h0M171.6,277.6h0M173.8,277.0h0M174.3,276.0h0M174.5,274.9h0M174.8,273.2h0M175.8,272.2h0M176.7,270.4h0M177.4,269.6h0M175.4,266.4h0M178.6,266.0h0M179.6,264.0h0M180.6,262.3h0M180.6,261.0h0M182.6,260.4h0M183.3,259.4h0M183.9,257.6h0M185.5,256.8h0M187.1,253.8h0M188.7,252.4h0M188.5,250.8h0M190.0,250.2h0M190.9,249.6h0M192.1,247.7h0M193.3,246.7h0M194.6,245.2h0M195.7,243.8h0M194.1,240.0h0M197.5,240.7h0M198.8,239.4h0M201.1,238.9h0M201.9,238.1h0M202.8,237.6h0M202.9,235.9h0M204.6,236.0h0M204.9,234.8h0M206.1,234.2h0M207.9,233.0h0M208.7,232.0h0M210.2,231.3h0M211.8,230.1h0M213.0,228.6h0M214.6,227.2h0M216.0,227.1h0M217.7,226.2h0M218.8,225.6h0M222.0,223.8h0M222.8,222.9h0M224.8,222.1h0M224.2,218.8h0M226.8,220.6h0M228.4,220.3h0M229.0,219.1h0M231.0,219.0h0M232.5,217.8h0M234.5,217.2h0M235.5,216.5h0M237.7,216.2h0M238.7,214.6h0M240.7,214.5h0M242.7,214.3h0M243.8,214.0h0M244.8,213.2h0M246.0,213.4h0M247.3,212.9h0M248.6,212.5h0M249.8,212.1h0M251.7,211.5h0M252.7,210.7h0M254.0,210.9h0M256.0,210.6h0M257.3,210.7h0M313.4,212.9h0M313.8,211.4h0M314.1,210.0h0M314.5,208.5h0M314.8,207.0h0M315.1,205.6h0M315.9,204.2h0M316.2,202.7h0M362.7,243.1h0M363.7,242.0h0M364.8,241.0h0M365.8,239.9h0M367.1,239.1h0M379.9,266.0h0M381.0,265.0h0M382.3,264.2h0M383.6,263.5h0M385.0,262.7h0M395.2,327.9h0M396.7,327.7h0M398.2,327.8h0M399.7,328.0h0M401.2,327.9h0M402.7,328.3h0M371.4,394.3h0M372.4,395.5h0M373.6,396.3h0M375.0,396.9h0M376.2,397.9h0M377.3,399.0h0M378.4,399.9h0M379.7,400.7h0M277.4,439.7h0M277.3,441.2h0M277.4,442.7h0M277.3,444.2h0M276.9,445.7h0M277.4,447.2h0M277.2,448.7h0M277.1,450.2h0M264.2,438.8h0M263.8,440.2h0M263.7,441.7h0M260.3,438.2h0M259.7,439.6h0M259.9,441.2h0M259.3,442.6h0M259.5,444.1h0M258.7,445.5h0M287.5,439.5h0M287.8,440.9h0M287.8,442.4h0M287.7,444.0h0M287.5,445.5h0M287.6,447.0h0M190.6,398.5h0M189.2,399.2h0M188.2,400.3h0M187.2,401.4h0M185.8,402.1h0M184.7,403.2h0M163.4,327.9h0M161.9,328.0h0M160.4,328.0h0M158.9,328.2h0M157.4,328.0h0M155.9,327.7h0M178.9,265.6h0M177.4,265.2h0M176.2,264.4h0M174.9,263.6h0M173.5,263.0h0M172.3,262.2h0M230.3,218.6h0M229.6,217.3h0M228.8,216.0h0M228.5,214.5h0M228.0,213.1h0M226.9,211.9h0M381.7,378.3h0M383.0,379.1h0M384.5,379.4h0M385.7,380.4h0" stroke="#f28a1c" stroke-width="1.3" stroke-linecap="round" fill="none"/>
<path d="M270.7,446.9A123.5,123.5 0 0 1 257.9,445.4" stroke="#f28a1c" stroke-width="0.9" stroke-dasharray="2 1.6" fill="none"/>
<path d="M302.4,228.9L304.7,219.6M325.4,237.7L330.0,229.3M335.6,244.0L341.1,236.2M339.0,246.6L344.9,239.0M358.9,267.3L366.7,261.7M376.0,336.7L385.5,338.0M375.9,337.6L385.4,338.9M375.5,340.1L385.0,341.7M374.9,343.5L384.3,345.4M360.2,378.4L368.1,383.7M353.4,387.3L360.7,393.5M351.1,389.9L358.1,396.4M332.3,405.7L337.5,413.8M315.6,414.4L319.1,423.3M314.0,415.0L317.4,424.0M313.2,415.3L316.5,424.3M305.0,417.9L307.5,427.2M287.6,421.0L288.4,430.6M250.5,417.0L247.7,426.2M229.9,407.9L225.1,416.2M228.5,407.1L223.5,415.3M215.4,397.5L209.1,404.7M194.0,371.1L185.6,375.8M193.1,369.6L184.7,374.1M183.4,341.8L173.9,343.6M182.4,335.1L172.8,336.2M181.7,326.6L172.1,326.8M181.7,322.3L172.1,322.2M181.8,319.7L172.2,319.4M181.9,318.0L172.3,317.5M182.2,313.8L172.7,312.8M182.3,313.0L172.8,311.9M191.4,281.3L182.8,277.1M198.8,268.6L190.9,263.1M228.1,240.7L223.0,232.5" stroke="#ffffd9" stroke-width="1.0" fill="none"/>
<path d="M281.3,226.2L281.5,216.6M292.3,227.0L293.6,217.5M294.9,227.4L296.4,217.9M303.2,229.1L305.6,219.8M330.6,240.7L335.7,232.6M334.2,243.1L339.6,235.1M356.4,263.9L363.9,258.0M357.9,265.9L365.6,260.2M358.4,266.6L366.2,261.0M367.9,282.7L376.6,278.7M370.2,288.2L379.1,284.7M371.9,293.0L381.0,290.0M375.1,305.0L384.5,303.2M375.3,305.9L384.7,304.1M376.8,318.7L386.4,318.2M376.7,329.9L386.3,330.5M375.1,342.7L384.5,344.5M374.7,344.3L384.1,346.4M373.7,348.5L383.0,351.0M373.5,349.4L382.7,351.9M370.5,358.5L379.5,361.9M357.7,381.9L365.4,387.6M357.2,382.6L364.8,388.4M350.5,390.5L357.5,397.1M349.9,391.1L356.8,397.8M345.6,395.4L352.1,402.4M316.4,414.0L320.0,422.9M306.7,417.4L309.4,426.7M300.0,419.1L302.1,428.5M298.3,419.5L300.2,428.9M286.7,421.1L287.4,430.6M266.3,420.5L265.0,430.0M263.8,420.1L262.3,429.6M253.0,417.7L250.4,427.0M224.9,404.8L219.5,412.7M223.5,403.8L218.0,411.7M212.8,395.2L206.3,402.2M188.1,358.6L179.2,362.0M186.4,353.7L177.3,356.6M185.9,352.0L176.7,354.8M182.3,334.2L172.7,335.2M182.1,332.5L172.5,333.4M181.8,320.6L172.2,320.3M182.4,312.1L172.9,311.0M182.5,311.3L173.0,310.0M182.7,309.6L173.2,308.2M183.1,307.1L173.7,305.4M184.4,300.8L175.1,298.6M195.1,274.4L186.8,269.6M197.8,270.0L189.8,264.7M199.3,267.9L191.4,262.4M201.5,264.8L193.9,259.0M210.0,255.1L203.1,248.3M214.3,250.9L207.9,243.8M225.9,242.1L220.7,234.0M226.6,241.6L221.4,233.5M232.2,238.2L227.6,229.8M235.3,236.6L231.0,228.1M236.8,235.9L232.7,227.2M240.0,234.4L236.1,225.6M244.8,232.5L241.4,223.5M255.5,229.1L253.2,219.8M260.6,228.0L258.7,218.5" stroke="#edf8b1" stroke-width="1.0" fill="none"/>
<path d="M291.5,226.9L292.7,217.4M295.7,227.5L297.3,218.1M299.9,228.3L301.9,219.0M300.7,228.5L302.8,219.2M309.8,231.0L312.8,221.9M316.2,233.4L319.8,224.5M318.5,234.4L322.4,225.6M319.3,234.7L323.3,226.0M320.1,235.1L324.1,226.4M323.9,237.0L328.3,228.4M327.7,239.0L332.4,230.7M334.9,243.5L340.4,235.7M337.0,245.0L342.7,237.3M337.7,245.5L343.4,237.8M341.7,248.7L347.8,241.3M343.0,249.8L349.3,242.5M348.5,254.9L355.3,248.1M349.1,255.5L356.0,248.8M351.4,258.0L358.5,251.5M356.9,264.5L364.5,258.7M359.9,268.7L367.8,263.3M361.3,270.8L369.4,265.6M362.2,272.2L370.4,267.2M362.7,273.0L370.8,268.0M364.0,275.2L372.3,270.4M366.8,280.4L375.4,276.2M369.9,287.4L378.8,283.9M371.1,290.6L380.1,287.3M371.7,292.2L380.8,289.1M373.4,297.9L382.7,295.4M376.3,312.7L385.8,311.6M376.7,317.8L386.3,317.3M376.8,320.4L386.4,320.1M376.9,322.1L386.5,322.0M376.9,325.6L386.5,325.8M376.6,331.6L386.2,332.4M376.1,335.9L385.7,337.1M375.4,341.0L384.8,342.7M375.2,341.8L384.6,343.6M373.3,350.2L382.5,352.8M372.8,351.8L382.0,354.6M372.3,353.5L381.4,356.4M371.7,355.1L380.8,358.2M366.7,367.2L375.3,371.5M366.3,368.0L374.9,372.3M362.5,374.7L370.7,379.8M355.0,385.3L362.5,391.4M353.9,386.6L361.3,392.8M352.8,387.9L360.0,394.3M352.2,388.6L359.4,395.0M351.7,389.2L358.8,395.7M349.3,391.8L356.2,398.4M346.2,394.8L352.8,401.8M345.0,396.0L351.4,403.1M344.3,396.5L350.7,403.7M343.7,397.1L350.0,404.3M343.0,397.7L349.3,404.9M338.6,401.3L344.4,408.9M334.4,404.3L339.8,412.2M333.0,405.3L338.3,413.3M330.1,407.1L335.1,415.3M329.4,407.5L334.3,415.8M327.9,408.4L332.7,416.7M326.4,409.2L331.0,417.6M324.9,410.1L329.4,418.5M323.4,410.8L327.7,419.4M318.7,413.0L322.6,421.8M312.4,415.6L315.6,424.6M285.0,421.2L285.6,430.8M283.3,421.3L283.7,430.9M268.0,420.7L266.9,430.2M265.5,420.4L264.1,429.9M262.9,420.0L261.3,429.4M258.8,419.2L256.7,428.5M254.6,418.2L252.2,427.5M249.7,416.8L246.8,425.9M244.6,415.0L241.1,423.9M235.2,410.8L230.8,419.4M234.4,410.4L230.0,418.9M233.7,410.0L229.2,418.5M232.9,409.6L228.3,418.1M232.2,409.2L227.5,417.6M230.7,408.4L225.9,416.7M229.2,407.5L224.3,415.7M227.0,406.2L221.9,414.3M226.3,405.7L221.1,413.8M224.2,404.3L218.7,412.2M219.3,400.8L213.4,408.3M218.0,399.7L212.0,407.2M216.0,398.1L209.8,405.4M209.8,392.2L202.9,399.0M209.2,391.6L202.3,398.3M207.4,389.8L200.3,396.2M204.8,386.8L197.5,393.0M203.1,384.8L195.7,390.8M200.0,380.7L192.2,386.3M192.3,368.1L183.8,372.4M191.6,366.5L182.9,370.7M189.4,361.8L180.6,365.5M186.9,355.3L177.9,358.4M185.6,351.2L176.4,353.9M185.2,349.5L175.9,352.0M184.3,346.0L174.9,348.1M184.1,345.1L174.7,347.2M181.8,318.9L172.2,318.4M181.9,317.2L172.3,316.6M182.9,308.7L173.4,307.3M184.0,302.5L174.7,300.4M185.1,298.3L175.8,295.8M186.3,294.2L177.1,291.3M189.3,286.0L180.4,282.3M192.2,279.7L183.6,275.4M193.4,277.4L184.9,272.9M194.2,275.9L185.9,271.2M202.6,263.4L195.0,257.5M203.1,262.8L195.6,256.8M204.2,261.4L196.8,255.3M222.4,244.5L216.8,236.7M224.5,243.0L219.1,235.1M231.5,238.7L226.8,230.3M236.1,236.2L231.8,227.6M238.4,235.1L234.4,226.4M240.8,234.1L237.0,225.3M241.6,233.7L237.9,224.9M243.2,233.1L239.6,224.2M248.9,231.0L245.9,221.9M253.0,229.8L250.4,220.5M261.4,227.8L259.7,218.4" stroke="#c7e9b4" stroke-width="1.0" fill="none"/>
<path d="M282.1,226.2L282.4,216.6M283.8,226.3L284.3,216.7M286.4,226.4L287.1,216.8M288.9,226.6L289.9,217.1M293.2,227.1L294.5,217.6M306.5,230.0L309.2,220.8M310.6,231.3L313.7,222.2M312.2,231.9L315.4,222.8M313.8,232.5L317.2,223.5M321.6,235.8L325.8,227.2M324.7,237.3L329.2,228.8M326.9,238.6L331.6,230.2M336.3,244.5L341.9,236.7M341.0,248.2L347.1,240.7M349.7,256.1L356.6,249.5M350.3,256.8L357.3,250.2M354.2,261.2L361.6,255.1M357.4,265.2L365.1,259.5M364.4,275.9L372.7,271.2M365.2,277.4L373.6,272.8M369.2,285.8L378.1,282.1M370.8,289.8L379.8,286.5M371.4,291.4L380.4,288.2M372.2,293.8L381.3,290.9M373.2,297.1L382.4,294.5M374.3,301.2L383.6,299.0M375.8,309.3L385.3,307.9M375.9,310.1L385.5,308.8M376.1,311.0L385.6,309.7M376.2,311.8L385.7,310.7M376.4,313.6L385.9,312.5M376.6,316.1L386.2,315.4M376.7,317.0L386.2,316.3M376.8,319.6L386.4,319.1M376.9,324.7L386.5,324.8M376.8,327.3L386.4,327.6M376.8,329.0L386.3,329.5M376.2,335.0L385.8,336.1M375.8,338.4L385.3,339.9M374.5,345.2L383.9,347.3M372.5,352.7L381.7,355.5M368.5,363.3L377.3,367.2M367.1,366.4L375.7,370.6M363.0,374.0L371.2,378.9M362.1,375.5L370.2,380.6M360.7,377.7L368.7,383.0M356.1,384.0L363.7,389.9M355.6,384.6L363.1,390.6M354.5,386.0L361.9,392.1M348.7,392.4L355.5,399.1M342.4,398.2L348.6,405.6M337.9,401.8L343.7,409.5M335.8,403.3L341.4,411.1M331.6,406.2L336.7,414.3M328.6,408.0L333.5,416.3M321.8,411.6L326.0,420.2M319.5,412.7L323.5,421.4M317.9,413.4L321.7,422.2M311.6,415.9L314.7,424.9M309.9,416.4L312.9,425.5M307.5,417.2L310.3,426.4M300.9,418.9L303.0,428.3M292.6,420.4L293.9,429.9M291.8,420.5L293.0,430.1M290.9,420.7L292.1,430.2M290.1,420.8L291.2,430.3M289.2,420.8L290.2,430.4M288.4,420.9L289.3,430.5M285.9,421.1L286.5,430.7M280.7,421.3L280.9,430.9M278.2,421.3L278.1,430.9M273.9,421.2L273.4,430.8M268.8,420.8L267.8,430.3M262.1,419.8L260.4,429.3M253.8,418.0L251.3,427.2M251.3,417.3L248.6,426.5M248.1,416.2L245.0,425.3M243.8,414.6L240.3,423.6M241.4,413.7L237.7,422.5M239.0,412.7L235.1,421.4M238.3,412.3L234.2,421.0M237.5,411.9L233.4,420.6M236.7,411.6L232.5,420.2M231.4,408.8L226.7,417.2M217.3,399.1L211.2,406.6M214.1,396.4L207.7,403.5M211.6,394.0L204.9,400.9M210.4,392.8L203.6,399.6M206.8,389.1L199.7,395.6M204.2,386.1L196.9,392.3M203.7,385.5L196.3,391.5M202.6,384.1L195.1,390.1M197.1,376.3L189.0,381.5M195.3,373.4L187.0,378.3M194.4,371.9L186.0,376.6M192.7,368.8L184.2,373.3M192.0,367.3L183.4,371.6M190.5,364.2L181.7,368.1M188.4,359.4L179.5,362.9M187.8,357.8L178.8,361.1M187.5,356.9L178.5,360.2M185.4,350.3L176.2,353.0M183.7,343.5L174.3,345.4M183.5,342.6L174.1,344.5M182.9,339.3L173.5,340.8M182.7,337.6L173.2,338.9M182.2,333.4L172.6,334.3M181.9,330.0L172.3,330.6M181.7,324.0L172.1,324.0M181.7,321.5L172.1,321.2M182.6,310.4L173.1,309.1M184.6,300.0L175.3,297.7M184.9,299.2L175.6,296.7M186.8,292.5L177.7,289.4M188.3,288.4L179.4,285.0M189.6,285.2L180.8,281.4M190.7,282.9L182.0,278.8M194.7,275.2L186.3,270.4M195.5,273.7L187.3,268.7M197.4,270.7L189.3,265.5M198.3,269.3L190.3,263.9M199.8,267.1L192.0,261.6M202.0,264.1L194.4,258.3M205.3,260.1L198.0,253.9M205.9,259.5L198.6,253.2M206.4,258.8L199.3,252.4M208.8,256.3L201.8,249.7M209.4,255.7L202.5,249.0M218.9,247.1L213.0,239.5M219.6,246.5L213.7,238.9M223.1,244.0L217.5,236.1M223.8,243.5L218.3,235.6M227.4,241.1L222.2,233.0M230.7,239.1L225.9,230.8M233.8,237.4L229.3,228.9M246.4,231.9L243.2,222.8M247.2,231.6L244.1,222.5M252.2,230.0L249.5,220.8M256.4,228.9L254.1,219.6" stroke="#7fcdbb" stroke-width="1.0" fill="none"/>
<path d="M279.6,226.2L279.6,216.6M283.0,226.2L283.3,216.6M284.7,226.3L285.2,216.7M285.5,226.3L286.1,216.8M290.6,226.8L291.7,217.3M294.0,227.3L295.5,217.8M298.2,228.0L300.1,218.6M299.1,228.2L301.0,218.8M304.0,229.3L306.5,220.1M304.9,229.6L307.4,220.3M305.7,229.8L308.3,220.5M307.3,230.3L310.1,221.1M308.1,230.5L311.0,221.3M309.0,230.8L311.9,221.6M314.6,232.8L318.1,223.8M315.4,233.1L318.9,224.1M317.0,233.7L320.7,224.9M317.8,234.0L321.5,225.2M322.4,236.2L326.7,227.6M323.2,236.6L327.5,228.0M328.4,239.4L333.3,231.1M329.2,239.8L334.1,231.6M329.9,240.3L334.9,232.1M331.3,241.2L336.5,233.1M332.1,241.6L337.3,233.6M333.5,242.6L338.8,234.6M339.7,247.1L345.7,239.6M342.4,249.3L348.6,241.9M343.6,250.4L350.0,243.2M346.7,253.1L353.3,246.2M350.9,257.4L357.9,250.8M353.1,259.9L360.4,253.6M354.8,261.9L362.2,255.8M359.4,268.0L367.3,262.5M360.4,269.4L368.3,264.0M361.8,271.5L369.9,266.4M363.1,273.7L371.3,268.8M365.6,278.2L374.1,273.7M366.0,278.9L374.5,274.5M367.1,281.2L375.8,277.0M367.5,282.0L376.2,277.9M368.9,285.1L377.7,281.3M369.6,286.6L378.4,283.0M372.7,295.5L381.9,292.7M373.0,296.3L382.2,293.6M373.6,298.7L382.9,296.3M373.9,299.6L383.2,297.2M374.1,300.4L383.4,298.1M375.7,308.4L385.2,306.9M376.5,314.4L386.0,313.5M376.9,323.0L386.5,322.9M376.6,330.7L386.2,331.4M375.7,339.3L385.1,340.8M374.3,346.0L383.7,348.2M374.1,346.9L383.5,349.1M373.9,347.7L383.2,350.1M369.9,360.1L378.8,363.7M368.9,362.5L377.7,366.3M365.9,368.7L374.4,373.2M365.1,370.3L373.5,374.8M363.8,372.5L372.2,377.3M361.6,376.2L369.7,381.4M359.7,379.1L367.6,384.5M358.7,380.5L366.5,386.1M358.2,381.2L366.0,386.9M356.6,383.3L364.3,389.1M348.1,393.0L354.9,399.8M337.2,402.3L342.9,410.0M335.1,403.8L340.6,411.7M333.7,404.8L339.1,412.8M330.8,406.6L335.9,414.8M327.1,408.8L331.8,417.2M325.6,409.6L330.2,418.1M321.1,412.0L325.2,420.6M320.3,412.3L324.3,421.0M317.1,413.7L320.9,422.6M314.8,414.7L318.3,423.6M308.3,416.9L311.2,426.1M305.8,417.7L308.4,426.9M304.2,418.1L306.6,427.4M302.5,418.5L304.8,427.9M299.2,419.3L301.1,428.7M284.2,421.2L284.6,430.8M281.6,421.3L281.8,430.9M279.9,421.3L280.0,430.9M277.3,421.3L277.1,430.9M275.6,421.3L275.3,430.9M272.2,421.1L271.5,430.7M264.6,420.2L263.2,429.7M259.6,419.3L257.7,428.7M257.1,418.8L254.9,428.1M255.4,418.4L253.1,427.7M248.9,416.5L245.9,425.6M243.0,414.3L239.4,423.2M239.8,413.0L235.9,421.8M221.4,402.3L215.7,410.0M218.7,400.2L212.7,407.7M216.7,398.6L210.5,406.0M212.2,394.6L205.6,401.6M208.6,391.0L201.6,397.6M208.0,390.4L201.0,396.9M198.5,378.5L190.6,383.9M198.0,377.8L190.0,383.1M194.8,372.6L186.5,377.5M193.6,370.4L185.1,375.0M191.2,365.7L182.5,369.9M190.1,363.4L181.3,367.3M189.8,362.6L181.0,366.4M189.1,361.0L180.2,364.7M188.8,360.2L179.9,363.8M187.2,356.1L178.2,359.3M186.1,352.8L177.0,355.7M183.2,340.9L173.8,342.6M183.1,340.1L173.6,341.7M182.8,338.4L173.3,339.9M182.5,335.9L172.9,337.1M182.0,331.7L172.5,332.4M181.8,328.3L172.2,328.7M181.7,325.7L172.1,325.9M181.7,324.9L172.1,325.0M182.0,315.5L172.5,314.7M182.1,314.6L172.6,313.8M183.9,303.4L174.5,301.4M185.5,296.6L176.3,294.0M186.0,295.0L176.9,292.2M190.0,284.4L181.2,280.6M191.0,282.1L182.4,278.0M196.0,272.9L187.8,267.9M196.4,272.2L188.3,267.1M203.6,262.1L196.2,256.0M207.6,257.6L200.5,251.0M208.2,256.9L201.2,250.4M210.6,254.5L203.8,247.6M211.8,253.3L205.2,246.3M215.6,249.8L209.3,242.5M217.6,248.1L211.5,240.7M218.3,247.6L212.2,240.1M225.2,242.5L219.9,234.5M234.5,237.0L230.1,228.5M239.2,234.8L235.3,226.0M244.0,232.8L240.5,223.8M257.2,228.7L255.0,219.3M259.7,228.1L257.8,218.7" stroke="#41b6c4" stroke-width="1.0" fill="none"/>
<path d="M280.4,226.2L280.5,216.6M287.2,226.5L288.0,216.9M288.1,226.5L288.9,217.0M289.8,226.7L290.8,217.2M296.5,227.7L298.2,218.2M297.4,227.8L299.2,218.4M301.6,228.7L303.7,219.4M320.9,235.4L325.0,226.8M326.2,238.2L330.8,229.7M332.8,242.1L338.0,234.1M338.4,246.0L344.2,238.4M340.4,247.6L346.4,240.1M344.3,250.9L350.7,243.8M347.3,253.7L354.0,246.8M347.9,254.3L354.6,247.5M352.0,258.6L359.2,252.2M352.6,259.3L359.8,252.9M355.8,263.2L363.4,257.2M360.8,270.1L368.8,264.8M363.5,274.4L371.8,269.6M366.4,279.7L374.9,275.3M368.2,283.5L377.0,279.6M372.5,294.6L381.6,291.8M375.4,306.7L384.9,305.1M375.6,307.6L385.0,306.0M376.9,321.3L386.5,321.0M376.9,326.4L386.5,326.7M376.5,332.4L386.1,333.3M376.4,333.3L386.0,334.2M372.0,354.3L381.1,357.3M370.2,359.3L379.1,362.8M369.2,361.7L378.1,365.4M368.2,364.1L376.9,368.0M367.8,364.9L376.5,368.9M367.5,365.6L376.1,369.8M365.5,369.5L374.0,374.0M364.3,371.8L372.6,376.5M363.4,373.3L371.7,378.1M361.1,376.9L369.2,382.2M347.5,393.6L354.2,400.5M346.9,394.2L353.5,401.1M310.7,416.1L313.8,425.2M309.1,416.7L312.1,425.8M301.7,418.7L303.9,428.1M297.5,419.6L299.3,429.1M293.5,420.3L294.9,429.8M279.0,421.3L279.0,430.9M276.5,421.3L276.2,430.9M274.8,421.2L274.3,430.8M273.1,421.2L272.5,430.7M269.7,420.9L268.7,430.4M267.2,420.6L266.0,430.1M261.3,419.7L259.5,429.1M260.4,419.5L258.6,428.9M257.9,419.0L255.8,428.3M256.3,418.6L254.0,427.9M252.2,417.5L249.5,426.7M242.2,414.0L238.5,422.9M235.9,411.2L231.7,419.8M227.7,406.6L222.7,414.8M225.6,405.2L220.3,413.2M222.8,403.3L217.2,411.1M222.1,402.8L216.4,410.6M220.7,401.8L214.9,409.5M214.7,396.9L208.4,404.1M213.5,395.8L207.0,402.9M202.1,383.4L194.5,389.3M201.5,382.7L193.9,388.6M201.0,382.1L193.3,387.8M199.5,379.9L191.7,385.5M199.0,379.2L191.1,384.7M197.6,377.1L189.5,382.3M196.2,374.9L188.0,379.9M190.8,365.0L182.1,369.0M186.7,354.5L177.6,357.5M183.9,344.3L174.5,346.3M182.6,336.7L173.1,338.0M182.0,330.8L172.4,331.5M181.8,329.1L172.3,329.6M181.8,327.4L172.2,327.8M181.7,323.2L172.1,323.1M184.2,301.7L174.9,299.5M185.3,297.5L176.1,294.9M187.1,291.7L178.0,288.5M188.0,289.3L179.0,285.9M188.6,287.6L179.7,284.1M189.0,286.8L180.1,283.2M192.6,279.0L184.0,274.6M193.8,276.7L185.4,272.0M196.9,271.5L188.8,266.3M204.7,260.8L197.4,254.6M212.4,252.7L205.8,245.7M213.0,252.1L206.5,245.0M213.7,251.5L207.2,244.4M215.0,250.4L208.6,243.1M216.3,249.2L210.1,241.9M216.9,248.7L210.8,241.3M233.0,237.8L228.4,229.4M237.6,235.5L233.5,226.8M245.6,232.2L242.3,223.1M248.0,231.3L245.0,222.2M249.7,230.8L246.8,221.6M251.3,230.2L248.6,221.0M253.8,229.5L251.3,220.3M254.7,229.3L252.3,220.0M258.0,228.5L255.9,219.1M258.9,228.3L256.9,218.9" stroke="#1d91c0" stroke-width="1.0" fill="none"/>
<path d="M355.3,262.5L362.8,256.5M364.8,276.7L373.2,272.0M368.6,284.3L377.3,280.4M370.5,289.0L379.5,285.6M376.5,315.3L386.1,314.4M376.8,328.2L386.4,328.6M376.3,334.2L385.9,335.2M373.0,351.0L382.2,353.7M364.7,371.0L373.1,375.7M359.2,379.8L367.1,385.3M339.3,400.8L345.1,408.3M336.5,402.8L342.1,410.6M322.6,411.2L326.9,419.8M303.4,418.3L305.7,427.6M294.3,420.2L295.8,429.7M282.5,421.3L282.8,430.9M271.4,421.0L270.6,430.6M240.6,413.3L236.8,422.2M220.0,401.3L214.2,408.9M211.0,393.4L204.2,400.3M200.5,381.4L192.8,387.0M183.0,307.9L173.5,306.3M186.6,293.3L177.4,290.3M187.7,290.1L178.7,286.8M190.3,283.7L181.6,279.7M207.0,258.2L199.9,251.7M211.2,253.9L204.5,247.0M221.0,245.5L215.2,237.8" stroke="#225ea8" stroke-width="1.0" fill="none"/>
<path d="M311.4,231.6L314.5,222.5M313.0,232.2L316.3,223.1M353.7,260.6L361.0,254.3M376.9,323.9L386.5,323.9M369.6,360.9L378.4,364.6M324.1,410.4L328.5,419.0M270.5,421.0L269.7,430.5M245.4,415.3L242.0,424.3M196.6,375.6L188.5,380.7M195.7,374.1L187.5,379.1M182.0,316.3L172.4,315.6M185.8,295.8L176.6,293.1M187.4,290.9L178.4,287.6M191.8,280.5L183.2,276.3M193.0,278.2L184.5,273.7M220.3,246.0L214.5,238.4M221.7,245.0L216.0,237.2M242.4,233.4L238.7,224.5M250.5,230.5L247.7,221.3" stroke="#253494" stroke-width="1.0" fill="none"/>
<path d="M369.8,307.1A92.0,92.0 0 0 1 370.4,311.3Q279.3,323.8 191.4,350.8A92.0,92.0 0 0 1 191.2,350.3Q279.3,323.8 369.8,307.1Z" fill="#2f9e48"/><path d="M370.6,312.1A92.0,92.0 0 0 1 371.0,316.2Q279.3,323.8 191.6,351.4A92.0,92.0 0 0 1 191.4,351.0Q279.3,323.8 370.6,312.1Z" fill="#2f9e48"/><path d="M371.1,317.0A92.0,92.0 0 0 1 371.3,321.2Q279.3,323.8 191.8,352.0A92.0,92.0 0 0 1 191.6,351.6Q279.3,323.8 371.1,317.0Z" fill="#2f9e48"/><path d="M371.3,322.0A92.0,92.0 0 0 1 371.3,326.2Q279.3,323.8 192.0,352.6A92.0,92.0 0 0 1 191.8,352.2Q279.3,323.8 371.3,322.0Z" fill="#2f9e48"/><path d="M279.9,231.8A92.0,92.0 0 0 1 282.4,231.8Q279.3,323.8 362.4,363.2A92.0,92.0 0 0 1 361.3,365.5Q279.3,323.8 279.9,231.8Z" fill="#2f9e48"/><path d="M283.8,231.9A92.0,92.0 0 0 1 286.0,232.0Q279.3,323.8 364.4,358.8A92.0,92.0 0 0 1 363.3,361.2Q279.3,323.8 283.8,231.9Z" fill="#2f9e48"/><path d="M287.6,232.1A92.0,92.0 0 0 1 289.9,232.4Q279.3,323.8 366.1,354.3A92.0,92.0 0 0 1 365.2,356.7Q279.3,323.8 287.6,232.1Z" fill="#2f9e48"/><path d="M291.8,232.6Q279.3,323.8 269.7,415.2" stroke="#2f9e48" stroke-width="1.5" fill="none"/><path d="M293.5,232.9Q279.3,323.8 315.2,408.4" stroke="#2f9e48" stroke-width="1.5" fill="none"/><path d="M295.1,233.1Q279.3,323.8 208.3,382.3" stroke="#2f9e48" stroke-width="1.5" fill="none"/><path d="M296.5,233.4Q279.3,323.8 327.4,402.2" stroke="#2f9e48" stroke-width="1.5" fill="none"/><path d="M298.4,233.8A92.0,92.0 0 0 1 305.3,235.5Q279.3,323.8 296.5,414.1A92.0,92.0 0 0 1 293.7,414.6Q279.3,323.8 298.4,233.8Z" fill="#2f9e48"/><path d="M305.7,235.6A92.0,92.0 0 0 1 312.6,238.0Q279.3,323.8 299.7,413.5A92.0,92.0 0 0 1 296.9,414.1Q279.3,323.8 305.7,235.6Z" fill="#2f9e48"/><path d="M313.0,238.2A92.0,92.0 0 0 1 319.6,241.1Q279.3,323.8 302.8,412.7A92.0,92.0 0 0 1 300.0,413.4Q279.3,323.8 313.0,238.2Z" fill="#2f9e48"/><path d="M320.1,241.3A92.0,92.0 0 0 1 326.4,244.7Q279.3,323.8 305.9,411.8A92.0,92.0 0 0 1 303.1,412.6Q279.3,323.8 320.1,241.3Z" fill="#2f9e48"/><path d="M326.8,245.0A92.0,92.0 0 0 1 332.9,248.9Q279.3,323.8 308.9,410.8A92.0,92.0 0 0 1 306.2,411.7Q279.3,323.8 326.8,245.0Z" fill="#2f9e48"/><path d="M333.2,249.2A92.0,92.0 0 0 1 338.9,253.7Q279.3,323.8 312.3,409.6A92.0,92.0 0 0 1 309.3,410.7Q279.3,323.8 333.2,249.2Z" fill="#2f9e48"/><path d="M343.9,258.2Q279.3,323.8 315.8,408.2" stroke="#2f9e48" stroke-width="1.4" fill="none"/><path d="M347.7,262.2Q279.3,323.8 319.1,406.7" stroke="#2f9e48" stroke-width="1.4" fill="none"/><path d="M350.8,265.9Q279.3,323.8 321.9,405.3" stroke="#2f9e48" stroke-width="1.4" fill="none"/><path d="M354.1,270.2Q279.3,323.8 324.5,403.9" stroke="#2f9e48" stroke-width="1.4" fill="none"/><path d="M251.5,236.1Q279.3,323.8 331.0,399.8" stroke="#49a9c1" stroke-width="1.7" fill="none"/><path d="M192.3,293.8A92.0,92.0 0 0 1 198.8,279.1Q279.3,323.8 242.5,239.4A92.0,92.0 0 0 1 250.9,236.3Q279.3,323.8 192.3,293.8Z" fill="#afc82f"/><path d="M189.4,304.3A92.0,92.0 0 0 1 190.3,300.6Q279.3,323.8 329.1,401.1A92.0,92.0 0 0 1 327.8,401.9Q279.3,323.8 189.4,304.3Z" fill="#afc82f"/><path d="M190.4,299.9A92.0,92.0 0 0 1 191.5,296.2Q279.3,323.8 339.8,393.1A92.0,92.0 0 0 1 338.6,394.1Q279.3,323.8 190.4,299.9Z" fill="#afc82f"/><path d="M205.7,268.5A92.0,92.0 0 0 1 210.1,263.2Q279.3,323.8 358.2,371.1A92.0,92.0 0 0 1 356.1,374.4Q279.3,323.8 205.7,268.5Z" fill="#c3183b"/><path d="M210.6,262.5A92.0,92.0 0 0 1 215.4,257.6Q279.3,323.8 364.3,359.0A92.0,92.0 0 0 1 362.3,363.4Q279.3,323.8 210.6,262.5Z" fill="#c3183b"/><path d="M221.7,252.1Q279.3,323.8 355.0,271.5" stroke="#c3183b" stroke-width="1.7" fill="none"/><path d="M229.5,246.4Q279.3,323.8 360.8,281.1" stroke="#c3183b" stroke-width="1.7" fill="none"/><path d="M218.2,255.0Q279.3,323.8 351.6,380.6" stroke="#c3183b" stroke-width="1.7" fill="none"/><path d="M225.5,249.1Q279.3,323.8 347.2,385.8" stroke="#c3183b" stroke-width="1.7" fill="none"/><path d="M207.2,266.6Q279.3,323.8 253.3,412.0" stroke="#c3183b" stroke-width="1.7" fill="none"/><path d="M212.5,260.5Q279.3,323.8 244.2,408.8" stroke="#c3183b" stroke-width="1.7" fill="none"/><path d="M219.9,253.5Q279.3,323.8 360.5,366.9" stroke="#c3183b" stroke-width="1.7" fill="none"/><path d="M223.9,250.3Q279.3,323.8 354.1,377.3" stroke="#c3183b" stroke-width="1.7" fill="none"/><path d="M216.6,256.5Q279.3,323.8 366.6,352.8" stroke="#c3183b" stroke-width="1.7" fill="none"/><path d="M227.9,247.5Q279.3,323.8 343.7,389.5" stroke="#c3183b" stroke-width="1.7" fill="none"/><path d="M358.3,276.6A92.0,92.0 0 0 1 368.8,302.4Q279.3,323.8 248.4,410.4A92.0,92.0 0 0 1 235.3,404.5Q279.3,323.8 358.3,276.6Z" fill="#9cc2e6"/><path d="M349.2,383.6A92.0,92.0 0 0 1 346.6,386.5Q279.3,323.8 187.6,331.1A92.0,92.0 0 0 1 187.5,329.2Q279.3,323.8 349.2,383.6Z" fill="#e9bfca"/><path d="M352.8,379.1Q279.3,323.8 187.9,334.3" stroke="#e9bfca" stroke-width="1.4" fill="none"/><path d="M239.0,406.4A92.0,92.0 0 0 1 232.7,403.1Q279.3,323.8 209.2,383.4A92.0,92.0 0 0 1 204.9,377.8Q279.3,323.8 239.0,406.4Z" fill="#efe23c"/><path d="M232.1,402.7A92.0,92.0 0 0 1 227.1,399.5Q279.3,323.8 213.8,388.3A92.0,92.0 0 0 1 209.8,384.0Q279.3,323.8 232.1,402.7Z" fill="#efe23c"/><path d="M226.4,399.0A92.0,92.0 0 0 1 221.9,395.6Q279.3,323.8 218.5,392.8A92.0,92.0 0 0 1 214.4,388.9Q279.3,323.8 226.4,399.0Z" fill="#efe23c"/><path d="M370.4,336.9A92.0,92.0 0 0 1 366.5,353.1Q279.3,323.8 187.5,318.0A92.0,92.0 0 0 1 188.4,309.4Q279.3,323.8 370.4,336.9Z" fill="#c1358f"/><path d="M370.0,308.4Q279.3,323.8 291.5,414.9" stroke="#c1358f" stroke-width="1.5" fill="none"/><path d="M371.1,330.2Q279.3,323.8 284.9,415.6" stroke="#c1358f" stroke-width="1.2" fill="none"/><path d="M313.8,409.1A92.0,92.0 0 0 1 296.2,414.2Q279.3,323.8 294.0,414.6A92.0,92.0 0 0 1 281.5,415.7Q279.3,323.8 313.8,409.1Z" fill="#db9527"/><path d="M335.4,396.6A92.0,92.0 0 0 1 333.9,397.8Q279.3,323.8 187.3,326.6A92.0,92.0 0 0 1 187.3,324.7Q279.3,323.8 335.4,396.6Z" fill="#db9527"/><path d="M325.9,403.1A92.0,92.0 0 0 1 324.2,404.1Q279.3,323.8 188.8,340.4A92.0,92.0 0 0 1 188.5,338.5Q279.3,323.8 325.9,403.1Z" fill="#db9527"/><path d="M264.6,414.6A92.0,92.0 0 0 1 262.1,414.1Q279.3,323.8 203.9,376.5A92.0,92.0 0 0 1 201.6,373.0Q279.3,323.8 264.6,414.6Z" fill="#db9527"/><path d="M245.7,409.4Q279.3,323.8 188.1,335.6" stroke="#db9527" stroke-width="1.4" fill="none"/><path d="M273.8,415.6Q279.3,323.8 199.9,370.3" stroke="#db9527" stroke-width="1.3" fill="none"/><path d="M280.6,415.7A92.0,92.0 0 0 1 277.4,415.7Q279.3,323.8 187.9,313.5A92.0,92.0 0 0 1 188.3,310.3Q279.3,323.8 280.6,415.7Z" fill="#edc21c"/><path d="M272.6,415.5A92.0,92.0 0 0 1 266.5,414.9Q279.3,323.8 196.2,363.2A92.0,92.0 0 0 1 193.3,356.4Q279.3,323.8 272.6,415.5Z" fill="#edc21c"/><path d="M254.6,412.4A92.0,92.0 0 0 1 251.2,411.3Q279.3,323.8 192.6,354.6A92.0,92.0 0 0 1 192.0,352.8Q279.3,323.8 254.6,412.4Z" fill="#edc21c"/><path d="M259.2,413.5Q279.3,323.8 198.8,368.4" stroke="#edc21c" stroke-width="1.8" fill="none"/><path d="M275.1,415.7Q279.3,323.8 197.3,365.5" stroke="#edc21c" stroke-width="1.5" fill="none"/><path d="M190.7,348.6Q279.3,323.8 188.2,336.6" stroke="#6788bf" stroke-width="1.7" fill="none"/><path d="M189.4,343.5Q279.3,323.8 358.2,371.1" stroke="#c3183b" stroke-width="1.2" fill="none"/>
<text x="272.2" y="108.2" font-size="9.6" font-weight="bold" text-anchor="middle">a</text>
<text x="272.2" y="126.3" font-size="9.6" font-weight="bold" text-anchor="middle">b</text>
<text x="272.2" y="138.20000000000002" font-size="9.6" font-weight="bold" text-anchor="middle">c</text>
<text x="272.2" y="147.3" font-size="9.6" font-weight="bold" text-anchor="middle">d</text>
<text x="272.2" y="160.3" font-size="9.6" font-weight="bold" text-anchor="middle">e</text>
<text x="272.2" y="187.4" font-size="9.6" font-weight="bold" text-anchor="middle">f</text>
<text x="272.2" y="211.9" font-size="9.6" font-weight="bold" text-anchor="middle">g</text>
<text x="272.2" y="224.8" font-size="9.6" font-weight="bold" text-anchor="middle">h</text>
<text x="272.2" y="236.9" font-size="9.6" font-weight="bold" text-anchor="middle">i</text>
</g>
<text transform="translate(592,78) rotate(-45)" font-size="16" font-style="italic">T. chinensis</text>
<text transform="translate(616,78) rotate(-45)" font-size="16" font-style="italic">F. tataricum</text>
<text transform="translate(638.5,78) rotate(-45)" font-size="16" font-style="italic">S. chinensis</text>
<text transform="translate(662,78) rotate(-45)" font-size="16" font-style="italic">H. undatus</text>
<text transform="translate(685.5,78) rotate(-45)" font-size="16" font-style="italic">A. cruentus</text>
<text transform="translate(706,78) rotate(-45)" font-size="16" font-style="italic">B. vulgaris</text>
<text transform="translate(727,78) rotate(-45)" font-size="16" font-style="italic">S. oleracea</text>
<text transform="translate(752.5,78) rotate(-45)" font-size="16" font-style="italic">A. hortensis</text>
<text transform="translate(773,78) rotate(-45)" font-size="16" font-style="italic">C. pallidicaule</text>
<text transform="translate(795,78) rotate(-45)" font-size="16" font-style="italic">V. vinifera</text>
<text transform="translate(818.5,78) rotate(-45)" font-size="16" font-style="italic">A. thaliana</text>
<text transform="translate(840,78) rotate(-45)" font-size="16" font-style="italic">O. sativa</text>
<circle cx="588.4" cy="98.5" r="7.20" fill="rgb(208,38,39)" stroke="#111" stroke-width="0.8"/>
<circle cx="724.2" cy="98.5" r="0.99" fill="#223"/>
<circle cx="749.4" cy="98.5" r="1.14" fill="#223"/>
<circle cx="835.4" cy="98.5" r="1.06" fill="#223"/>
<circle cx="588.4" cy="120.7" r="5.76" fill="rgb(238,135,82)" stroke="#111" stroke-width="0.8"/>
<circle cx="612.4" cy="120.7" r="1.14" fill="#223"/>
<circle cx="682.1" cy="120.7" r="1.56" fill="#223"/>
<circle cx="704.3" cy="120.7" r="1.61" fill="rgb(120,160,185)" stroke="#111" stroke-width="0.5"/>
<circle cx="724.2" cy="120.7" r="1.80" fill="rgb(120,160,185)" stroke="#111" stroke-width="0.5"/>
<circle cx="749.4" cy="120.7" r="1.56" fill="#223"/>
<circle cx="835.4" cy="120.7" r="1.80" fill="rgb(120,160,185)" stroke="#111" stroke-width="0.5"/>
<circle cx="588.4" cy="142.9" r="5.69" fill="rgb(240,140,85)" stroke="#111" stroke-width="0.8"/>
<circle cx="588.4" cy="165.1" r="5.55" fill="rgb(242,150,88)" stroke="#111" stroke-width="0.8"/>
<circle cx="724.2" cy="165.1" r="1.80" fill="rgb(120,160,185)" stroke="#111" stroke-width="0.5"/>
<circle cx="749.4" cy="165.1" r="1.91" fill="rgb(120,160,185)" stroke="#111" stroke-width="0.5"/>
<circle cx="771.7" cy="165.1" r="1.27" fill="#223"/>
<circle cx="588.4" cy="187.3" r="5.40" fill="rgb(244,160,91)" stroke="#111" stroke-width="0.8"/>
<circle cx="704.3" cy="187.3" r="1.27" fill="#223"/>
<circle cx="724.2" cy="187.3" r="1.27" fill="#223"/>
<circle cx="588.4" cy="209.6" r="5.09" fill="rgb(248,180,97)" stroke="#111" stroke-width="0.8"/>
<circle cx="704.3" cy="209.6" r="1.14" fill="#223"/>
<circle cx="724.2" cy="209.6" r="1.14" fill="#223"/>
<circle cx="749.4" cy="209.6" r="2.38" fill="rgb(132,166,181)" stroke="#111" stroke-width="0.8"/>
<circle cx="835.4" cy="209.6" r="1.14" fill="#223"/>
<circle cx="588.4" cy="231.8" r="4.12" fill="rgb(218,190,136)" stroke="#111" stroke-width="0.8"/>
<circle cx="704.3" cy="231.8" r="0.99" fill="#223"/>
<circle cx="724.2" cy="231.8" r="1.06" fill="#223"/>
<circle cx="771.7" cy="231.8" r="2.20" fill="rgb(126,163,183)" stroke="#111" stroke-width="0.8"/>
<circle cx="588.4" cy="254" r="2.70" fill="rgb(144,172,177)" stroke="#111" stroke-width="0.8"/>
<circle cx="612.4" cy="254" r="1.42" fill="#223"/>
<circle cx="704.3" cy="254" r="2.70" fill="rgb(144,172,177)" stroke="#111" stroke-width="0.8"/>
<circle cx="724.2" cy="254" r="3.71" fill="rgb(196,186,150)" stroke="#111" stroke-width="0.8"/>
<circle cx="749.4" cy="254" r="3.12" fill="rgb(163,178,168)" stroke="#111" stroke-width="0.8"/>
<circle cx="771.7" cy="254" r="4.59" fill="rgb(236,190,116)" stroke="#111" stroke-width="0.8"/>
<circle cx="835.4" cy="254" r="1.27" fill="#223"/>
<circle cx="588.4" cy="276.2" r="7.09" fill="rgb(209,39,40)" stroke="#111" stroke-width="0.8"/>
<circle cx="633.8" cy="276.2" r="1.14" fill="#223"/>
<circle cx="658.4" cy="276.2" r="1.06" fill="#223"/>
<circle cx="793" cy="276.2" r="1.06" fill="#223"/>
<circle cx="814.7" cy="276.2" r="1.06" fill="#223"/>
<circle cx="588.4" cy="298.4" r="6.97" fill="rgb(210,40,40)" stroke="#111" stroke-width="0.8"/>
<circle cx="633.8" cy="298.4" r="1.21" fill="#223"/>
<circle cx="658.4" cy="298.4" r="1.14" fill="#223"/>
<circle cx="724.2" cy="298.4" r="1.06" fill="#223"/>
<circle cx="793" cy="298.4" r="1.27" fill="#223"/>
<circle cx="814.7" cy="298.4" r="2.20" fill="rgb(126,163,183)" stroke="#111" stroke-width="0.8"/>
<circle cx="835.4" cy="298.4" r="1.56" fill="#223"/>
<circle cx="588.4" cy="320.6" r="4.85" fill="rgb(246,190,104)" stroke="#111" stroke-width="0.8"/>
<circle cx="588.4" cy="342.8" r="5.83" fill="rgb(237,130,80)" stroke="#111" stroke-width="0.8"/>
<circle cx="612.4" cy="342.8" r="4.12" fill="rgb(218,190,136)" stroke="#111" stroke-width="0.8"/>
<circle cx="633.8" cy="342.8" r="2.01" fill="rgb(120,160,185)" stroke="#111" stroke-width="0.8"/>
<circle cx="658.4" cy="342.8" r="2.55" fill="rgb(138,169,179)" stroke="#111" stroke-width="0.8"/>
<circle cx="682.1" cy="342.8" r="2.70" fill="rgb(144,172,177)" stroke="#111" stroke-width="0.8"/>
<circle cx="704.3" cy="342.8" r="2.98" fill="rgb(156,176,172)" stroke="#111" stroke-width="0.8"/>
<circle cx="724.2" cy="342.8" r="2.01" fill="rgb(120,160,185)" stroke="#111" stroke-width="0.8"/>
<circle cx="749.4" cy="342.8" r="5.01" fill="rgb(249,185,98)" stroke="#111" stroke-width="0.8"/>
<circle cx="771.7" cy="342.8" r="2.20" fill="rgb(126,163,183)" stroke="#111" stroke-width="0.8"/>
<circle cx="793" cy="342.8" r="2.98" fill="rgb(156,176,172)" stroke="#111" stroke-width="0.8"/>
<circle cx="814.7" cy="342.8" r="3.37" fill="rgb(176,181,161)" stroke="#111" stroke-width="0.8"/>
<circle cx="835.4" cy="342.8" r="2.85" fill="rgb(150,175,175)" stroke="#111" stroke-width="0.8"/>
<circle cx="588.4" cy="365" r="5.32" fill="rgb(245,165,92)" stroke="#111" stroke-width="0.8"/>
<circle cx="704.3" cy="365" r="1.56" fill="#223"/>
<circle cx="588.4" cy="387.2" r="5.17" fill="rgb(247,175,96)" stroke="#111" stroke-width="0.8"/>
<circle cx="658.4" cy="387.2" r="1.56" fill="#223"/>
<circle cx="588.4" cy="409.4" r="4.41" fill="rgb(229,190,124)" stroke="#111" stroke-width="0.8"/>
<circle cx="612.4" cy="409.4" r="2.01" fill="rgb(120,160,185)" stroke="#111" stroke-width="0.8"/>
<circle cx="633.8" cy="409.4" r="2.98" fill="rgb(156,176,172)" stroke="#111" stroke-width="0.8"/>
<circle cx="658.4" cy="409.4" r="2.55" fill="rgb(138,169,179)" stroke="#111" stroke-width="0.8"/>
<circle cx="682.1" cy="409.4" r="2.01" fill="rgb(120,160,185)" stroke="#111" stroke-width="0.8"/>
<circle cx="704.3" cy="409.4" r="5.76" fill="rgb(238,135,82)" stroke="#111" stroke-width="0.8"/>
<circle cx="724.2" cy="409.4" r="3.92" fill="rgb(208,188,144)" stroke="#111" stroke-width="0.8"/>
<circle cx="749.4" cy="409.4" r="7.31" fill="rgb(207,37,39)" stroke="#111" stroke-width="0.8"/>
<circle cx="771.7" cy="409.4" r="5.01" fill="rgb(249,185,98)" stroke="#111" stroke-width="0.8"/>
<circle cx="793" cy="409.4" r="1.21" fill="#223"/>
<circle cx="835.4" cy="409.4" r="1.56" fill="#223"/>
<circle cx="588.4" cy="431.7" r="4.32" fill="rgb(226,190,128)" stroke="#111" stroke-width="0.8"/>
<circle cx="612.4" cy="431.7" r="2.01" fill="rgb(120,160,185)" stroke="#111" stroke-width="0.8"/>
<circle cx="633.8" cy="431.7" r="2.01" fill="rgb(120,160,185)" stroke="#111" stroke-width="0.8"/>
<circle cx="658.4" cy="431.7" r="2.38" fill="rgb(132,166,181)" stroke="#111" stroke-width="0.8"/>
<circle cx="682.1" cy="431.7" r="3.24" fill="rgb(170,180,164)" stroke="#111" stroke-width="0.8"/>
<circle cx="704.3" cy="431.7" r="2.20" fill="rgb(126,163,183)" stroke="#111" stroke-width="0.8"/>
<circle cx="724.2" cy="431.7" r="1.80" fill="rgb(120,160,185)" stroke="#111" stroke-width="0.5"/>
<circle cx="749.4" cy="431.7" r="2.01" fill="rgb(120,160,185)" stroke="#111" stroke-width="0.8"/>
<circle cx="771.7" cy="431.7" r="2.70" fill="rgb(144,172,177)" stroke="#111" stroke-width="0.8"/>
<circle cx="793" cy="431.7" r="4.85" fill="rgb(246,190,104)" stroke="#111" stroke-width="0.8"/>
<circle cx="814.7" cy="431.7" r="1.06" fill="#223"/>
<circle cx="835.4" cy="431.7" r="1.06" fill="#223"/>
<circle cx="588.4" cy="453.9" r="5.40" fill="rgb(244,160,91)" stroke="#111" stroke-width="0.8"/>
<circle cx="633.8" cy="453.9" r="1.14" fill="#223"/>
<circle cx="682.1" cy="453.9" r="1.42" fill="#223"/>
<circle cx="835.4" cy="453.9" r="1.91" fill="rgb(120,160,185)" stroke="#111" stroke-width="0.5"/>
<circle cx="588.4" cy="476.1" r="4.32" fill="rgb(226,190,128)" stroke="#111" stroke-width="0.8"/>
<circle cx="704.3" cy="476.1" r="1.56" fill="#223"/>
<circle cx="749.4" cy="476.1" r="1.06" fill="#223"/>
<circle cx="771.7" cy="476.1" r="1.06" fill="#223"/>
<circle cx="588.4" cy="498.3" r="4.12" fill="rgb(218,190,136)" stroke="#111" stroke-width="0.8"/>
<circle cx="704.3" cy="498.3" r="1.14" fill="#223"/>
<circle cx="724.2" cy="498.3" r="1.56" fill="#223"/>
<circle cx="749.4" cy="498.3" r="2.01" fill="rgb(120,160,185)" stroke="#111" stroke-width="0.8"/>
<circle cx="588.4" cy="520.5" r="7.09" fill="rgb(209,39,40)" stroke="#111" stroke-width="0.8"/>
<circle cx="633.8" cy="520.5" r="1.21" fill="#223"/>
<circle cx="682.1" cy="520.5" r="4.12" fill="rgb(218,190,136)" stroke="#111" stroke-width="0.8"/>
<circle cx="724.2" cy="520.5" r="1.06" fill="#223"/>
<circle cx="749.4" cy="520.5" r="1.14" fill="#223"/>
<circle cx="588.4" cy="542.7" r="5.83" fill="rgb(237,130,80)" stroke="#111" stroke-width="0.8"/>
<circle cx="612.4" cy="542.7" r="2.01" fill="rgb(120,160,185)" stroke="#111" stroke-width="0.8"/>
<circle cx="682.1" cy="542.7" r="1.27" fill="#223"/>
<circle cx="704.3" cy="542.7" r="2.20" fill="rgb(126,163,183)" stroke="#111" stroke-width="0.8"/>
<circle cx="724.2" cy="542.7" r="2.98" fill="rgb(156,176,172)" stroke="#111" stroke-width="0.8"/>
<circle cx="749.4" cy="542.7" r="2.55" fill="rgb(138,169,179)" stroke="#111" stroke-width="0.8"/>
<circle cx="771.7" cy="542.7" r="2.85" fill="rgb(150,175,175)" stroke="#111" stroke-width="0.8"/>
<circle cx="814.7" cy="542.7" r="1.42" fill="#223"/>
<circle cx="588.4" cy="564.9" r="4.93" fill="rgb(250,190,100)" stroke="#111" stroke-width="0.8"/>
<circle cx="588.4" cy="587.1" r="3.92" fill="rgb(208,188,144)" stroke="#111" stroke-width="0.8"/>
<circle cx="633.8" cy="587.1" r="1.56" fill="#223"/>
<circle cx="658.4" cy="587.1" r="1.14" fill="#223"/>
<circle cx="682.1" cy="587.1" r="1.14" fill="#223"/>
<circle cx="704.3" cy="587.1" r="2.38" fill="rgb(132,166,181)" stroke="#111" stroke-width="0.8"/>
<circle cx="724.2" cy="587.1" r="1.80" fill="rgb(120,160,185)" stroke="#111" stroke-width="0.5"/>
<circle cx="749.4" cy="587.1" r="1.80" fill="rgb(120,160,185)" stroke="#111" stroke-width="0.5"/>
<circle cx="771.7" cy="587.1" r="1.42" fill="#223"/>
<circle cx="793" cy="587.1" r="1.80" fill="rgb(120,160,185)" stroke="#111" stroke-width="0.5"/>
<circle cx="814.7" cy="587.1" r="3.24" fill="rgb(170,180,164)" stroke="#111" stroke-width="0.8"/>
<circle cx="835.4" cy="587.1" r="1.27" fill="#223"/>
<path d="M845,93.6V265.4M845,273.6V326.6M845,454.6V506.5" stroke="#000" stroke-width="1.3"/>
<text x="851.3" y="181.6" font-size="16">HAT</text>
<text x="851.3" y="303.8" font-size="16">LIMYB</text>
<text x="851.3" y="348.2" font-size="16">SOT5</text>
<text x="851.3" y="370.4" font-size="16">KIN12A</text>
<text x="851.3" y="392.6" font-size="16">FRS6</text>
<text x="851.3" y="414.8" font-size="16">RPPL1</text>
<text x="851.3" y="437.1" font-size="16">RLP6</text>
<text x="851.3" y="481.9" font-size="16">At1g65750</text>
<text x="851.3" y="527.3" font-size="16">At2g29880</text>
<text x="851.3" y="549.5" font-size="16">At4g02000</text>
<text x="851.3" y="571.7" font-size="16">At3g14460</text>
<text x="851.3" y="593.9" font-size="16">At3g58370</text>
<circle cx="930.6" cy="84.5" r="2.85" fill="rgb(150,175,175)" stroke="#111" stroke-width="0.8"/>
<text x="940" y="89.1" font-size="13.5">10</text>
<circle cx="930.6" cy="103.5" r="4.02" fill="rgb(215,190,140)" stroke="#111" stroke-width="0.8"/>
<text x="940" y="108.1" font-size="13.5">20</text>
<circle cx="930.6" cy="122.7" r="4.93" fill="rgb(250,190,100)" stroke="#111" stroke-width="0.8"/>
<text x="940" y="127.3" font-size="13.5">30</text>
<circle cx="930.6" cy="141.8" r="5.69" fill="rgb(240,140,85)" stroke="#111" stroke-width="0.8"/>
<text x="940" y="146.4" font-size="13.5">40</text>
<circle cx="930.6" cy="161.1" r="6.36" fill="rgb(225,90,60)" stroke="#111" stroke-width="0.8"/>
<text x="940" y="165.7" font-size="13.5">50</text>
<circle cx="930.6" cy="180" r="6.97" fill="rgb(210,40,40)" stroke="#111" stroke-width="0.8"/>
<text x="940" y="184.6" font-size="13.5">60</text>
<text transform="translate(907.6,79.6) rotate(90)" font-size="16">Number og genes</text>
<text x="44" y="656.4" font-size="16">Gene families</text>
<text x="44" y="676" font-size="16"><tspan fill="#2aa52a">Expansion</tspan><tspan fill="#333">/</tspan><tspan fill="#a020f0">Contraction</tspan></text>
<path d="M94.7,678.8A16.5,16.5 0 0 0 94.7,711.8Z" fill="#22a010"/>
<path d="M94.7,678.8A16.5,16.5 0 0 1 94.7,711.8Z" fill="#9a10ea"/>
<path d="M94.7,678.8V711.8" stroke="#fff" stroke-width="1.6"/>
<circle cx="54.9" cy="734" r="9.6" fill="#000"/>
<text x="53.6" y="738.8" font-size="14" fill="#fff" stroke="#fff" stroke-width="0.3" text-anchor="middle">C</text>
<text x="70" y="740.3" font-size="16">Calibration point</text>
<polygon points="45.1,763.7 49.5,755.9 58.3,755.9 62.7,763.7 58.3,771.5 49.5,771.5" fill="#f0602c" stroke="#8a3a14" stroke-width="0.7"/>
<text x="70" y="768.9" font-size="16">WGD</text>
<polygon points="53.9,784.4 56.5,790.6 63.2,791.2 58.1,795.6 59.7,802.1 53.9,798.6 48.1,802.1 49.7,795.6 44.6,791.2 51.3,790.6" fill="#f0602c" stroke="#8a3a14" stroke-width="0.7"/>
<text x="70" y="798.8" font-size="16">WGT</text>
<path d="M46.5,821H84.1" stroke="#000" stroke-width="1.6"/>
<text x="63.5" y="835" font-size="14" text-anchor="middle">0.1</text>
<path d="M120.3,974.4V1113.1M120.3,1113.1H725.5M120.3,974.4H159.1M159.1,876.3V1071.1M159.1,1071.1H725.5M159.1,876.3H258M258,724V1029.1M258,1029.1H725.5M258,724H336.2M336.2,671.5V779.6M336.2,671.5H379.9M336.2,779.6H380.6M336.2,776.2H380.6M379.9,650.8V692.8M379.9,650.8H725.5M379.9,692.8H725.5M380.6,734.9V817.6M380.6,734.9H725.5M380.6,817.6H470.6M470.6,776.9V858.2M470.6,776.9H725.5M470.6,858.2H556.8M556.8,818.9V897.3M556.8,818.9H725.5M556.8,897.3H584M584,860.9V934.5M584,860.9H725.5M584,934.5H626.2M626.2,903V965.9M626.2,903H725.5M626.2,965.9H671.2M671.2,945V987M671.2,945H725.5M671.2,987H725.5" stroke="#000" stroke-width="1.4" fill="none" stroke-linecap="square"/>
<rect x="327.4" y="667.5" width="85" height="8" fill="#0808e4" fill-opacity="0.5"/>
<rect x="295.3" y="719.9" width="66.5" height="8" fill="#0808e4" fill-opacity="0.5"/>
<rect x="336.2" y="772.1" width="80.4" height="8" fill="#0808e4" fill-opacity="0.5"/>
<rect x="429.7" y="813.5" width="75" height="8" fill="#0808e4" fill-opacity="0.5"/>
<rect x="530.7" y="854.1" width="55.6" height="8" fill="#0808e4" fill-opacity="0.5"/>
<rect x="563.4" y="893.4" width="47.7" height="8" fill="#0808e4" fill-opacity="0.5"/>
<rect x="605.5" y="931" width="39.4" height="8" fill="#0808e4" fill-opacity="0.5"/>
<rect x="655" y="961.8" width="31.5" height="8" fill="#0808e4" fill-opacity="0.5"/>
<rect x="246.2" y="872.5" width="24.3" height="8" fill="#0808e4" fill-opacity="0.5"/>
<rect x="113" y="970.2" width="100.2" height="8" fill="#0808e4" fill-opacity="0.5"/>
<rect x="57.3" y="1039.8" width="113.5" height="8" fill="#0808e4" fill-opacity="0.5"/>
<text x="380.6" y="666.2" font-size="10.6" textLength="89" lengthAdjust="spacingAndGlyphs" fill="#111">90.55 [81.89-104.17]</text>
<text x="338" y="718.6" font-size="10.6" textLength="93" lengthAdjust="spacingAndGlyphs" fill="#111">101.81 [95.22-112.63]</text>
<text x="381.8" y="770.8" font-size="10.6" textLength="89.5" lengthAdjust="spacingAndGlyphs" fill="#111">99.36 [80.89-101.97]</text>
<text x="471.8" y="810.1" font-size="10.6" textLength="82" lengthAdjust="spacingAndGlyphs" fill="#111">66.86 [57.91-77.39]</text>
<text x="557.3" y="851.5" font-size="10.6" textLength="83.2" lengthAdjust="spacingAndGlyphs" fill="#111">44.24 [36.44-51.03]</text>
<text x="584.9" y="891.4" font-size="10.6" textLength="82.3" lengthAdjust="spacingAndGlyphs" fill="#111">32.66 [29.97-42.46]</text>
<text x="627" y="929" font-size="10.6" textLength="83" lengthAdjust="spacingAndGlyphs" fill="#111">26.13 [21.02-31.57]</text>
<text x="673" y="960.5" font-size="10.6" textLength="83" lengthAdjust="spacingAndGlyphs" fill="#111">14.16 [10.35-18.57]</text>
<text x="259.8" y="870.8" font-size="10.6" textLength="98.4" lengthAdjust="spacingAndGlyphs" fill="#444">122.55 [119.18-125.50]</text>
<text x="160.3" y="964.6" font-size="10.6" textLength="96" lengthAdjust="spacingAndGlyphs" fill="#111">148.25 [134.25-160.07]</text>
<text x="121.3" y="1034.4" font-size="10.6" textLength="99.5" lengthAdjust="spacingAndGlyphs" fill="#888">158.36 [148.28-174.91]</text>
<circle cx="470.6" cy="817.6" r="9.3" fill="#000"/>
<text x="470.6" y="822.8" font-size="16" fill="#fff" text-anchor="middle" textLength="15.4" lengthAdjust="spacingAndGlyphs">C3</text>
<circle cx="159.6" cy="974.2" r="9.3" fill="#000"/>
<text x="159.6" y="979.4" font-size="16" fill="#fff" text-anchor="middle" textLength="15.4" lengthAdjust="spacingAndGlyphs">C2</text>
<circle cx="120.3" cy="1044.2" r="9.3" fill="#000"/>
<text x="120.3" y="1049.4" font-size="16" fill="#fff" text-anchor="middle" textLength="15.4" lengthAdjust="spacingAndGlyphs">C1</text>
<path d="M113.8,970.2V978.2M380.6,780H416.6V772.4M429.9,813.8V821.4H470" stroke="#000" stroke-width="1.1" fill="none"/>
<polygon points="140.1,962.6 142.8,969.1 149.8,969.6 144.5,974.2 146.1,981.1 140.1,977.4 134.1,981.1 135.7,974.2 130.4,969.6 137.4,969.1" fill="#f0602c" stroke="#8a3a14" stroke-width="0.7"/>
<polygon points="564,650.3 568.3,642.5 576.9,642.5 581.2,650.3 576.9,658.1 568.3,658.1" fill="#f0602c" stroke="#8a3a14" stroke-width="0.7"/>
<text x="58.5" y="1011" font-size="18">MRCA</text>
<text x="56.5" y="1032.3" font-size="18">(25869)</text>
<circle cx="356.9" cy="636.4" r="14.3" fill="#9a10ea"/>
<path d="M356.9,636.4L356.9,622.1A14.3,14.3 0 1 1 343.94,642.44Z" fill="#22a010"/>
<path d="M356.9,622.1L356.9,636.4L343.94,642.44" stroke="#fff" stroke-width="0.7" fill="none"/>
<text x="353.5" y="662.4" font-size="12" text-anchor="middle"><tspan fill="#2aa52a">+163</tspan><tspan fill="#a020f0">/-30</tspan></text>
<circle cx="301.7" cy="688.3" r="14.3" fill="#9a10ea"/>
<path d="M301.7,688.3L301.7,674A14.3,14.3 0 0 1 303.69,674.14Z" fill="#22a010"/>
<path d="M301.7,674L301.7,688.3L303.69,674.14" stroke="#fff" stroke-width="0.7" fill="none"/>
<text x="299.5" y="713.5" font-size="12" text-anchor="middle"><tspan fill="#2aa52a">+155</tspan><tspan fill="#a020f0">/-1436</tspan></text>
<circle cx="357.4" cy="798.5" r="14.3" fill="#9a10ea"/>
<path d="M357.4,798.5L357.4,784.2A14.3,14.3 0 0 1 359.39,784.34Z" fill="#22a010"/>
<path d="M357.4,784.2L357.4,798.5L359.39,784.34" stroke="#fff" stroke-width="0.7" fill="none"/>
<text x="356.6" y="825.6" font-size="12" text-anchor="middle"><tspan fill="#2aa52a">+132</tspan><tspan fill="#a020f0">/-1371</tspan></text>
<circle cx="440.3" cy="838.7" r="14.3" fill="#9a10ea"/>
<path d="M440.3,838.7L440.3,824.4A14.3,14.3 0 0 1 453.90,834.28Z" fill="#22a010"/>
<path d="M440.3,824.4L440.3,838.7L453.90,834.28" stroke="#fff" stroke-width="0.7" fill="none"/>
<text x="438" y="864.6" font-size="12" text-anchor="middle"><tspan fill="#2aa52a">+1254</tspan><tspan fill="#a020f0">/-984</tspan></text>
<circle cx="230.2" cy="843.6" r="14.3" fill="#9a10ea"/>
<path d="M230.2,843.6L230.2,829.3A14.3,14.3 0 0 1 232.44,829.48Z" fill="#22a010"/>
<path d="M230.2,829.3L230.2,843.6L232.44,829.48" stroke="#fff" stroke-width="0.7" fill="none"/>
<text x="229" y="869.3" font-size="12" text-anchor="middle"><tspan fill="#2aa52a">+57</tspan><tspan fill="#a020f0">/-1099</tspan></text>
<circle cx="131.1" cy="934.7" r="14.3" fill="#9a10ea"/>
<path d="M131.1,920.4L131.1,934.7" stroke="#fff" stroke-width="0.8" fill="none"/>
<text x="130" y="960.3" font-size="12" text-anchor="middle"><tspan fill="#2aa52a">+1</tspan><tspan fill="#a020f0">/-2480</tspan></text>
<circle cx="528.5" cy="879.1" r="14.3" fill="#9a10ea"/>
<path d="M528.5,879.1L528.5,864.8A14.3,14.3 0 0 1 541.94,874.21Z" fill="#22a010"/>
<path d="M528.5,864.8L528.5,879.1L541.94,874.21" stroke="#fff" stroke-width="0.7" fill="none"/>
<text x="525" y="904.8" font-size="12" text-anchor="middle"><tspan fill="#2aa52a">+397</tspan><tspan fill="#a020f0">/-1649</tspan></text>
<circle cx="562.3" cy="922.7" r="14.3" fill="#9a10ea"/>
<path d="M562.3,922.7L562.3,908.4A14.3,14.3 0 0 1 576.60,922.70Z" fill="#22a010"/>
<path d="M562.3,908.4L562.3,922.7L576.60,922.70" stroke="#fff" stroke-width="0.7" fill="none"/>
<text x="560" y="949.6" font-size="12" text-anchor="middle"><tspan fill="#2aa52a">+1224</tspan><tspan fill="#a020f0">/-661</tspan></text>
<circle cx="607.1" cy="961" r="14.3" fill="#9a10ea"/>
<path d="M607.1,961L607.1,946.7A14.3,14.3 0 0 1 619.48,968.15Z" fill="#22a010"/>
<path d="M607.1,946.7L607.1,961L619.48,968.15" stroke="#fff" stroke-width="0.7" fill="none"/>
<text x="606" y="989.3" font-size="12" text-anchor="middle"><tspan fill="#2aa52a">+1422</tspan><tspan fill="#a020f0">/-858</tspan></text>
<circle cx="654.3" cy="989.8" r="14.3" fill="#9a10ea"/>
<path d="M654.3,989.8L654.3,975.5A14.3,14.3 0 0 1 668.60,989.80Z" fill="#22a010"/>
<path d="M654.3,975.5L654.3,989.8L668.60,989.80" stroke="#fff" stroke-width="0.7" fill="none"/>
<text x="657" y="1016" font-size="12" text-anchor="middle"><tspan fill="#2aa52a">+602</tspan><tspan fill="#a020f0">/-1594</tspan></text>
<text x="732" y="654.2" font-size="16" font-style="italic" font-weight="bold">Tamarix chinensis</text>
<circle cx="922.6" cy="648.4" r="14.3" fill="#9a10ea"/>
<path d="M922.6,648.4L922.6,634.1A14.3,14.3 0 0 1 934.73,640.82Z" fill="#22a010"/>
<path d="M922.6,634.1L922.6,648.4L934.73,640.82" stroke="#fff" stroke-width="0.7" fill="none"/>
<text x="922.4" y="674" font-size="12" text-anchor="middle"><tspan fill="#2aa52a">+2059</tspan><tspan fill="#a020f0">/-10336</tspan></text>
<text x="732" y="696.2" font-size="16" font-style="italic" font-weight="bold">Fagopyrum tataricum</text>
<circle cx="922.6" cy="690.5" r="14.3" fill="#9a10ea"/>
<path d="M922.6,690.5L922.6,676.2A14.3,14.3 0 0 1 933.06,700.25Z" fill="#22a010"/>
<path d="M922.6,676.2L922.6,690.5L933.06,700.25" stroke="#fff" stroke-width="0.7" fill="none"/>
<text x="922.4" y="716.1" font-size="12" text-anchor="middle"><tspan fill="#2aa52a">+4980</tspan><tspan fill="#a020f0">/-8448</tspan></text>
<text x="732" y="738.3" font-size="16" font-style="italic" font-weight="bold">Simmondsia chinensis</text>
<circle cx="922.6" cy="732.6" r="14.3" fill="#9a10ea"/>
<path d="M922.6,732.6L922.6,718.3A14.3,14.3 0 0 1 936.68,730.12Z" fill="#22a010"/>
<path d="M922.6,718.3L922.6,732.6L936.68,730.12" stroke="#fff" stroke-width="0.7" fill="none"/>
<text x="922.4" y="758.2" font-size="12" text-anchor="middle"><tspan fill="#2aa52a">+2310</tspan><tspan fill="#a020f0">/-8062</tspan></text>
<text x="732" y="780.3" font-size="16" font-style="italic" font-weight="bold">Hylocereus undatus</text>
<circle cx="922.6" cy="774.7" r="14.3" fill="#9a10ea"/>
<path d="M922.6,774.7L922.6,760.4A14.3,14.3 0 0 1 929.75,787.08Z" fill="#22a010"/>
<path d="M922.6,760.4L922.6,774.7L929.75,787.08" stroke="#fff" stroke-width="0.7" fill="none"/>
<text x="922.4" y="800.3" font-size="12" text-anchor="middle"><tspan fill="#2aa52a">+4488</tspan><tspan fill="#a020f0">/-6256</tspan></text>
<text x="732" y="822.3" font-size="16" font-style="italic" font-weight="bold">Amaranthus cruentus</text>
<circle cx="922.6" cy="816.8" r="14.3" fill="#9a10ea"/>
<path d="M922.6,816.8L922.6,802.5A14.3,14.3 0 0 1 933.55,825.99Z" fill="#22a010"/>
<path d="M922.6,802.5L922.6,816.8L933.55,825.99" stroke="#fff" stroke-width="0.7" fill="none"/>
<text x="922.4" y="842.4" font-size="12" text-anchor="middle"><tspan fill="#2aa52a">+3467</tspan><tspan fill="#a020f0">/-6097</tspan></text>
<text x="732" y="864.3" font-size="16" font-style="italic" font-weight="bold">Beta vulgaris</text>
<circle cx="922.6" cy="858.9" r="14.3" fill="#9a10ea"/>
<path d="M922.6,858.9L922.6,844.6A14.3,14.3 0 0 1 936.89,859.40Z" fill="#22a010"/>
<path d="M922.6,844.6L922.6,858.9L936.89,859.40" stroke="#fff" stroke-width="0.7" fill="none"/>
<text x="922.4" y="884.5" font-size="12" text-anchor="middle"><tspan fill="#2aa52a">+1823</tspan><tspan fill="#a020f0">/-4976</tspan></text>
<text x="732" y="906.4" font-size="16" font-style="italic" font-weight="bold">Spinacia oleracea</text>
<circle cx="922.6" cy="901" r="14.3" fill="#9a10ea"/>
<path d="M922.6,901L922.6,886.7A14.3,14.3 0 0 1 935.23,907.71Z" fill="#22a010"/>
<path d="M922.6,886.7L922.6,901L935.23,907.71" stroke="#fff" stroke-width="0.7" fill="none"/>
<text x="922.4" y="926.6" font-size="12" text-anchor="middle"><tspan fill="#2aa52a">+2201</tspan><tspan fill="#a020f0">/-4492</tspan></text>
<text x="732" y="948.4" font-size="16" font-style="italic" font-weight="bold">Atriplex hortensis</text>
<circle cx="922.6" cy="943.1" r="14.3" fill="#9a10ea"/>
<path d="M922.6,943.1L922.6,928.8A14.3,14.3 0 1 1 909.25,948.22Z" fill="#22a010"/>
<path d="M922.6,928.8L922.6,943.1L909.25,948.22" stroke="#fff" stroke-width="0.7" fill="none"/>
<text x="922.4" y="968.7" font-size="12" text-anchor="middle"><tspan fill="#2aa52a">+3051</tspan><tspan fill="#a020f0">/-1351</tspan></text>
<text x="732" y="990.4" font-size="16" font-style="italic" font-weight="bold">Chenopodium pallidicaule</text>
<circle cx="922.6" cy="985.2" r="14.3" fill="#9a10ea"/>
<path d="M922.6,985.2L922.6,970.9A14.3,14.3 0 0 1 936.90,985.20Z" fill="#22a010"/>
<path d="M922.6,970.9L922.6,985.2L936.90,985.20" stroke="#fff" stroke-width="0.7" fill="none"/>
<text x="922.4" y="1010.8" font-size="12" text-anchor="middle"><tspan fill="#2aa52a">+929</tspan><tspan fill="#a020f0">/-2882</tspan></text>
<text x="732" y="1032.5" font-size="16" font-style="italic" font-weight="bold">Vitis vinifera</text>
<circle cx="922.6" cy="1027.3" r="14.3" fill="#9a10ea"/>
<path d="M922.6,1027.3L922.6,1013A14.3,14.3 0 0 1 936.68,1029.78Z" fill="#22a010"/>
<path d="M922.6,1013L922.6,1027.3L936.68,1029.78" stroke="#fff" stroke-width="0.7" fill="none"/>
<text x="922.4" y="1052.9" font-size="12" text-anchor="middle"><tspan fill="#2aa52a">+3618</tspan><tspan fill="#a020f0">/-9347</tspan></text>
<text x="732" y="1074.5" font-size="16" font-style="italic" font-weight="bold">Arabidopsis thaliana</text>
<circle cx="922.6" cy="1069.4" r="14.3" fill="#9a10ea"/>
<path d="M922.6,1069.4L922.6,1055.1A14.3,14.3 0 0 1 936.90,1069.40Z" fill="#22a010"/>
<path d="M922.6,1055.1L922.6,1069.4L936.90,1069.40" stroke="#fff" stroke-width="0.7" fill="none"/>
<text x="922.4" y="1095" font-size="12" text-anchor="middle"><tspan fill="#2aa52a">+3906</tspan><tspan fill="#a020f0">/-11460</tspan></text>
<text x="732" y="1116.5" font-size="16" font-style="italic" font-weight="bold">Oryza sativa</text>
<circle cx="922.6" cy="1111.5" r="14.3" fill="#9a10ea"/>
<path d="M922.6,1111.5L922.6,1097.2A14.3,14.3 0 0 1 936.20,1115.92Z" fill="#22a010"/>
<path d="M922.6,1097.2L922.6,1111.5L936.20,1115.92" stroke="#fff" stroke-width="0.7" fill="none"/>
<text x="922.4" y="1137.1" font-size="12" text-anchor="middle"><tspan fill="#2aa52a">+5539</tspan><tspan fill="#a020f0">/-12861</tspan></text>
<rect x="57.7" y="1125" width="120.1" height="20.6" fill="#2ec0ce"/>
<text x="117.8" y="1140.8" font-size="15" text-anchor="middle">Jurassic</text>
<rect x="177.8" y="1125" width="299.3" height="20.6" fill="#9bce64"/>
<text x="327.5" y="1140.8" font-size="15" text-anchor="middle">Cretaceous</text>
<rect x="477.2" y="1125" width="148.7" height="20.6" fill="#f7a484"/>
<text x="551.5" y="1140.8" font-size="15" text-anchor="middle">Palaeogene</text>
<rect x="625.9" y="1125" width="99.1" height="20.6" fill="#d8cb58"/>
<text x="675.4" y="1140.8" font-size="15" text-anchor="middle">Neogene</text>
<path d="M57.7,1146.8H725M725,1146.8v6.5M705.9,1146.8v3M686.9,1146.8v3M667.8,1146.8v3M648.7,1146.8v3M629.7,1146.8v6.5M610.6,1146.8v3M591.5,1146.8v3M572.5,1146.8v3M553.4,1146.8v3M534.4,1146.8v6.5M515.3,1146.8v3M496.2,1146.8v3M477.2,1146.8v3M458.1,1146.8v3M439,1146.8v6.5M420,1146.8v3M400.9,1146.8v3M381.8,1146.8v3M362.8,1146.8v3M343.7,1146.8v6.5M324.6,1146.8v3M305.6,1146.8v3M286.5,1146.8v3M267.4,1146.8v3M248.4,1146.8v6.5M229.3,1146.8v3M210.2,1146.8v3M191.2,1146.8v3M172.1,1146.8v3M153,1146.8v6.5M134,1146.8v3M114.9,1146.8v3M95.9,1146.8v3M76.8,1146.8v3M57.7,1146.8v6.5" stroke="#000" stroke-width="1.3" fill="none"/>
<text x="629.7" y="1168.8" font-size="14.5" text-anchor="middle">25</text>
<text x="534.4" y="1168.8" font-size="14.5" text-anchor="middle">50</text>
<text x="439" y="1168.8" font-size="14.5" text-anchor="middle">75</text>
<text x="343.7" y="1168.8" font-size="14.5" text-anchor="middle">100</text>
<text x="248.4" y="1168.8" font-size="14.5" text-anchor="middle">125</text>
<text x="153" y="1168.8" font-size="14.5" text-anchor="middle">150</text>
<text x="57.7" y="1168.8" font-size="14.5" text-anchor="middle">175</text>
<text x="721.4" y="1168.8" font-size="14.5">0 Million years ago</text>
</svg></body></html>
